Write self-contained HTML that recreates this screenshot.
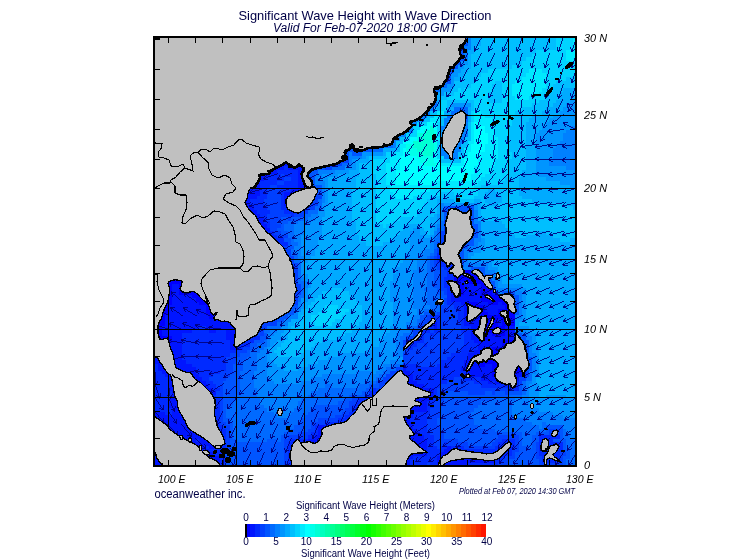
<!DOCTYPE html>
<html><head><meta charset="utf-8"><title>Significant Wave Height with Wave Direction</title>
<style>
html,body{margin:0;padding:0;background:#fff;}
body{width:755px;height:560px;overflow:hidden;font-family:"Liberation Sans",sans-serif;}
svg{display:block}
svg text{font-family:"Liberation Sans",sans-serif;}
</style></head><body>
<svg width="755" height="560" viewBox="0 0 755 560">
<rect width="755" height="560" fill="#fff"/>
<defs><clipPath id="mapclip"><rect x="155" y="38" width="420" height="427"/></clipPath></defs>
<g clip-path="url(#mapclip)" shape-rendering="crispEdges">
<rect x="155" y="38" width="420" height="427" fill="#0080ff"/>
<rect x="152" y="466" width="61" height="3" fill="#0015ff"/>
<rect x="213" y="466" width="10" height="3" fill="#002aff"/>
<rect x="223" y="466" width="3" height="3" fill="#0040ff"/>
<rect x="226" y="466" width="58" height="3" fill="#0055ff"/>
<rect x="284" y="466" width="4" height="3" fill="#0040ff"/>
<rect x="288" y="466" width="30" height="3" fill="#002aff"/>
<rect x="318" y="466" width="38" height="3" fill="#0015ff"/>
<rect x="356" y="466" width="3" height="3" fill="#002aff"/>
<rect x="359" y="466" width="51" height="3" fill="#0015ff"/>
<rect x="410" y="466" width="14" height="3" fill="#002aff"/>
<rect x="424" y="466" width="6" height="3" fill="#0040ff"/>
<rect x="430" y="466" width="7" height="3" fill="#002aff"/>
<rect x="437" y="466" width="21" height="3" fill="#0015ff"/>
<rect x="458" y="466" width="23" height="3" fill="#002aff"/>
<rect x="481" y="466" width="27" height="3" fill="#0040ff"/>
<rect x="508" y="466" width="58" height="3" fill="#0055ff"/>
<rect x="566" y="466" width="14" height="3" fill="#006aff"/>
<rect x="152" y="463" width="68" height="3" fill="#0015ff"/>
<rect x="220" y="463" width="3" height="3" fill="#002aff"/>
<rect x="223" y="463" width="3" height="3" fill="#0040ff"/>
<rect x="226" y="463" width="58" height="3" fill="#0055ff"/>
<rect x="284" y="463" width="4" height="3" fill="#0040ff"/>
<rect x="288" y="463" width="27" height="3" fill="#002aff"/>
<rect x="315" y="463" width="37" height="3" fill="#0015ff"/>
<rect x="352" y="463" width="10" height="3" fill="#002aff"/>
<rect x="362" y="463" width="48" height="3" fill="#0015ff"/>
<rect x="410" y="463" width="17" height="3" fill="#002aff"/>
<rect x="427" y="463" width="3" height="3" fill="#0040ff"/>
<rect x="430" y="463" width="7" height="3" fill="#002aff"/>
<rect x="437" y="463" width="31" height="3" fill="#0015ff"/>
<rect x="468" y="463" width="30" height="3" fill="#002aff"/>
<rect x="498" y="463" width="10" height="3" fill="#0040ff"/>
<rect x="508" y="463" width="31" height="3" fill="#0055ff"/>
<rect x="539" y="463" width="24" height="3" fill="#0040ff"/>
<rect x="563" y="463" width="3" height="3" fill="#0055ff"/>
<rect x="566" y="463" width="14" height="3" fill="#006aff"/>
<rect x="152" y="459" width="68" height="4" fill="#0015ff"/>
<rect x="220" y="459" width="6" height="4" fill="#002aff"/>
<rect x="226" y="459" width="58" height="4" fill="#0055ff"/>
<rect x="284" y="459" width="4" height="4" fill="#0040ff"/>
<rect x="288" y="459" width="23" height="4" fill="#002aff"/>
<rect x="311" y="459" width="41" height="4" fill="#0015ff"/>
<rect x="352" y="459" width="14" height="4" fill="#002aff"/>
<rect x="366" y="459" width="44" height="4" fill="#0015ff"/>
<rect x="410" y="459" width="27" height="4" fill="#002aff"/>
<rect x="437" y="459" width="58" height="4" fill="#0015ff"/>
<rect x="495" y="459" width="7" height="4" fill="#002aff"/>
<rect x="502" y="459" width="6" height="4" fill="#0040ff"/>
<rect x="508" y="459" width="31" height="4" fill="#0055ff"/>
<rect x="539" y="459" width="3" height="4" fill="#0040ff"/>
<rect x="542" y="459" width="18" height="4" fill="#002aff"/>
<rect x="560" y="459" width="3" height="4" fill="#0040ff"/>
<rect x="563" y="459" width="3" height="4" fill="#0055ff"/>
<rect x="566" y="459" width="14" height="4" fill="#006aff"/>
<rect x="152" y="456" width="68" height="3" fill="#0015ff"/>
<rect x="220" y="456" width="6" height="3" fill="#002aff"/>
<rect x="226" y="456" width="58" height="3" fill="#0055ff"/>
<rect x="284" y="456" width="4" height="3" fill="#0040ff"/>
<rect x="288" y="456" width="20" height="3" fill="#002aff"/>
<rect x="308" y="456" width="41" height="3" fill="#0015ff"/>
<rect x="349" y="456" width="17" height="3" fill="#002aff"/>
<rect x="366" y="456" width="47" height="3" fill="#0015ff"/>
<rect x="413" y="456" width="24" height="3" fill="#002aff"/>
<rect x="437" y="456" width="58" height="3" fill="#0015ff"/>
<rect x="495" y="456" width="10" height="3" fill="#002aff"/>
<rect x="505" y="456" width="10" height="3" fill="#0040ff"/>
<rect x="515" y="456" width="21" height="3" fill="#0055ff"/>
<rect x="536" y="456" width="6" height="3" fill="#0040ff"/>
<rect x="542" y="456" width="18" height="3" fill="#002aff"/>
<rect x="560" y="456" width="3" height="3" fill="#0040ff"/>
<rect x="563" y="456" width="7" height="3" fill="#0055ff"/>
<rect x="570" y="456" width="10" height="3" fill="#006aff"/>
<rect x="152" y="452" width="61" height="4" fill="#0015ff"/>
<rect x="213" y="452" width="10" height="4" fill="#002aff"/>
<rect x="223" y="452" width="61" height="4" fill="#0055ff"/>
<rect x="284" y="452" width="4" height="4" fill="#0040ff"/>
<rect x="288" y="452" width="20" height="4" fill="#002aff"/>
<rect x="308" y="452" width="37" height="4" fill="#0015ff"/>
<rect x="345" y="452" width="24" height="4" fill="#002aff"/>
<rect x="369" y="452" width="58" height="4" fill="#0015ff"/>
<rect x="427" y="452" width="13" height="4" fill="#002aff"/>
<rect x="440" y="452" width="18" height="4" fill="#0015ff"/>
<rect x="458" y="452" width="54" height="4" fill="#002aff"/>
<rect x="512" y="452" width="3" height="4" fill="#0040ff"/>
<rect x="515" y="452" width="21" height="4" fill="#0055ff"/>
<rect x="536" y="452" width="3" height="4" fill="#0040ff"/>
<rect x="539" y="452" width="21" height="4" fill="#002aff"/>
<rect x="560" y="452" width="6" height="4" fill="#0040ff"/>
<rect x="566" y="452" width="4" height="4" fill="#0055ff"/>
<rect x="570" y="452" width="10" height="4" fill="#006aff"/>
<rect x="152" y="449" width="57" height="3" fill="#0015ff"/>
<rect x="209" y="449" width="14" height="3" fill="#002aff"/>
<rect x="223" y="449" width="7" height="3" fill="#0040ff"/>
<rect x="230" y="449" width="54" height="3" fill="#0055ff"/>
<rect x="284" y="449" width="4" height="3" fill="#0040ff"/>
<rect x="288" y="449" width="20" height="3" fill="#002aff"/>
<rect x="308" y="449" width="37" height="3" fill="#0015ff"/>
<rect x="345" y="449" width="24" height="3" fill="#002aff"/>
<rect x="369" y="449" width="58" height="3" fill="#0015ff"/>
<rect x="427" y="449" width="17" height="3" fill="#002aff"/>
<rect x="444" y="449" width="10" height="3" fill="#0015ff"/>
<rect x="454" y="449" width="58" height="3" fill="#002aff"/>
<rect x="512" y="449" width="7" height="3" fill="#0040ff"/>
<rect x="519" y="449" width="17" height="3" fill="#0055ff"/>
<rect x="536" y="449" width="3" height="3" fill="#0040ff"/>
<rect x="539" y="449" width="24" height="3" fill="#002aff"/>
<rect x="563" y="449" width="7" height="3" fill="#0055ff"/>
<rect x="570" y="449" width="10" height="3" fill="#006aff"/>
<rect x="152" y="446" width="54" height="3" fill="#0015ff"/>
<rect x="206" y="446" width="3" height="3" fill="#002aff"/>
<rect x="209" y="446" width="11" height="3" fill="#0015ff"/>
<rect x="220" y="446" width="6" height="3" fill="#002aff"/>
<rect x="226" y="446" width="4" height="3" fill="#0040ff"/>
<rect x="230" y="446" width="54" height="3" fill="#0055ff"/>
<rect x="284" y="446" width="4" height="3" fill="#0040ff"/>
<rect x="288" y="446" width="20" height="3" fill="#002aff"/>
<rect x="308" y="446" width="34" height="3" fill="#0015ff"/>
<rect x="342" y="446" width="30" height="3" fill="#002aff"/>
<rect x="372" y="446" width="55" height="3" fill="#0015ff"/>
<rect x="427" y="446" width="10" height="3" fill="#002aff"/>
<rect x="437" y="446" width="3" height="3" fill="#0040ff"/>
<rect x="440" y="446" width="7" height="3" fill="#002aff"/>
<rect x="447" y="446" width="4" height="3" fill="#0015ff"/>
<rect x="451" y="446" width="13" height="3" fill="#002aff"/>
<rect x="464" y="446" width="31" height="3" fill="#0040ff"/>
<rect x="495" y="446" width="20" height="3" fill="#002aff"/>
<rect x="515" y="446" width="4" height="3" fill="#0040ff"/>
<rect x="519" y="446" width="10" height="3" fill="#0055ff"/>
<rect x="529" y="446" width="3" height="3" fill="#006aff"/>
<rect x="532" y="446" width="4" height="3" fill="#0055ff"/>
<rect x="536" y="446" width="3" height="3" fill="#0040ff"/>
<rect x="539" y="446" width="24" height="3" fill="#002aff"/>
<rect x="563" y="446" width="3" height="3" fill="#0055ff"/>
<rect x="566" y="446" width="14" height="3" fill="#006aff"/>
<rect x="152" y="442" width="68" height="4" fill="#0015ff"/>
<rect x="220" y="442" width="6" height="4" fill="#002aff"/>
<rect x="226" y="442" width="4" height="4" fill="#0040ff"/>
<rect x="230" y="442" width="54" height="4" fill="#0055ff"/>
<rect x="284" y="442" width="4" height="4" fill="#0040ff"/>
<rect x="288" y="442" width="20" height="4" fill="#002aff"/>
<rect x="308" y="442" width="30" height="4" fill="#0015ff"/>
<rect x="338" y="442" width="38" height="4" fill="#002aff"/>
<rect x="376" y="442" width="51" height="4" fill="#0015ff"/>
<rect x="427" y="442" width="7" height="4" fill="#002aff"/>
<rect x="434" y="442" width="10" height="4" fill="#0040ff"/>
<rect x="444" y="442" width="3" height="4" fill="#002aff"/>
<rect x="447" y="442" width="21" height="4" fill="#0040ff"/>
<rect x="468" y="442" width="24" height="4" fill="#0055ff"/>
<rect x="492" y="442" width="6" height="4" fill="#0040ff"/>
<rect x="498" y="442" width="17" height="4" fill="#002aff"/>
<rect x="515" y="442" width="4" height="4" fill="#0040ff"/>
<rect x="519" y="442" width="3" height="4" fill="#0055ff"/>
<rect x="522" y="442" width="10" height="4" fill="#006aff"/>
<rect x="532" y="442" width="4" height="4" fill="#0055ff"/>
<rect x="536" y="442" width="3" height="4" fill="#0040ff"/>
<rect x="539" y="442" width="24" height="4" fill="#002aff"/>
<rect x="563" y="442" width="3" height="4" fill="#0055ff"/>
<rect x="566" y="442" width="14" height="4" fill="#006aff"/>
<rect x="152" y="439" width="44" height="3" fill="#0015ff"/>
<rect x="196" y="439" width="3" height="3" fill="#002aff"/>
<rect x="199" y="439" width="17" height="3" fill="#0015ff"/>
<rect x="216" y="439" width="10" height="3" fill="#002aff"/>
<rect x="226" y="439" width="4" height="3" fill="#0040ff"/>
<rect x="230" y="439" width="6" height="3" fill="#0055ff"/>
<rect x="236" y="439" width="31" height="3" fill="#006aff"/>
<rect x="267" y="439" width="10" height="3" fill="#0055ff"/>
<rect x="277" y="439" width="4" height="3" fill="#006aff"/>
<rect x="281" y="439" width="3" height="3" fill="#0055ff"/>
<rect x="284" y="439" width="7" height="3" fill="#0040ff"/>
<rect x="291" y="439" width="17" height="3" fill="#002aff"/>
<rect x="308" y="439" width="27" height="3" fill="#0015ff"/>
<rect x="335" y="439" width="41" height="3" fill="#002aff"/>
<rect x="376" y="439" width="51" height="3" fill="#0015ff"/>
<rect x="427" y="439" width="7" height="3" fill="#002aff"/>
<rect x="434" y="439" width="24" height="3" fill="#0040ff"/>
<rect x="458" y="439" width="37" height="3" fill="#0055ff"/>
<rect x="495" y="439" width="7" height="3" fill="#0040ff"/>
<rect x="502" y="439" width="13" height="3" fill="#002aff"/>
<rect x="515" y="439" width="4" height="3" fill="#0040ff"/>
<rect x="519" y="439" width="3" height="3" fill="#0055ff"/>
<rect x="522" y="439" width="10" height="3" fill="#006aff"/>
<rect x="532" y="439" width="7" height="3" fill="#0055ff"/>
<rect x="539" y="439" width="14" height="3" fill="#002aff"/>
<rect x="553" y="439" width="13" height="3" fill="#0055ff"/>
<rect x="566" y="439" width="14" height="3" fill="#006aff"/>
<rect x="152" y="435" width="64" height="4" fill="#0015ff"/>
<rect x="216" y="435" width="10" height="4" fill="#002aff"/>
<rect x="226" y="435" width="4" height="4" fill="#0040ff"/>
<rect x="230" y="435" width="3" height="4" fill="#0055ff"/>
<rect x="233" y="435" width="48" height="4" fill="#006aff"/>
<rect x="281" y="435" width="7" height="4" fill="#0055ff"/>
<rect x="288" y="435" width="20" height="4" fill="#0040ff"/>
<rect x="308" y="435" width="7" height="4" fill="#002aff"/>
<rect x="315" y="435" width="17" height="4" fill="#0015ff"/>
<rect x="332" y="435" width="44" height="4" fill="#002aff"/>
<rect x="376" y="435" width="48" height="4" fill="#0015ff"/>
<rect x="424" y="435" width="10" height="4" fill="#002aff"/>
<rect x="434" y="435" width="10" height="4" fill="#0040ff"/>
<rect x="444" y="435" width="54" height="4" fill="#0055ff"/>
<rect x="498" y="435" width="21" height="4" fill="#0040ff"/>
<rect x="519" y="435" width="3" height="4" fill="#0055ff"/>
<rect x="522" y="435" width="10" height="4" fill="#006aff"/>
<rect x="532" y="435" width="7" height="4" fill="#0055ff"/>
<rect x="539" y="435" width="21" height="4" fill="#002aff"/>
<rect x="560" y="435" width="3" height="4" fill="#0055ff"/>
<rect x="563" y="435" width="7" height="4" fill="#006aff"/>
<rect x="570" y="435" width="10" height="4" fill="#0080ff"/>
<rect x="152" y="432" width="61" height="3" fill="#0015ff"/>
<rect x="213" y="432" width="13" height="3" fill="#002aff"/>
<rect x="226" y="432" width="4" height="3" fill="#0040ff"/>
<rect x="230" y="432" width="3" height="3" fill="#0055ff"/>
<rect x="233" y="432" width="51" height="3" fill="#006aff"/>
<rect x="284" y="432" width="14" height="3" fill="#0055ff"/>
<rect x="298" y="432" width="13" height="3" fill="#0040ff"/>
<rect x="311" y="432" width="7" height="3" fill="#002aff"/>
<rect x="318" y="432" width="10" height="3" fill="#0015ff"/>
<rect x="328" y="432" width="48" height="3" fill="#002aff"/>
<rect x="376" y="432" width="44" height="3" fill="#0015ff"/>
<rect x="420" y="432" width="10" height="3" fill="#002aff"/>
<rect x="430" y="432" width="14" height="3" fill="#0040ff"/>
<rect x="444" y="432" width="78" height="3" fill="#0055ff"/>
<rect x="522" y="432" width="14" height="3" fill="#006aff"/>
<rect x="536" y="432" width="13" height="3" fill="#0055ff"/>
<rect x="549" y="432" width="11" height="3" fill="#0040ff"/>
<rect x="560" y="432" width="3" height="3" fill="#0055ff"/>
<rect x="563" y="432" width="3" height="3" fill="#006aff"/>
<rect x="566" y="432" width="14" height="3" fill="#0080ff"/>
<rect x="152" y="429" width="57" height="3" fill="#0015ff"/>
<rect x="209" y="429" width="17" height="3" fill="#002aff"/>
<rect x="226" y="429" width="4" height="3" fill="#0040ff"/>
<rect x="230" y="429" width="3" height="3" fill="#0055ff"/>
<rect x="233" y="429" width="58" height="3" fill="#006aff"/>
<rect x="291" y="429" width="17" height="3" fill="#0055ff"/>
<rect x="308" y="429" width="7" height="3" fill="#0040ff"/>
<rect x="315" y="429" width="3" height="3" fill="#002aff"/>
<rect x="318" y="429" width="7" height="3" fill="#0015ff"/>
<rect x="325" y="429" width="51" height="3" fill="#002aff"/>
<rect x="376" y="429" width="41" height="3" fill="#0015ff"/>
<rect x="417" y="429" width="10" height="3" fill="#002aff"/>
<rect x="427" y="429" width="13" height="3" fill="#0040ff"/>
<rect x="440" y="429" width="55" height="3" fill="#0055ff"/>
<rect x="495" y="429" width="51" height="3" fill="#006aff"/>
<rect x="546" y="429" width="3" height="3" fill="#0055ff"/>
<rect x="549" y="429" width="11" height="3" fill="#0040ff"/>
<rect x="560" y="429" width="3" height="3" fill="#0055ff"/>
<rect x="563" y="429" width="3" height="3" fill="#006aff"/>
<rect x="566" y="429" width="14" height="3" fill="#0080ff"/>
<rect x="152" y="425" width="54" height="4" fill="#0015ff"/>
<rect x="206" y="425" width="17" height="4" fill="#002aff"/>
<rect x="223" y="425" width="7" height="4" fill="#0040ff"/>
<rect x="230" y="425" width="3" height="4" fill="#0055ff"/>
<rect x="233" y="425" width="61" height="4" fill="#006aff"/>
<rect x="294" y="425" width="17" height="4" fill="#0055ff"/>
<rect x="311" y="425" width="4" height="4" fill="#0040ff"/>
<rect x="315" y="425" width="3" height="4" fill="#002aff"/>
<rect x="318" y="425" width="7" height="4" fill="#0015ff"/>
<rect x="325" y="425" width="54" height="4" fill="#002aff"/>
<rect x="379" y="425" width="34" height="4" fill="#0015ff"/>
<rect x="413" y="425" width="14" height="4" fill="#002aff"/>
<rect x="427" y="425" width="13" height="4" fill="#0040ff"/>
<rect x="440" y="425" width="38" height="4" fill="#0055ff"/>
<rect x="478" y="425" width="61" height="4" fill="#006aff"/>
<rect x="539" y="425" width="3" height="4" fill="#0080ff"/>
<rect x="542" y="425" width="4" height="4" fill="#006aff"/>
<rect x="546" y="425" width="17" height="4" fill="#0055ff"/>
<rect x="563" y="425" width="17" height="4" fill="#0080ff"/>
<rect x="152" y="422" width="50" height="3" fill="#0015ff"/>
<rect x="202" y="422" width="18" height="3" fill="#002aff"/>
<rect x="220" y="422" width="6" height="3" fill="#0040ff"/>
<rect x="226" y="422" width="7" height="3" fill="#0055ff"/>
<rect x="233" y="422" width="65" height="3" fill="#006aff"/>
<rect x="298" y="422" width="13" height="3" fill="#0055ff"/>
<rect x="311" y="422" width="14" height="3" fill="#0040ff"/>
<rect x="325" y="422" width="54" height="3" fill="#002aff"/>
<rect x="379" y="422" width="34" height="3" fill="#0015ff"/>
<rect x="413" y="422" width="14" height="3" fill="#002aff"/>
<rect x="427" y="422" width="10" height="3" fill="#0040ff"/>
<rect x="437" y="422" width="37" height="3" fill="#0055ff"/>
<rect x="474" y="422" width="58" height="3" fill="#006aff"/>
<rect x="532" y="422" width="10" height="3" fill="#0080ff"/>
<rect x="542" y="422" width="4" height="3" fill="#006aff"/>
<rect x="546" y="422" width="34" height="3" fill="#0080ff"/>
<rect x="152" y="418" width="50" height="4" fill="#0015ff"/>
<rect x="202" y="418" width="18" height="4" fill="#002aff"/>
<rect x="220" y="418" width="3" height="4" fill="#0040ff"/>
<rect x="223" y="418" width="7" height="4" fill="#0055ff"/>
<rect x="230" y="418" width="71" height="4" fill="#006aff"/>
<rect x="301" y="418" width="17" height="4" fill="#0055ff"/>
<rect x="318" y="418" width="20" height="4" fill="#0040ff"/>
<rect x="338" y="418" width="41" height="4" fill="#002aff"/>
<rect x="379" y="418" width="31" height="4" fill="#0015ff"/>
<rect x="410" y="418" width="17" height="4" fill="#002aff"/>
<rect x="427" y="418" width="10" height="4" fill="#0040ff"/>
<rect x="437" y="418" width="37" height="4" fill="#0055ff"/>
<rect x="474" y="418" width="52" height="4" fill="#006aff"/>
<rect x="526" y="418" width="54" height="4" fill="#0080ff"/>
<rect x="152" y="415" width="47" height="3" fill="#0015ff"/>
<rect x="199" y="415" width="21" height="3" fill="#002aff"/>
<rect x="220" y="415" width="3" height="3" fill="#0040ff"/>
<rect x="223" y="415" width="3" height="3" fill="#0055ff"/>
<rect x="226" y="415" width="51" height="3" fill="#006aff"/>
<rect x="277" y="415" width="11" height="3" fill="#0080ff"/>
<rect x="288" y="415" width="16" height="3" fill="#006aff"/>
<rect x="304" y="415" width="31" height="3" fill="#0055ff"/>
<rect x="335" y="415" width="10" height="3" fill="#0040ff"/>
<rect x="345" y="415" width="38" height="3" fill="#002aff"/>
<rect x="383" y="415" width="30" height="3" fill="#0015ff"/>
<rect x="413" y="415" width="14" height="3" fill="#002aff"/>
<rect x="427" y="415" width="13" height="3" fill="#0040ff"/>
<rect x="440" y="415" width="31" height="3" fill="#0055ff"/>
<rect x="471" y="415" width="44" height="3" fill="#006aff"/>
<rect x="515" y="415" width="48" height="3" fill="#0080ff"/>
<rect x="563" y="415" width="17" height="3" fill="#0095ff"/>
<rect x="152" y="412" width="13" height="3" fill="#0015ff"/>
<rect x="165" y="412" width="7" height="3" fill="#002aff"/>
<rect x="172" y="412" width="27" height="3" fill="#0015ff"/>
<rect x="199" y="412" width="21" height="3" fill="#002aff"/>
<rect x="220" y="412" width="3" height="3" fill="#0040ff"/>
<rect x="223" y="412" width="3" height="3" fill="#0055ff"/>
<rect x="226" y="412" width="48" height="3" fill="#006aff"/>
<rect x="274" y="412" width="17" height="3" fill="#0080ff"/>
<rect x="291" y="412" width="17" height="3" fill="#006aff"/>
<rect x="308" y="412" width="34" height="3" fill="#0055ff"/>
<rect x="342" y="412" width="7" height="3" fill="#0040ff"/>
<rect x="349" y="412" width="34" height="3" fill="#002aff"/>
<rect x="383" y="412" width="30" height="3" fill="#0015ff"/>
<rect x="413" y="412" width="17" height="3" fill="#002aff"/>
<rect x="430" y="412" width="10" height="3" fill="#0040ff"/>
<rect x="440" y="412" width="31" height="3" fill="#0055ff"/>
<rect x="471" y="412" width="41" height="3" fill="#006aff"/>
<rect x="512" y="412" width="41" height="3" fill="#0080ff"/>
<rect x="553" y="412" width="27" height="3" fill="#0095ff"/>
<rect x="152" y="408" width="20" height="4" fill="#002aff"/>
<rect x="172" y="408" width="27" height="4" fill="#0015ff"/>
<rect x="199" y="408" width="21" height="4" fill="#002aff"/>
<rect x="220" y="408" width="3" height="4" fill="#0040ff"/>
<rect x="223" y="408" width="3" height="4" fill="#0055ff"/>
<rect x="226" y="408" width="41" height="4" fill="#006aff"/>
<rect x="267" y="408" width="27" height="4" fill="#0080ff"/>
<rect x="294" y="408" width="17" height="4" fill="#006aff"/>
<rect x="311" y="408" width="34" height="4" fill="#0055ff"/>
<rect x="345" y="408" width="7" height="4" fill="#0040ff"/>
<rect x="352" y="408" width="34" height="4" fill="#002aff"/>
<rect x="386" y="408" width="41" height="4" fill="#0015ff"/>
<rect x="427" y="408" width="3" height="4" fill="#002aff"/>
<rect x="430" y="408" width="10" height="4" fill="#0040ff"/>
<rect x="440" y="408" width="34" height="4" fill="#0055ff"/>
<rect x="474" y="408" width="38" height="4" fill="#006aff"/>
<rect x="512" y="408" width="27" height="4" fill="#0080ff"/>
<rect x="539" y="408" width="41" height="4" fill="#0095ff"/>
<rect x="152" y="405" width="16" height="3" fill="#002aff"/>
<rect x="168" y="405" width="31" height="3" fill="#0015ff"/>
<rect x="199" y="405" width="21" height="3" fill="#002aff"/>
<rect x="220" y="405" width="3" height="3" fill="#0040ff"/>
<rect x="223" y="405" width="7" height="3" fill="#0055ff"/>
<rect x="230" y="405" width="34" height="3" fill="#006aff"/>
<rect x="264" y="405" width="34" height="3" fill="#0080ff"/>
<rect x="298" y="405" width="17" height="3" fill="#006aff"/>
<rect x="315" y="405" width="34" height="3" fill="#0055ff"/>
<rect x="349" y="405" width="3" height="3" fill="#0040ff"/>
<rect x="352" y="405" width="34" height="3" fill="#002aff"/>
<rect x="386" y="405" width="4" height="3" fill="#0040ff"/>
<rect x="390" y="405" width="37" height="3" fill="#0015ff"/>
<rect x="427" y="405" width="7" height="3" fill="#002aff"/>
<rect x="434" y="405" width="6" height="3" fill="#0040ff"/>
<rect x="440" y="405" width="38" height="3" fill="#0055ff"/>
<rect x="478" y="405" width="34" height="3" fill="#006aff"/>
<rect x="512" y="405" width="20" height="3" fill="#0080ff"/>
<rect x="532" y="405" width="48" height="3" fill="#0095ff"/>
<rect x="152" y="401" width="16" height="4" fill="#002aff"/>
<rect x="168" y="401" width="31" height="4" fill="#0015ff"/>
<rect x="199" y="401" width="21" height="4" fill="#002aff"/>
<rect x="220" y="401" width="3" height="4" fill="#0040ff"/>
<rect x="223" y="401" width="10" height="4" fill="#0055ff"/>
<rect x="233" y="401" width="27" height="4" fill="#006aff"/>
<rect x="260" y="401" width="38" height="4" fill="#0080ff"/>
<rect x="298" y="401" width="40" height="4" fill="#006aff"/>
<rect x="338" y="401" width="11" height="4" fill="#0055ff"/>
<rect x="349" y="401" width="7" height="4" fill="#0040ff"/>
<rect x="356" y="401" width="27" height="4" fill="#002aff"/>
<rect x="383" y="401" width="10" height="4" fill="#0040ff"/>
<rect x="393" y="401" width="34" height="4" fill="#0015ff"/>
<rect x="427" y="401" width="7" height="4" fill="#002aff"/>
<rect x="434" y="401" width="6" height="4" fill="#0040ff"/>
<rect x="440" y="401" width="41" height="4" fill="#0055ff"/>
<rect x="481" y="401" width="31" height="4" fill="#006aff"/>
<rect x="512" y="401" width="17" height="4" fill="#0080ff"/>
<rect x="529" y="401" width="51" height="4" fill="#0095ff"/>
<rect x="152" y="398" width="16" height="3" fill="#002aff"/>
<rect x="168" y="398" width="38" height="3" fill="#0015ff"/>
<rect x="206" y="398" width="14" height="3" fill="#002aff"/>
<rect x="220" y="398" width="3" height="3" fill="#0040ff"/>
<rect x="223" y="398" width="13" height="3" fill="#0055ff"/>
<rect x="236" y="398" width="24" height="3" fill="#006aff"/>
<rect x="260" y="398" width="41" height="3" fill="#0080ff"/>
<rect x="301" y="398" width="44" height="3" fill="#006aff"/>
<rect x="345" y="398" width="7" height="3" fill="#0055ff"/>
<rect x="352" y="398" width="7" height="3" fill="#0040ff"/>
<rect x="359" y="398" width="24" height="3" fill="#002aff"/>
<rect x="383" y="398" width="13" height="3" fill="#0040ff"/>
<rect x="396" y="398" width="34" height="3" fill="#0015ff"/>
<rect x="430" y="398" width="7" height="3" fill="#002aff"/>
<rect x="437" y="398" width="7" height="3" fill="#0040ff"/>
<rect x="444" y="398" width="48" height="3" fill="#0055ff"/>
<rect x="492" y="398" width="23" height="3" fill="#006aff"/>
<rect x="515" y="398" width="14" height="3" fill="#0080ff"/>
<rect x="529" y="398" width="51" height="3" fill="#0095ff"/>
<rect x="152" y="395" width="20" height="3" fill="#002aff"/>
<rect x="172" y="395" width="41" height="3" fill="#0015ff"/>
<rect x="213" y="395" width="3" height="3" fill="#002aff"/>
<rect x="216" y="395" width="7" height="3" fill="#0040ff"/>
<rect x="223" y="395" width="13" height="3" fill="#0055ff"/>
<rect x="236" y="395" width="21" height="3" fill="#006aff"/>
<rect x="257" y="395" width="51" height="3" fill="#0080ff"/>
<rect x="308" y="395" width="41" height="3" fill="#006aff"/>
<rect x="349" y="395" width="17" height="3" fill="#0055ff"/>
<rect x="366" y="395" width="13" height="3" fill="#002aff"/>
<rect x="379" y="395" width="17" height="3" fill="#0040ff"/>
<rect x="396" y="395" width="38" height="3" fill="#0015ff"/>
<rect x="434" y="395" width="3" height="3" fill="#002aff"/>
<rect x="437" y="395" width="7" height="3" fill="#0040ff"/>
<rect x="444" y="395" width="64" height="3" fill="#0055ff"/>
<rect x="508" y="395" width="14" height="3" fill="#006aff"/>
<rect x="522" y="395" width="7" height="3" fill="#0080ff"/>
<rect x="529" y="395" width="10" height="3" fill="#0095ff"/>
<rect x="539" y="395" width="7" height="3" fill="#00aaff"/>
<rect x="546" y="395" width="20" height="3" fill="#0095ff"/>
<rect x="566" y="395" width="14" height="3" fill="#00aaff"/>
<rect x="152" y="391" width="20" height="4" fill="#002aff"/>
<rect x="172" y="391" width="44" height="4" fill="#0015ff"/>
<rect x="216" y="391" width="7" height="4" fill="#0040ff"/>
<rect x="223" y="391" width="17" height="4" fill="#0055ff"/>
<rect x="240" y="391" width="17" height="4" fill="#006aff"/>
<rect x="257" y="391" width="54" height="4" fill="#0080ff"/>
<rect x="311" y="391" width="51" height="4" fill="#006aff"/>
<rect x="362" y="391" width="7" height="4" fill="#0055ff"/>
<rect x="369" y="391" width="10" height="4" fill="#002aff"/>
<rect x="379" y="391" width="17" height="4" fill="#0040ff"/>
<rect x="396" y="391" width="38" height="4" fill="#0015ff"/>
<rect x="434" y="391" width="3" height="4" fill="#002aff"/>
<rect x="437" y="391" width="10" height="4" fill="#0040ff"/>
<rect x="447" y="391" width="21" height="4" fill="#0055ff"/>
<rect x="468" y="391" width="17" height="4" fill="#0040ff"/>
<rect x="485" y="391" width="7" height="4" fill="#0055ff"/>
<rect x="492" y="391" width="3" height="4" fill="#0040ff"/>
<rect x="495" y="391" width="10" height="4" fill="#0055ff"/>
<rect x="505" y="391" width="3" height="4" fill="#0040ff"/>
<rect x="508" y="391" width="14" height="4" fill="#0055ff"/>
<rect x="522" y="391" width="4" height="4" fill="#006aff"/>
<rect x="526" y="391" width="3" height="4" fill="#0080ff"/>
<rect x="529" y="391" width="10" height="4" fill="#0095ff"/>
<rect x="539" y="391" width="41" height="4" fill="#00aaff"/>
<rect x="152" y="388" width="16" height="3" fill="#002aff"/>
<rect x="168" y="388" width="45" height="3" fill="#0015ff"/>
<rect x="213" y="388" width="7" height="3" fill="#002aff"/>
<rect x="220" y="388" width="3" height="3" fill="#0040ff"/>
<rect x="223" y="388" width="17" height="3" fill="#0055ff"/>
<rect x="240" y="388" width="17" height="3" fill="#006aff"/>
<rect x="257" y="388" width="61" height="3" fill="#0080ff"/>
<rect x="318" y="388" width="48" height="3" fill="#006aff"/>
<rect x="366" y="388" width="6" height="3" fill="#0055ff"/>
<rect x="372" y="388" width="4" height="3" fill="#002aff"/>
<rect x="376" y="388" width="20" height="3" fill="#0040ff"/>
<rect x="396" y="388" width="38" height="3" fill="#0015ff"/>
<rect x="434" y="388" width="3" height="3" fill="#002aff"/>
<rect x="437" y="388" width="71" height="3" fill="#0040ff"/>
<rect x="508" y="388" width="11" height="3" fill="#002aff"/>
<rect x="519" y="388" width="3" height="3" fill="#0055ff"/>
<rect x="522" y="388" width="4" height="3" fill="#006aff"/>
<rect x="526" y="388" width="3" height="3" fill="#0080ff"/>
<rect x="529" y="388" width="10" height="3" fill="#0095ff"/>
<rect x="539" y="388" width="41" height="3" fill="#00aaff"/>
<rect x="152" y="384" width="16" height="4" fill="#002aff"/>
<rect x="168" y="384" width="41" height="4" fill="#0015ff"/>
<rect x="209" y="384" width="7" height="4" fill="#002aff"/>
<rect x="216" y="384" width="7" height="4" fill="#0040ff"/>
<rect x="223" y="384" width="17" height="4" fill="#0055ff"/>
<rect x="240" y="384" width="14" height="4" fill="#006aff"/>
<rect x="254" y="384" width="71" height="4" fill="#0080ff"/>
<rect x="325" y="384" width="7" height="4" fill="#006aff"/>
<rect x="332" y="384" width="27" height="4" fill="#0080ff"/>
<rect x="359" y="384" width="10" height="4" fill="#006aff"/>
<rect x="369" y="384" width="10" height="4" fill="#0055ff"/>
<rect x="379" y="384" width="17" height="4" fill="#0040ff"/>
<rect x="396" y="384" width="28" height="4" fill="#0015ff"/>
<rect x="424" y="384" width="16" height="4" fill="#002aff"/>
<rect x="440" y="384" width="41" height="4" fill="#0040ff"/>
<rect x="481" y="384" width="38" height="4" fill="#002aff"/>
<rect x="519" y="384" width="3" height="4" fill="#0055ff"/>
<rect x="522" y="384" width="4" height="4" fill="#006aff"/>
<rect x="526" y="384" width="3" height="4" fill="#0080ff"/>
<rect x="529" y="384" width="10" height="4" fill="#0095ff"/>
<rect x="539" y="384" width="41" height="4" fill="#00aaff"/>
<rect x="152" y="381" width="16" height="3" fill="#002aff"/>
<rect x="168" y="381" width="38" height="3" fill="#0015ff"/>
<rect x="206" y="381" width="7" height="3" fill="#002aff"/>
<rect x="213" y="381" width="10" height="3" fill="#0040ff"/>
<rect x="223" y="381" width="17" height="3" fill="#0055ff"/>
<rect x="240" y="381" width="14" height="3" fill="#006aff"/>
<rect x="254" y="381" width="20" height="3" fill="#0080ff"/>
<rect x="274" y="381" width="27" height="3" fill="#0095ff"/>
<rect x="301" y="381" width="65" height="3" fill="#0080ff"/>
<rect x="366" y="381" width="10" height="3" fill="#006aff"/>
<rect x="376" y="381" width="3" height="3" fill="#0055ff"/>
<rect x="379" y="381" width="21" height="3" fill="#0040ff"/>
<rect x="400" y="381" width="17" height="3" fill="#0015ff"/>
<rect x="417" y="381" width="30" height="3" fill="#002aff"/>
<rect x="447" y="381" width="27" height="3" fill="#0040ff"/>
<rect x="474" y="381" width="14" height="3" fill="#002aff"/>
<rect x="488" y="381" width="4" height="3" fill="#0015ff"/>
<rect x="492" y="381" width="3" height="3" fill="#002aff"/>
<rect x="495" y="381" width="10" height="3" fill="#0015ff"/>
<rect x="505" y="381" width="14" height="3" fill="#002aff"/>
<rect x="519" y="381" width="3" height="3" fill="#0040ff"/>
<rect x="522" y="381" width="4" height="3" fill="#006aff"/>
<rect x="526" y="381" width="6" height="3" fill="#0080ff"/>
<rect x="532" y="381" width="4" height="3" fill="#0095ff"/>
<rect x="536" y="381" width="44" height="3" fill="#00aaff"/>
<rect x="152" y="377" width="16" height="4" fill="#002aff"/>
<rect x="168" y="377" width="34" height="4" fill="#0015ff"/>
<rect x="202" y="377" width="7" height="4" fill="#002aff"/>
<rect x="209" y="377" width="17" height="4" fill="#0040ff"/>
<rect x="226" y="377" width="14" height="4" fill="#0055ff"/>
<rect x="240" y="377" width="14" height="4" fill="#006aff"/>
<rect x="254" y="377" width="16" height="4" fill="#0080ff"/>
<rect x="270" y="377" width="41" height="4" fill="#0095ff"/>
<rect x="311" y="377" width="65" height="4" fill="#0080ff"/>
<rect x="376" y="377" width="7" height="4" fill="#006aff"/>
<rect x="383" y="377" width="20" height="4" fill="#0040ff"/>
<rect x="403" y="377" width="10" height="4" fill="#0015ff"/>
<rect x="413" y="377" width="41" height="4" fill="#002aff"/>
<rect x="454" y="377" width="10" height="4" fill="#0040ff"/>
<rect x="464" y="377" width="17" height="4" fill="#002aff"/>
<rect x="481" y="377" width="24" height="4" fill="#0015ff"/>
<rect x="505" y="377" width="7" height="4" fill="#002aff"/>
<rect x="512" y="377" width="7" height="4" fill="#0015ff"/>
<rect x="519" y="377" width="7" height="4" fill="#0040ff"/>
<rect x="526" y="377" width="6" height="4" fill="#006aff"/>
<rect x="532" y="377" width="4" height="4" fill="#0095ff"/>
<rect x="536" y="377" width="44" height="4" fill="#00aaff"/>
<rect x="152" y="374" width="13" height="3" fill="#002aff"/>
<rect x="165" y="374" width="34" height="3" fill="#0015ff"/>
<rect x="199" y="374" width="14" height="3" fill="#002aff"/>
<rect x="213" y="374" width="17" height="3" fill="#0040ff"/>
<rect x="230" y="374" width="10" height="3" fill="#0055ff"/>
<rect x="240" y="374" width="14" height="3" fill="#006aff"/>
<rect x="254" y="374" width="13" height="3" fill="#0080ff"/>
<rect x="267" y="374" width="55" height="3" fill="#0095ff"/>
<rect x="322" y="374" width="57" height="3" fill="#0080ff"/>
<rect x="379" y="374" width="7" height="3" fill="#006aff"/>
<rect x="386" y="374" width="17" height="3" fill="#0040ff"/>
<rect x="403" y="374" width="10" height="3" fill="#0015ff"/>
<rect x="413" y="374" width="48" height="3" fill="#002aff"/>
<rect x="461" y="374" width="3" height="3" fill="#0040ff"/>
<rect x="464" y="374" width="7" height="3" fill="#002aff"/>
<rect x="471" y="374" width="21" height="3" fill="#0015ff"/>
<rect x="492" y="374" width="6" height="3" fill="#0000ff"/>
<rect x="498" y="374" width="24" height="3" fill="#0015ff"/>
<rect x="522" y="374" width="4" height="3" fill="#002aff"/>
<rect x="526" y="374" width="3" height="3" fill="#0040ff"/>
<rect x="529" y="374" width="3" height="3" fill="#006aff"/>
<rect x="532" y="374" width="7" height="3" fill="#0095ff"/>
<rect x="539" y="374" width="41" height="3" fill="#00aaff"/>
<rect x="152" y="371" width="10" height="3" fill="#002aff"/>
<rect x="162" y="371" width="34" height="3" fill="#0015ff"/>
<rect x="196" y="371" width="24" height="3" fill="#002aff"/>
<rect x="220" y="371" width="13" height="3" fill="#0040ff"/>
<rect x="233" y="371" width="7" height="3" fill="#0055ff"/>
<rect x="240" y="371" width="14" height="3" fill="#006aff"/>
<rect x="254" y="371" width="13" height="3" fill="#0080ff"/>
<rect x="267" y="371" width="89" height="3" fill="#0095ff"/>
<rect x="356" y="371" width="16" height="3" fill="#0080ff"/>
<rect x="372" y="371" width="4" height="3" fill="#0095ff"/>
<rect x="376" y="371" width="7" height="3" fill="#0080ff"/>
<rect x="383" y="371" width="7" height="3" fill="#006aff"/>
<rect x="390" y="371" width="13" height="3" fill="#0040ff"/>
<rect x="403" y="371" width="7" height="3" fill="#0015ff"/>
<rect x="410" y="371" width="58" height="3" fill="#002aff"/>
<rect x="468" y="371" width="24" height="3" fill="#0015ff"/>
<rect x="492" y="371" width="10" height="3" fill="#0000ff"/>
<rect x="502" y="371" width="3" height="3" fill="#0015ff"/>
<rect x="505" y="371" width="14" height="3" fill="#0000ff"/>
<rect x="519" y="371" width="7" height="3" fill="#0015ff"/>
<rect x="526" y="371" width="3" height="3" fill="#0040ff"/>
<rect x="529" y="371" width="7" height="3" fill="#0080ff"/>
<rect x="536" y="371" width="3" height="3" fill="#0095ff"/>
<rect x="539" y="371" width="41" height="3" fill="#00aaff"/>
<rect x="152" y="367" width="6" height="4" fill="#002aff"/>
<rect x="158" y="367" width="38" height="4" fill="#0015ff"/>
<rect x="196" y="367" width="30" height="4" fill="#002aff"/>
<rect x="226" y="367" width="7" height="4" fill="#0040ff"/>
<rect x="233" y="367" width="10" height="4" fill="#0055ff"/>
<rect x="243" y="367" width="14" height="4" fill="#006aff"/>
<rect x="257" y="367" width="10" height="4" fill="#0080ff"/>
<rect x="267" y="367" width="17" height="4" fill="#0095ff"/>
<rect x="284" y="367" width="14" height="4" fill="#00aaff"/>
<rect x="298" y="367" width="81" height="4" fill="#0095ff"/>
<rect x="379" y="367" width="7" height="4" fill="#0080ff"/>
<rect x="386" y="367" width="10" height="4" fill="#006aff"/>
<rect x="396" y="367" width="7" height="4" fill="#0040ff"/>
<rect x="403" y="367" width="3" height="4" fill="#0015ff"/>
<rect x="406" y="367" width="55" height="4" fill="#002aff"/>
<rect x="461" y="367" width="31" height="4" fill="#0015ff"/>
<rect x="492" y="367" width="34" height="4" fill="#0000ff"/>
<rect x="526" y="367" width="6" height="4" fill="#0055ff"/>
<rect x="532" y="367" width="4" height="4" fill="#0080ff"/>
<rect x="536" y="367" width="3" height="4" fill="#0095ff"/>
<rect x="539" y="367" width="41" height="4" fill="#00aaff"/>
<rect x="152" y="364" width="6" height="3" fill="#002aff"/>
<rect x="158" y="364" width="34" height="3" fill="#0015ff"/>
<rect x="192" y="364" width="34" height="3" fill="#002aff"/>
<rect x="226" y="364" width="7" height="3" fill="#0040ff"/>
<rect x="233" y="364" width="10" height="3" fill="#0055ff"/>
<rect x="243" y="364" width="14" height="3" fill="#006aff"/>
<rect x="257" y="364" width="10" height="3" fill="#0080ff"/>
<rect x="267" y="364" width="10" height="3" fill="#0095ff"/>
<rect x="277" y="364" width="31" height="3" fill="#00aaff"/>
<rect x="308" y="364" width="75" height="3" fill="#0095ff"/>
<rect x="383" y="364" width="10" height="3" fill="#0080ff"/>
<rect x="393" y="364" width="10" height="3" fill="#006aff"/>
<rect x="403" y="364" width="14" height="3" fill="#002aff"/>
<rect x="417" y="364" width="20" height="3" fill="#0040ff"/>
<rect x="437" y="364" width="27" height="3" fill="#002aff"/>
<rect x="464" y="364" width="14" height="3" fill="#0015ff"/>
<rect x="478" y="364" width="7" height="3" fill="#0000ff"/>
<rect x="485" y="364" width="7" height="3" fill="#0015ff"/>
<rect x="492" y="364" width="34" height="3" fill="#0000ff"/>
<rect x="526" y="364" width="6" height="3" fill="#0055ff"/>
<rect x="532" y="364" width="4" height="3" fill="#0080ff"/>
<rect x="536" y="364" width="3" height="3" fill="#0095ff"/>
<rect x="539" y="364" width="41" height="3" fill="#00aaff"/>
<rect x="152" y="360" width="3" height="4" fill="#002aff"/>
<rect x="155" y="360" width="31" height="4" fill="#0015ff"/>
<rect x="186" y="360" width="40" height="4" fill="#002aff"/>
<rect x="226" y="360" width="10" height="4" fill="#0040ff"/>
<rect x="236" y="360" width="7" height="4" fill="#0055ff"/>
<rect x="243" y="360" width="14" height="4" fill="#006aff"/>
<rect x="257" y="360" width="10" height="4" fill="#0080ff"/>
<rect x="267" y="360" width="7" height="4" fill="#0095ff"/>
<rect x="274" y="360" width="44" height="4" fill="#00aaff"/>
<rect x="318" y="360" width="72" height="4" fill="#0095ff"/>
<rect x="390" y="360" width="13" height="4" fill="#0080ff"/>
<rect x="403" y="360" width="37" height="4" fill="#0040ff"/>
<rect x="440" y="360" width="24" height="4" fill="#002aff"/>
<rect x="464" y="360" width="17" height="4" fill="#0015ff"/>
<rect x="481" y="360" width="41" height="4" fill="#0000ff"/>
<rect x="522" y="360" width="10" height="4" fill="#0055ff"/>
<rect x="532" y="360" width="4" height="4" fill="#0080ff"/>
<rect x="536" y="360" width="3" height="4" fill="#0095ff"/>
<rect x="539" y="360" width="41" height="4" fill="#00aaff"/>
<rect x="152" y="357" width="30" height="3" fill="#0015ff"/>
<rect x="182" y="357" width="44" height="3" fill="#002aff"/>
<rect x="226" y="357" width="10" height="3" fill="#0040ff"/>
<rect x="236" y="357" width="11" height="3" fill="#0055ff"/>
<rect x="247" y="357" width="10" height="3" fill="#006aff"/>
<rect x="257" y="357" width="10" height="3" fill="#0080ff"/>
<rect x="267" y="357" width="3" height="3" fill="#0095ff"/>
<rect x="270" y="357" width="58" height="3" fill="#00aaff"/>
<rect x="328" y="357" width="75" height="3" fill="#0095ff"/>
<rect x="403" y="357" width="44" height="3" fill="#0040ff"/>
<rect x="447" y="357" width="21" height="3" fill="#002aff"/>
<rect x="468" y="357" width="13" height="3" fill="#0015ff"/>
<rect x="481" y="357" width="38" height="3" fill="#0000ff"/>
<rect x="519" y="357" width="13" height="3" fill="#0055ff"/>
<rect x="532" y="357" width="4" height="3" fill="#0080ff"/>
<rect x="536" y="357" width="3" height="3" fill="#0095ff"/>
<rect x="539" y="357" width="41" height="3" fill="#00aaff"/>
<rect x="152" y="353" width="30" height="4" fill="#0015ff"/>
<rect x="182" y="353" width="48" height="4" fill="#002aff"/>
<rect x="230" y="353" width="10" height="4" fill="#0040ff"/>
<rect x="240" y="353" width="10" height="4" fill="#0055ff"/>
<rect x="250" y="353" width="7" height="4" fill="#006aff"/>
<rect x="257" y="353" width="10" height="4" fill="#0080ff"/>
<rect x="267" y="353" width="3" height="4" fill="#0095ff"/>
<rect x="270" y="353" width="7" height="4" fill="#00aaff"/>
<rect x="277" y="353" width="24" height="4" fill="#00bfff"/>
<rect x="301" y="353" width="37" height="4" fill="#00aaff"/>
<rect x="338" y="353" width="58" height="4" fill="#0095ff"/>
<rect x="396" y="353" width="7" height="4" fill="#0080ff"/>
<rect x="403" y="353" width="48" height="4" fill="#0040ff"/>
<rect x="451" y="353" width="17" height="4" fill="#002aff"/>
<rect x="468" y="353" width="17" height="4" fill="#0015ff"/>
<rect x="485" y="353" width="30" height="4" fill="#0000ff"/>
<rect x="515" y="353" width="14" height="4" fill="#0055ff"/>
<rect x="529" y="353" width="7" height="4" fill="#0080ff"/>
<rect x="536" y="353" width="3" height="4" fill="#0095ff"/>
<rect x="539" y="353" width="41" height="4" fill="#00aaff"/>
<rect x="152" y="350" width="30" height="3" fill="#0015ff"/>
<rect x="182" y="350" width="54" height="3" fill="#002aff"/>
<rect x="236" y="350" width="11" height="3" fill="#0040ff"/>
<rect x="247" y="350" width="3" height="3" fill="#0055ff"/>
<rect x="250" y="350" width="10" height="3" fill="#006aff"/>
<rect x="260" y="350" width="7" height="3" fill="#0080ff"/>
<rect x="267" y="350" width="3" height="3" fill="#0095ff"/>
<rect x="270" y="350" width="4" height="3" fill="#00aaff"/>
<rect x="274" y="350" width="30" height="3" fill="#00bfff"/>
<rect x="304" y="350" width="62" height="3" fill="#00aaff"/>
<rect x="366" y="350" width="30" height="3" fill="#0095ff"/>
<rect x="396" y="350" width="7" height="3" fill="#0080ff"/>
<rect x="403" y="350" width="3" height="3" fill="#0055ff"/>
<rect x="406" y="350" width="55" height="3" fill="#0040ff"/>
<rect x="461" y="350" width="13" height="3" fill="#002aff"/>
<rect x="474" y="350" width="18" height="3" fill="#0015ff"/>
<rect x="492" y="350" width="23" height="3" fill="#0000ff"/>
<rect x="515" y="350" width="14" height="3" fill="#0055ff"/>
<rect x="529" y="350" width="3" height="3" fill="#0080ff"/>
<rect x="532" y="350" width="7" height="3" fill="#0095ff"/>
<rect x="539" y="350" width="41" height="3" fill="#00aaff"/>
<rect x="152" y="347" width="6" height="3" fill="#0015ff"/>
<rect x="158" y="347" width="4" height="3" fill="#0000ff"/>
<rect x="162" y="347" width="20" height="3" fill="#0015ff"/>
<rect x="182" y="347" width="48" height="3" fill="#002aff"/>
<rect x="230" y="347" width="6" height="3" fill="#0015ff"/>
<rect x="236" y="347" width="7" height="3" fill="#002aff"/>
<rect x="243" y="347" width="7" height="3" fill="#0040ff"/>
<rect x="250" y="347" width="4" height="3" fill="#0055ff"/>
<rect x="254" y="347" width="10" height="3" fill="#006aff"/>
<rect x="264" y="347" width="3" height="3" fill="#0080ff"/>
<rect x="267" y="347" width="3" height="3" fill="#0095ff"/>
<rect x="270" y="347" width="7" height="3" fill="#00aaff"/>
<rect x="277" y="347" width="34" height="3" fill="#00bfff"/>
<rect x="311" y="347" width="61" height="3" fill="#00aaff"/>
<rect x="372" y="347" width="24" height="3" fill="#0095ff"/>
<rect x="396" y="347" width="4" height="3" fill="#0080ff"/>
<rect x="400" y="347" width="3" height="3" fill="#006aff"/>
<rect x="403" y="347" width="3" height="3" fill="#0040ff"/>
<rect x="406" y="347" width="7" height="3" fill="#002aff"/>
<rect x="413" y="347" width="48" height="3" fill="#0040ff"/>
<rect x="461" y="347" width="17" height="3" fill="#002aff"/>
<rect x="478" y="347" width="14" height="3" fill="#0015ff"/>
<rect x="492" y="347" width="27" height="3" fill="#0000ff"/>
<rect x="519" y="347" width="10" height="3" fill="#0055ff"/>
<rect x="529" y="347" width="3" height="3" fill="#0080ff"/>
<rect x="532" y="347" width="4" height="3" fill="#0095ff"/>
<rect x="536" y="347" width="44" height="3" fill="#00aaff"/>
<rect x="152" y="343" width="13" height="4" fill="#0000ff"/>
<rect x="165" y="343" width="17" height="4" fill="#0015ff"/>
<rect x="182" y="343" width="48" height="4" fill="#002aff"/>
<rect x="230" y="343" width="6" height="4" fill="#0015ff"/>
<rect x="236" y="343" width="14" height="4" fill="#002aff"/>
<rect x="250" y="343" width="7" height="4" fill="#0055ff"/>
<rect x="257" y="343" width="10" height="4" fill="#006aff"/>
<rect x="267" y="343" width="3" height="4" fill="#0080ff"/>
<rect x="270" y="343" width="4" height="4" fill="#0095ff"/>
<rect x="274" y="343" width="7" height="4" fill="#00aaff"/>
<rect x="281" y="343" width="34" height="4" fill="#00bfff"/>
<rect x="315" y="343" width="64" height="4" fill="#00aaff"/>
<rect x="379" y="343" width="17" height="4" fill="#0095ff"/>
<rect x="396" y="343" width="4" height="4" fill="#0080ff"/>
<rect x="400" y="343" width="3" height="4" fill="#006aff"/>
<rect x="403" y="343" width="7" height="4" fill="#0040ff"/>
<rect x="410" y="343" width="7" height="4" fill="#002aff"/>
<rect x="417" y="343" width="7" height="4" fill="#0040ff"/>
<rect x="424" y="343" width="3" height="4" fill="#002aff"/>
<rect x="427" y="343" width="37" height="4" fill="#0040ff"/>
<rect x="464" y="343" width="14" height="4" fill="#002aff"/>
<rect x="478" y="343" width="24" height="4" fill="#0015ff"/>
<rect x="502" y="343" width="17" height="4" fill="#0000ff"/>
<rect x="519" y="343" width="10" height="4" fill="#0055ff"/>
<rect x="529" y="343" width="3" height="4" fill="#0080ff"/>
<rect x="532" y="343" width="4" height="4" fill="#0095ff"/>
<rect x="536" y="343" width="44" height="4" fill="#00aaff"/>
<rect x="152" y="340" width="20" height="3" fill="#0000ff"/>
<rect x="172" y="340" width="10" height="3" fill="#0015ff"/>
<rect x="182" y="340" width="48" height="3" fill="#002aff"/>
<rect x="230" y="340" width="10" height="3" fill="#0015ff"/>
<rect x="240" y="340" width="14" height="3" fill="#002aff"/>
<rect x="254" y="340" width="10" height="3" fill="#0055ff"/>
<rect x="264" y="340" width="3" height="3" fill="#006aff"/>
<rect x="267" y="340" width="3" height="3" fill="#0080ff"/>
<rect x="270" y="340" width="7" height="3" fill="#0095ff"/>
<rect x="277" y="340" width="7" height="3" fill="#00aaff"/>
<rect x="284" y="340" width="38" height="3" fill="#00bfff"/>
<rect x="322" y="340" width="61" height="3" fill="#00aaff"/>
<rect x="383" y="340" width="13" height="3" fill="#0095ff"/>
<rect x="396" y="340" width="4" height="3" fill="#0080ff"/>
<rect x="400" y="340" width="3" height="3" fill="#006aff"/>
<rect x="403" y="340" width="10" height="3" fill="#0040ff"/>
<rect x="413" y="340" width="11" height="3" fill="#002aff"/>
<rect x="424" y="340" width="40" height="3" fill="#0040ff"/>
<rect x="464" y="340" width="10" height="3" fill="#002aff"/>
<rect x="474" y="340" width="28" height="3" fill="#0015ff"/>
<rect x="502" y="340" width="13" height="3" fill="#0000ff"/>
<rect x="515" y="340" width="14" height="3" fill="#0055ff"/>
<rect x="529" y="340" width="3" height="3" fill="#0080ff"/>
<rect x="532" y="340" width="4" height="3" fill="#0095ff"/>
<rect x="536" y="340" width="44" height="3" fill="#00aaff"/>
<rect x="152" y="336" width="20" height="4" fill="#0000ff"/>
<rect x="172" y="336" width="10" height="4" fill="#0015ff"/>
<rect x="182" y="336" width="44" height="4" fill="#002aff"/>
<rect x="226" y="336" width="17" height="4" fill="#0015ff"/>
<rect x="243" y="336" width="17" height="4" fill="#002aff"/>
<rect x="260" y="336" width="7" height="4" fill="#0055ff"/>
<rect x="267" y="336" width="3" height="4" fill="#0080ff"/>
<rect x="270" y="336" width="11" height="4" fill="#0095ff"/>
<rect x="281" y="336" width="7" height="4" fill="#00aaff"/>
<rect x="288" y="336" width="50" height="4" fill="#00bfff"/>
<rect x="338" y="336" width="45" height="4" fill="#00aaff"/>
<rect x="383" y="336" width="13" height="4" fill="#0095ff"/>
<rect x="396" y="336" width="4" height="4" fill="#0080ff"/>
<rect x="400" y="336" width="6" height="4" fill="#006aff"/>
<rect x="406" y="336" width="14" height="4" fill="#0040ff"/>
<rect x="420" y="336" width="4" height="4" fill="#002aff"/>
<rect x="424" y="336" width="40" height="4" fill="#0040ff"/>
<rect x="464" y="336" width="7" height="4" fill="#002aff"/>
<rect x="471" y="336" width="14" height="4" fill="#0015ff"/>
<rect x="485" y="336" width="3" height="4" fill="#0000ff"/>
<rect x="488" y="336" width="27" height="4" fill="#0015ff"/>
<rect x="515" y="336" width="11" height="4" fill="#0055ff"/>
<rect x="526" y="336" width="6" height="4" fill="#0080ff"/>
<rect x="532" y="336" width="4" height="4" fill="#0095ff"/>
<rect x="536" y="336" width="44" height="4" fill="#00aaff"/>
<rect x="152" y="333" width="10" height="3" fill="#0000ff"/>
<rect x="162" y="333" width="20" height="3" fill="#0015ff"/>
<rect x="182" y="333" width="44" height="3" fill="#002aff"/>
<rect x="226" y="333" width="17" height="3" fill="#0015ff"/>
<rect x="243" y="333" width="14" height="3" fill="#002aff"/>
<rect x="257" y="333" width="7" height="3" fill="#0040ff"/>
<rect x="264" y="333" width="3" height="3" fill="#0055ff"/>
<rect x="267" y="333" width="7" height="3" fill="#0080ff"/>
<rect x="274" y="333" width="7" height="3" fill="#0095ff"/>
<rect x="281" y="333" width="7" height="3" fill="#00aaff"/>
<rect x="288" y="333" width="57" height="3" fill="#00bfff"/>
<rect x="345" y="333" width="41" height="3" fill="#00aaff"/>
<rect x="386" y="333" width="10" height="3" fill="#0095ff"/>
<rect x="396" y="333" width="7" height="3" fill="#0080ff"/>
<rect x="403" y="333" width="10" height="3" fill="#006aff"/>
<rect x="413" y="333" width="7" height="3" fill="#0040ff"/>
<rect x="420" y="333" width="4" height="3" fill="#002aff"/>
<rect x="424" y="333" width="6" height="3" fill="#0040ff"/>
<rect x="430" y="333" width="4" height="3" fill="#002aff"/>
<rect x="434" y="333" width="30" height="3" fill="#0040ff"/>
<rect x="464" y="333" width="7" height="3" fill="#002aff"/>
<rect x="471" y="333" width="10" height="3" fill="#0015ff"/>
<rect x="481" y="333" width="7" height="3" fill="#0000ff"/>
<rect x="488" y="333" width="4" height="3" fill="#0015ff"/>
<rect x="492" y="333" width="13" height="3" fill="#0000ff"/>
<rect x="505" y="333" width="10" height="3" fill="#0015ff"/>
<rect x="515" y="333" width="7" height="3" fill="#0055ff"/>
<rect x="522" y="333" width="7" height="3" fill="#0080ff"/>
<rect x="529" y="333" width="7" height="3" fill="#0095ff"/>
<rect x="536" y="333" width="44" height="3" fill="#00aaff"/>
<rect x="152" y="329" width="10" height="4" fill="#0000ff"/>
<rect x="162" y="329" width="30" height="4" fill="#0015ff"/>
<rect x="192" y="329" width="17" height="4" fill="#002aff"/>
<rect x="209" y="329" width="7" height="4" fill="#0015ff"/>
<rect x="216" y="329" width="10" height="4" fill="#002aff"/>
<rect x="226" y="329" width="17" height="4" fill="#0015ff"/>
<rect x="243" y="329" width="11" height="4" fill="#002aff"/>
<rect x="254" y="329" width="10" height="4" fill="#0040ff"/>
<rect x="264" y="329" width="6" height="4" fill="#006aff"/>
<rect x="270" y="329" width="7" height="4" fill="#0080ff"/>
<rect x="277" y="329" width="7" height="4" fill="#0095ff"/>
<rect x="284" y="329" width="7" height="4" fill="#00aaff"/>
<rect x="291" y="329" width="61" height="4" fill="#00bfff"/>
<rect x="352" y="329" width="38" height="4" fill="#00aaff"/>
<rect x="390" y="329" width="10" height="4" fill="#0095ff"/>
<rect x="400" y="329" width="10" height="4" fill="#0080ff"/>
<rect x="410" y="329" width="3" height="4" fill="#006aff"/>
<rect x="413" y="329" width="7" height="4" fill="#0040ff"/>
<rect x="420" y="329" width="10" height="4" fill="#002aff"/>
<rect x="430" y="329" width="4" height="4" fill="#0040ff"/>
<rect x="434" y="329" width="6" height="4" fill="#002aff"/>
<rect x="440" y="329" width="21" height="4" fill="#0040ff"/>
<rect x="461" y="329" width="10" height="4" fill="#002aff"/>
<rect x="471" y="329" width="10" height="4" fill="#0015ff"/>
<rect x="481" y="329" width="24" height="4" fill="#0000ff"/>
<rect x="505" y="329" width="10" height="4" fill="#0015ff"/>
<rect x="515" y="329" width="11" height="4" fill="#0080ff"/>
<rect x="526" y="329" width="6" height="4" fill="#0095ff"/>
<rect x="532" y="329" width="48" height="4" fill="#00aaff"/>
<rect x="152" y="326" width="10" height="3" fill="#0000ff"/>
<rect x="162" y="326" width="37" height="3" fill="#0015ff"/>
<rect x="199" y="326" width="7" height="3" fill="#002aff"/>
<rect x="206" y="326" width="41" height="3" fill="#0015ff"/>
<rect x="247" y="326" width="3" height="3" fill="#002aff"/>
<rect x="250" y="326" width="17" height="3" fill="#0040ff"/>
<rect x="267" y="326" width="14" height="3" fill="#006aff"/>
<rect x="281" y="326" width="7" height="3" fill="#0095ff"/>
<rect x="288" y="326" width="3" height="3" fill="#00aaff"/>
<rect x="291" y="326" width="65" height="3" fill="#00bfff"/>
<rect x="356" y="326" width="34" height="3" fill="#00aaff"/>
<rect x="390" y="326" width="16" height="3" fill="#0095ff"/>
<rect x="406" y="326" width="4" height="3" fill="#0080ff"/>
<rect x="410" y="326" width="7" height="3" fill="#006aff"/>
<rect x="417" y="326" width="3" height="3" fill="#0055ff"/>
<rect x="420" y="326" width="7" height="3" fill="#0040ff"/>
<rect x="427" y="326" width="7" height="3" fill="#002aff"/>
<rect x="434" y="326" width="3" height="3" fill="#0015ff"/>
<rect x="437" y="326" width="3" height="3" fill="#002aff"/>
<rect x="440" y="326" width="21" height="3" fill="#0040ff"/>
<rect x="461" y="326" width="10" height="3" fill="#002aff"/>
<rect x="471" y="326" width="10" height="3" fill="#0015ff"/>
<rect x="481" y="326" width="24" height="3" fill="#0000ff"/>
<rect x="505" y="326" width="10" height="3" fill="#0015ff"/>
<rect x="515" y="326" width="14" height="3" fill="#0095ff"/>
<rect x="529" y="326" width="51" height="3" fill="#00aaff"/>
<rect x="152" y="322" width="13" height="4" fill="#0000ff"/>
<rect x="165" y="322" width="82" height="4" fill="#0015ff"/>
<rect x="247" y="322" width="3" height="4" fill="#002aff"/>
<rect x="250" y="322" width="27" height="4" fill="#0040ff"/>
<rect x="277" y="322" width="4" height="4" fill="#006aff"/>
<rect x="281" y="322" width="7" height="4" fill="#0080ff"/>
<rect x="288" y="322" width="6" height="4" fill="#00aaff"/>
<rect x="294" y="322" width="21" height="4" fill="#00bfff"/>
<rect x="315" y="322" width="17" height="4" fill="#00d4ff"/>
<rect x="332" y="322" width="27" height="4" fill="#00bfff"/>
<rect x="359" y="322" width="34" height="4" fill="#00aaff"/>
<rect x="393" y="322" width="13" height="4" fill="#0095ff"/>
<rect x="406" y="322" width="11" height="4" fill="#0080ff"/>
<rect x="417" y="322" width="3" height="4" fill="#006aff"/>
<rect x="420" y="322" width="10" height="4" fill="#0040ff"/>
<rect x="430" y="322" width="4" height="4" fill="#002aff"/>
<rect x="434" y="322" width="3" height="4" fill="#0015ff"/>
<rect x="437" y="322" width="3" height="4" fill="#002aff"/>
<rect x="440" y="322" width="21" height="4" fill="#0040ff"/>
<rect x="461" y="322" width="3" height="4" fill="#002aff"/>
<rect x="464" y="322" width="21" height="4" fill="#0015ff"/>
<rect x="485" y="322" width="13" height="4" fill="#0000ff"/>
<rect x="498" y="322" width="4" height="4" fill="#0015ff"/>
<rect x="502" y="322" width="13" height="4" fill="#0000ff"/>
<rect x="515" y="322" width="4" height="4" fill="#0095ff"/>
<rect x="519" y="322" width="61" height="4" fill="#00aaff"/>
<rect x="152" y="319" width="13" height="3" fill="#0000ff"/>
<rect x="165" y="319" width="82" height="3" fill="#0015ff"/>
<rect x="247" y="319" width="30" height="3" fill="#0040ff"/>
<rect x="277" y="319" width="7" height="3" fill="#0055ff"/>
<rect x="284" y="319" width="7" height="3" fill="#0080ff"/>
<rect x="291" y="319" width="10" height="3" fill="#00aaff"/>
<rect x="301" y="319" width="10" height="3" fill="#00bfff"/>
<rect x="311" y="319" width="24" height="3" fill="#00d4ff"/>
<rect x="335" y="319" width="27" height="3" fill="#00bfff"/>
<rect x="362" y="319" width="31" height="3" fill="#00aaff"/>
<rect x="393" y="319" width="20" height="3" fill="#0095ff"/>
<rect x="413" y="319" width="4" height="3" fill="#0080ff"/>
<rect x="417" y="319" width="3" height="3" fill="#006aff"/>
<rect x="420" y="319" width="4" height="3" fill="#0055ff"/>
<rect x="424" y="319" width="10" height="3" fill="#0040ff"/>
<rect x="434" y="319" width="6" height="3" fill="#002aff"/>
<rect x="440" y="319" width="18" height="3" fill="#0040ff"/>
<rect x="458" y="319" width="6" height="3" fill="#002aff"/>
<rect x="464" y="319" width="21" height="3" fill="#0015ff"/>
<rect x="485" y="319" width="13" height="3" fill="#0000ff"/>
<rect x="498" y="319" width="4" height="3" fill="#0015ff"/>
<rect x="502" y="319" width="13" height="3" fill="#0000ff"/>
<rect x="515" y="319" width="11" height="3" fill="#0095ff"/>
<rect x="526" y="319" width="54" height="3" fill="#00aaff"/>
<rect x="152" y="315" width="13" height="4" fill="#0000ff"/>
<rect x="165" y="315" width="44" height="4" fill="#0015ff"/>
<rect x="209" y="315" width="4" height="4" fill="#0000ff"/>
<rect x="213" y="315" width="34" height="4" fill="#0015ff"/>
<rect x="247" y="315" width="30" height="4" fill="#0040ff"/>
<rect x="277" y="315" width="11" height="4" fill="#0055ff"/>
<rect x="288" y="315" width="10" height="4" fill="#0080ff"/>
<rect x="298" y="315" width="3" height="4" fill="#00aaff"/>
<rect x="301" y="315" width="10" height="4" fill="#00bfff"/>
<rect x="311" y="315" width="31" height="4" fill="#00d4ff"/>
<rect x="342" y="315" width="20" height="4" fill="#00bfff"/>
<rect x="362" y="315" width="31" height="4" fill="#00aaff"/>
<rect x="393" y="315" width="20" height="4" fill="#0095ff"/>
<rect x="413" y="315" width="7" height="4" fill="#0080ff"/>
<rect x="420" y="315" width="7" height="4" fill="#0055ff"/>
<rect x="427" y="315" width="3" height="4" fill="#0040ff"/>
<rect x="430" y="315" width="10" height="4" fill="#002aff"/>
<rect x="440" y="315" width="18" height="4" fill="#0040ff"/>
<rect x="458" y="315" width="6" height="4" fill="#002aff"/>
<rect x="464" y="315" width="21" height="4" fill="#0015ff"/>
<rect x="485" y="315" width="30" height="4" fill="#0000ff"/>
<rect x="515" y="315" width="7" height="4" fill="#0080ff"/>
<rect x="522" y="315" width="4" height="4" fill="#0095ff"/>
<rect x="526" y="315" width="54" height="4" fill="#00aaff"/>
<rect x="152" y="312" width="16" height="3" fill="#0000ff"/>
<rect x="168" y="312" width="38" height="3" fill="#0015ff"/>
<rect x="206" y="312" width="10" height="3" fill="#0000ff"/>
<rect x="216" y="312" width="31" height="3" fill="#0015ff"/>
<rect x="247" y="312" width="30" height="3" fill="#0040ff"/>
<rect x="277" y="312" width="17" height="3" fill="#0055ff"/>
<rect x="294" y="312" width="4" height="3" fill="#0080ff"/>
<rect x="298" y="312" width="6" height="3" fill="#00aaff"/>
<rect x="304" y="312" width="14" height="3" fill="#00bfff"/>
<rect x="318" y="312" width="27" height="3" fill="#00d4ff"/>
<rect x="345" y="312" width="17" height="3" fill="#00bfff"/>
<rect x="362" y="312" width="31" height="3" fill="#00aaff"/>
<rect x="393" y="312" width="24" height="3" fill="#0095ff"/>
<rect x="417" y="312" width="7" height="3" fill="#0080ff"/>
<rect x="424" y="312" width="13" height="3" fill="#0055ff"/>
<rect x="437" y="312" width="21" height="3" fill="#0040ff"/>
<rect x="458" y="312" width="6" height="3" fill="#002aff"/>
<rect x="464" y="312" width="17" height="3" fill="#0015ff"/>
<rect x="481" y="312" width="7" height="3" fill="#0000ff"/>
<rect x="488" y="312" width="10" height="3" fill="#0015ff"/>
<rect x="498" y="312" width="17" height="3" fill="#0000ff"/>
<rect x="515" y="312" width="4" height="3" fill="#0055ff"/>
<rect x="519" y="312" width="3" height="3" fill="#0080ff"/>
<rect x="522" y="312" width="4" height="3" fill="#0095ff"/>
<rect x="526" y="312" width="54" height="3" fill="#00aaff"/>
<rect x="152" y="309" width="16" height="3" fill="#0000ff"/>
<rect x="168" y="309" width="38" height="3" fill="#0015ff"/>
<rect x="206" y="309" width="14" height="3" fill="#0000ff"/>
<rect x="220" y="309" width="30" height="3" fill="#0015ff"/>
<rect x="250" y="309" width="24" height="3" fill="#0040ff"/>
<rect x="274" y="309" width="20" height="3" fill="#0055ff"/>
<rect x="294" y="309" width="7" height="3" fill="#0080ff"/>
<rect x="301" y="309" width="3" height="3" fill="#00aaff"/>
<rect x="304" y="309" width="18" height="3" fill="#00bfff"/>
<rect x="322" y="309" width="27" height="3" fill="#00d4ff"/>
<rect x="349" y="309" width="13" height="3" fill="#00bfff"/>
<rect x="362" y="309" width="31" height="3" fill="#00aaff"/>
<rect x="393" y="309" width="24" height="3" fill="#0095ff"/>
<rect x="417" y="309" width="7" height="3" fill="#0080ff"/>
<rect x="424" y="309" width="16" height="3" fill="#006aff"/>
<rect x="440" y="309" width="18" height="3" fill="#0040ff"/>
<rect x="458" y="309" width="6" height="3" fill="#002aff"/>
<rect x="464" y="309" width="7" height="3" fill="#0015ff"/>
<rect x="471" y="309" width="14" height="3" fill="#0000ff"/>
<rect x="485" y="309" width="13" height="3" fill="#0015ff"/>
<rect x="498" y="309" width="14" height="3" fill="#0000ff"/>
<rect x="512" y="309" width="7" height="3" fill="#0055ff"/>
<rect x="519" y="309" width="3" height="3" fill="#0080ff"/>
<rect x="522" y="309" width="4" height="3" fill="#0095ff"/>
<rect x="526" y="309" width="54" height="3" fill="#00aaff"/>
<rect x="152" y="305" width="16" height="4" fill="#0000ff"/>
<rect x="168" y="305" width="38" height="4" fill="#0015ff"/>
<rect x="206" y="305" width="17" height="4" fill="#0000ff"/>
<rect x="223" y="305" width="27" height="4" fill="#0015ff"/>
<rect x="250" y="305" width="24" height="4" fill="#0040ff"/>
<rect x="274" y="305" width="24" height="4" fill="#0055ff"/>
<rect x="298" y="305" width="3" height="4" fill="#0080ff"/>
<rect x="301" y="305" width="3" height="4" fill="#0095ff"/>
<rect x="304" y="305" width="4" height="4" fill="#00aaff"/>
<rect x="308" y="305" width="17" height="4" fill="#00bfff"/>
<rect x="325" y="305" width="13" height="4" fill="#00d4ff"/>
<rect x="338" y="305" width="24" height="4" fill="#00bfff"/>
<rect x="362" y="305" width="31" height="4" fill="#00aaff"/>
<rect x="393" y="305" width="20" height="4" fill="#0095ff"/>
<rect x="413" y="305" width="17" height="4" fill="#0080ff"/>
<rect x="430" y="305" width="10" height="4" fill="#006aff"/>
<rect x="440" y="305" width="14" height="4" fill="#0040ff"/>
<rect x="454" y="305" width="10" height="4" fill="#002aff"/>
<rect x="464" y="305" width="7" height="4" fill="#0015ff"/>
<rect x="471" y="305" width="14" height="4" fill="#0000ff"/>
<rect x="485" y="305" width="20" height="4" fill="#0015ff"/>
<rect x="505" y="305" width="7" height="4" fill="#0000ff"/>
<rect x="512" y="305" width="7" height="4" fill="#0055ff"/>
<rect x="519" y="305" width="3" height="4" fill="#0080ff"/>
<rect x="522" y="305" width="4" height="4" fill="#0095ff"/>
<rect x="526" y="305" width="54" height="4" fill="#00aaff"/>
<rect x="152" y="302" width="20" height="3" fill="#0000ff"/>
<rect x="172" y="302" width="27" height="3" fill="#0015ff"/>
<rect x="199" y="302" width="27" height="3" fill="#0000ff"/>
<rect x="226" y="302" width="24" height="3" fill="#0015ff"/>
<rect x="250" y="302" width="20" height="3" fill="#0040ff"/>
<rect x="270" y="302" width="24" height="3" fill="#0055ff"/>
<rect x="294" y="302" width="4" height="3" fill="#0040ff"/>
<rect x="298" y="302" width="3" height="3" fill="#0080ff"/>
<rect x="301" y="302" width="3" height="3" fill="#0095ff"/>
<rect x="304" y="302" width="7" height="3" fill="#00aaff"/>
<rect x="311" y="302" width="48" height="3" fill="#00bfff"/>
<rect x="359" y="302" width="34" height="3" fill="#00aaff"/>
<rect x="393" y="302" width="20" height="3" fill="#0095ff"/>
<rect x="413" y="302" width="14" height="3" fill="#0080ff"/>
<rect x="427" y="302" width="17" height="3" fill="#006aff"/>
<rect x="444" y="302" width="3" height="3" fill="#0040ff"/>
<rect x="447" y="302" width="14" height="3" fill="#002aff"/>
<rect x="461" y="302" width="7" height="3" fill="#0015ff"/>
<rect x="468" y="302" width="10" height="3" fill="#0000ff"/>
<rect x="478" y="302" width="10" height="3" fill="#0015ff"/>
<rect x="488" y="302" width="10" height="3" fill="#0000ff"/>
<rect x="498" y="302" width="4" height="3" fill="#0015ff"/>
<rect x="502" y="302" width="10" height="3" fill="#0000ff"/>
<rect x="512" y="302" width="7" height="3" fill="#0055ff"/>
<rect x="519" y="302" width="3" height="3" fill="#0080ff"/>
<rect x="522" y="302" width="4" height="3" fill="#0095ff"/>
<rect x="526" y="302" width="54" height="3" fill="#00aaff"/>
<rect x="152" y="298" width="20" height="4" fill="#0000ff"/>
<rect x="172" y="298" width="24" height="4" fill="#0015ff"/>
<rect x="196" y="298" width="34" height="4" fill="#0000ff"/>
<rect x="230" y="298" width="20" height="4" fill="#0015ff"/>
<rect x="250" y="298" width="20" height="4" fill="#0040ff"/>
<rect x="270" y="298" width="18" height="4" fill="#0055ff"/>
<rect x="288" y="298" width="10" height="4" fill="#0040ff"/>
<rect x="298" y="298" width="3" height="4" fill="#006aff"/>
<rect x="301" y="298" width="7" height="4" fill="#0095ff"/>
<rect x="308" y="298" width="7" height="4" fill="#00aaff"/>
<rect x="315" y="298" width="41" height="4" fill="#00bfff"/>
<rect x="356" y="298" width="34" height="4" fill="#00aaff"/>
<rect x="390" y="298" width="23" height="4" fill="#0095ff"/>
<rect x="413" y="298" width="14" height="4" fill="#0080ff"/>
<rect x="427" y="298" width="17" height="4" fill="#006aff"/>
<rect x="444" y="298" width="3" height="4" fill="#0040ff"/>
<rect x="447" y="298" width="4" height="4" fill="#002aff"/>
<rect x="451" y="298" width="30" height="4" fill="#0015ff"/>
<rect x="481" y="298" width="31" height="4" fill="#0000ff"/>
<rect x="512" y="298" width="7" height="4" fill="#0055ff"/>
<rect x="519" y="298" width="3" height="4" fill="#0080ff"/>
<rect x="522" y="298" width="4" height="4" fill="#0095ff"/>
<rect x="526" y="298" width="54" height="4" fill="#00aaff"/>
<rect x="152" y="295" width="20" height="3" fill="#0000ff"/>
<rect x="172" y="295" width="20" height="3" fill="#0015ff"/>
<rect x="192" y="295" width="41" height="3" fill="#0000ff"/>
<rect x="233" y="295" width="17" height="3" fill="#0015ff"/>
<rect x="250" y="295" width="17" height="3" fill="#0040ff"/>
<rect x="267" y="295" width="14" height="3" fill="#0055ff"/>
<rect x="281" y="295" width="17" height="3" fill="#0040ff"/>
<rect x="298" y="295" width="6" height="3" fill="#006aff"/>
<rect x="304" y="295" width="4" height="3" fill="#0095ff"/>
<rect x="308" y="295" width="10" height="3" fill="#00aaff"/>
<rect x="318" y="295" width="34" height="3" fill="#00bfff"/>
<rect x="352" y="295" width="38" height="3" fill="#00aaff"/>
<rect x="390" y="295" width="23" height="3" fill="#0095ff"/>
<rect x="413" y="295" width="14" height="3" fill="#0080ff"/>
<rect x="427" y="295" width="13" height="3" fill="#006aff"/>
<rect x="440" y="295" width="7" height="3" fill="#0055ff"/>
<rect x="447" y="295" width="4" height="3" fill="#002aff"/>
<rect x="451" y="295" width="30" height="3" fill="#0015ff"/>
<rect x="481" y="295" width="24" height="3" fill="#0000ff"/>
<rect x="505" y="295" width="14" height="3" fill="#0055ff"/>
<rect x="519" y="295" width="3" height="3" fill="#0080ff"/>
<rect x="522" y="295" width="4" height="3" fill="#0095ff"/>
<rect x="526" y="295" width="54" height="3" fill="#00aaff"/>
<rect x="152" y="291" width="20" height="4" fill="#0000ff"/>
<rect x="172" y="291" width="7" height="4" fill="#0015ff"/>
<rect x="179" y="291" width="57" height="4" fill="#0000ff"/>
<rect x="236" y="291" width="14" height="4" fill="#0015ff"/>
<rect x="250" y="291" width="14" height="4" fill="#0040ff"/>
<rect x="264" y="291" width="6" height="4" fill="#0055ff"/>
<rect x="270" y="291" width="31" height="4" fill="#0040ff"/>
<rect x="301" y="291" width="3" height="4" fill="#006aff"/>
<rect x="304" y="291" width="4" height="4" fill="#0095ff"/>
<rect x="308" y="291" width="14" height="4" fill="#00aaff"/>
<rect x="322" y="291" width="27" height="4" fill="#00bfff"/>
<rect x="349" y="291" width="41" height="4" fill="#00aaff"/>
<rect x="390" y="291" width="23" height="4" fill="#0095ff"/>
<rect x="413" y="291" width="14" height="4" fill="#0080ff"/>
<rect x="427" y="291" width="10" height="4" fill="#006aff"/>
<rect x="437" y="291" width="7" height="4" fill="#0055ff"/>
<rect x="444" y="291" width="3" height="4" fill="#0040ff"/>
<rect x="447" y="291" width="4" height="4" fill="#002aff"/>
<rect x="451" y="291" width="10" height="4" fill="#0015ff"/>
<rect x="461" y="291" width="3" height="4" fill="#0000ff"/>
<rect x="464" y="291" width="17" height="4" fill="#0015ff"/>
<rect x="481" y="291" width="11" height="4" fill="#0000ff"/>
<rect x="492" y="291" width="6" height="4" fill="#0015ff"/>
<rect x="498" y="291" width="4" height="4" fill="#0080ff"/>
<rect x="502" y="291" width="13" height="4" fill="#0055ff"/>
<rect x="515" y="291" width="7" height="4" fill="#0080ff"/>
<rect x="522" y="291" width="4" height="4" fill="#0095ff"/>
<rect x="526" y="291" width="54" height="4" fill="#00aaff"/>
<rect x="152" y="288" width="20" height="3" fill="#0000ff"/>
<rect x="172" y="288" width="7" height="3" fill="#0015ff"/>
<rect x="179" y="288" width="61" height="3" fill="#0000ff"/>
<rect x="240" y="288" width="10" height="3" fill="#0015ff"/>
<rect x="250" y="288" width="51" height="3" fill="#0040ff"/>
<rect x="301" y="288" width="3" height="3" fill="#006aff"/>
<rect x="304" y="288" width="4" height="3" fill="#0095ff"/>
<rect x="308" y="288" width="24" height="3" fill="#00aaff"/>
<rect x="332" y="288" width="10" height="3" fill="#00bfff"/>
<rect x="342" y="288" width="48" height="3" fill="#00aaff"/>
<rect x="390" y="288" width="23" height="3" fill="#0095ff"/>
<rect x="413" y="288" width="11" height="3" fill="#0080ff"/>
<rect x="424" y="288" width="13" height="3" fill="#006aff"/>
<rect x="437" y="288" width="3" height="3" fill="#0055ff"/>
<rect x="440" y="288" width="7" height="3" fill="#0040ff"/>
<rect x="447" y="288" width="7" height="3" fill="#002aff"/>
<rect x="454" y="288" width="4" height="3" fill="#0015ff"/>
<rect x="458" y="288" width="6" height="3" fill="#0000ff"/>
<rect x="464" y="288" width="17" height="3" fill="#0015ff"/>
<rect x="481" y="288" width="11" height="3" fill="#0000ff"/>
<rect x="492" y="288" width="3" height="3" fill="#0015ff"/>
<rect x="495" y="288" width="24" height="3" fill="#0080ff"/>
<rect x="519" y="288" width="7" height="3" fill="#0095ff"/>
<rect x="526" y="288" width="54" height="3" fill="#00aaff"/>
<rect x="152" y="284" width="20" height="4" fill="#0000ff"/>
<rect x="172" y="284" width="7" height="4" fill="#0015ff"/>
<rect x="179" y="284" width="64" height="4" fill="#0000ff"/>
<rect x="243" y="284" width="7" height="4" fill="#0015ff"/>
<rect x="250" y="284" width="51" height="4" fill="#0040ff"/>
<rect x="301" y="284" width="3" height="4" fill="#006aff"/>
<rect x="304" y="284" width="4" height="4" fill="#0080ff"/>
<rect x="308" y="284" width="3" height="4" fill="#0095ff"/>
<rect x="311" y="284" width="79" height="4" fill="#00aaff"/>
<rect x="390" y="284" width="23" height="4" fill="#0095ff"/>
<rect x="413" y="284" width="14" height="4" fill="#0080ff"/>
<rect x="427" y="284" width="7" height="4" fill="#006aff"/>
<rect x="434" y="284" width="6" height="4" fill="#0055ff"/>
<rect x="440" y="284" width="4" height="4" fill="#0040ff"/>
<rect x="444" y="284" width="10" height="4" fill="#002aff"/>
<rect x="454" y="284" width="10" height="4" fill="#0000ff"/>
<rect x="464" y="284" width="17" height="4" fill="#0015ff"/>
<rect x="481" y="284" width="7" height="4" fill="#0000ff"/>
<rect x="488" y="284" width="7" height="4" fill="#0055ff"/>
<rect x="495" y="284" width="3" height="4" fill="#0080ff"/>
<rect x="498" y="284" width="24" height="4" fill="#0095ff"/>
<rect x="522" y="284" width="58" height="4" fill="#00aaff"/>
<rect x="152" y="281" width="95" height="3" fill="#0000ff"/>
<rect x="247" y="281" width="3" height="3" fill="#0015ff"/>
<rect x="250" y="281" width="48" height="3" fill="#0040ff"/>
<rect x="298" y="281" width="6" height="3" fill="#006aff"/>
<rect x="304" y="281" width="4" height="3" fill="#0080ff"/>
<rect x="308" y="281" width="3" height="3" fill="#0095ff"/>
<rect x="311" y="281" width="79" height="3" fill="#00aaff"/>
<rect x="390" y="281" width="23" height="3" fill="#0095ff"/>
<rect x="413" y="281" width="14" height="3" fill="#0080ff"/>
<rect x="427" y="281" width="7" height="3" fill="#006aff"/>
<rect x="434" y="281" width="6" height="3" fill="#0055ff"/>
<rect x="440" y="281" width="4" height="3" fill="#0040ff"/>
<rect x="444" y="281" width="10" height="3" fill="#002aff"/>
<rect x="454" y="281" width="7" height="3" fill="#0000ff"/>
<rect x="461" y="281" width="7" height="3" fill="#0015ff"/>
<rect x="468" y="281" width="17" height="3" fill="#0000ff"/>
<rect x="485" y="281" width="10" height="3" fill="#0055ff"/>
<rect x="495" y="281" width="3" height="3" fill="#0080ff"/>
<rect x="498" y="281" width="4" height="3" fill="#0095ff"/>
<rect x="502" y="281" width="78" height="3" fill="#00aaff"/>
<rect x="152" y="277" width="95" height="4" fill="#0000ff"/>
<rect x="247" y="277" width="51" height="4" fill="#0040ff"/>
<rect x="298" y="277" width="3" height="4" fill="#006aff"/>
<rect x="301" y="277" width="3" height="4" fill="#0080ff"/>
<rect x="304" y="277" width="4" height="4" fill="#0095ff"/>
<rect x="308" y="277" width="85" height="4" fill="#00aaff"/>
<rect x="393" y="277" width="20" height="4" fill="#0095ff"/>
<rect x="413" y="277" width="14" height="4" fill="#0080ff"/>
<rect x="427" y="277" width="7" height="4" fill="#006aff"/>
<rect x="434" y="277" width="6" height="4" fill="#0055ff"/>
<rect x="440" y="277" width="4" height="4" fill="#0040ff"/>
<rect x="444" y="277" width="10" height="4" fill="#002aff"/>
<rect x="454" y="277" width="27" height="4" fill="#0000ff"/>
<rect x="481" y="277" width="11" height="4" fill="#0055ff"/>
<rect x="492" y="277" width="6" height="4" fill="#0080ff"/>
<rect x="498" y="277" width="4" height="4" fill="#0095ff"/>
<rect x="502" y="277" width="78" height="4" fill="#00aaff"/>
<rect x="152" y="274" width="91" height="3" fill="#0000ff"/>
<rect x="243" y="274" width="7" height="3" fill="#002aff"/>
<rect x="250" y="274" width="48" height="3" fill="#0040ff"/>
<rect x="298" y="274" width="3" height="3" fill="#006aff"/>
<rect x="301" y="274" width="7" height="3" fill="#0095ff"/>
<rect x="308" y="274" width="85" height="3" fill="#00aaff"/>
<rect x="393" y="274" width="20" height="3" fill="#0095ff"/>
<rect x="413" y="274" width="14" height="3" fill="#0080ff"/>
<rect x="427" y="274" width="7" height="3" fill="#006aff"/>
<rect x="434" y="274" width="6" height="3" fill="#0055ff"/>
<rect x="440" y="274" width="7" height="3" fill="#0040ff"/>
<rect x="447" y="274" width="7" height="3" fill="#002aff"/>
<rect x="454" y="274" width="24" height="3" fill="#0000ff"/>
<rect x="478" y="274" width="14" height="3" fill="#0055ff"/>
<rect x="492" y="274" width="3" height="3" fill="#0080ff"/>
<rect x="495" y="274" width="7" height="3" fill="#0095ff"/>
<rect x="502" y="274" width="78" height="3" fill="#00aaff"/>
<rect x="152" y="270" width="91" height="4" fill="#0000ff"/>
<rect x="243" y="270" width="11" height="4" fill="#002aff"/>
<rect x="254" y="270" width="44" height="4" fill="#0040ff"/>
<rect x="298" y="270" width="3" height="4" fill="#006aff"/>
<rect x="301" y="270" width="3" height="4" fill="#0095ff"/>
<rect x="304" y="270" width="92" height="4" fill="#00aaff"/>
<rect x="396" y="270" width="17" height="4" fill="#0095ff"/>
<rect x="413" y="270" width="14" height="4" fill="#0080ff"/>
<rect x="427" y="270" width="7" height="4" fill="#006aff"/>
<rect x="434" y="270" width="6" height="4" fill="#0055ff"/>
<rect x="440" y="270" width="7" height="4" fill="#0040ff"/>
<rect x="447" y="270" width="11" height="4" fill="#002aff"/>
<rect x="458" y="270" width="13" height="4" fill="#0000ff"/>
<rect x="471" y="270" width="14" height="4" fill="#0055ff"/>
<rect x="485" y="270" width="10" height="4" fill="#0080ff"/>
<rect x="495" y="270" width="3" height="4" fill="#0095ff"/>
<rect x="498" y="270" width="82" height="4" fill="#00aaff"/>
<rect x="152" y="267" width="88" height="3" fill="#0000ff"/>
<rect x="240" y="267" width="20" height="3" fill="#002aff"/>
<rect x="260" y="267" width="38" height="3" fill="#0040ff"/>
<rect x="298" y="267" width="3" height="3" fill="#006aff"/>
<rect x="301" y="267" width="3" height="3" fill="#0095ff"/>
<rect x="304" y="267" width="92" height="3" fill="#00aaff"/>
<rect x="396" y="267" width="21" height="3" fill="#0095ff"/>
<rect x="417" y="267" width="10" height="3" fill="#0080ff"/>
<rect x="427" y="267" width="3" height="3" fill="#006aff"/>
<rect x="430" y="267" width="7" height="3" fill="#0055ff"/>
<rect x="437" y="267" width="7" height="3" fill="#0040ff"/>
<rect x="444" y="267" width="17" height="3" fill="#002aff"/>
<rect x="461" y="267" width="10" height="3" fill="#0080ff"/>
<rect x="471" y="267" width="14" height="3" fill="#0055ff"/>
<rect x="485" y="267" width="3" height="3" fill="#0080ff"/>
<rect x="488" y="267" width="10" height="3" fill="#0095ff"/>
<rect x="498" y="267" width="82" height="3" fill="#00aaff"/>
<rect x="152" y="263" width="81" height="4" fill="#0000ff"/>
<rect x="233" y="263" width="3" height="4" fill="#0015ff"/>
<rect x="236" y="263" width="28" height="4" fill="#002aff"/>
<rect x="264" y="263" width="34" height="4" fill="#0040ff"/>
<rect x="298" y="263" width="3" height="4" fill="#006aff"/>
<rect x="301" y="263" width="3" height="4" fill="#0095ff"/>
<rect x="304" y="263" width="96" height="4" fill="#00aaff"/>
<rect x="400" y="263" width="17" height="4" fill="#0095ff"/>
<rect x="417" y="263" width="10" height="4" fill="#0080ff"/>
<rect x="427" y="263" width="3" height="4" fill="#006aff"/>
<rect x="430" y="263" width="4" height="4" fill="#0055ff"/>
<rect x="434" y="263" width="6" height="4" fill="#0040ff"/>
<rect x="440" y="263" width="18" height="4" fill="#002aff"/>
<rect x="458" y="263" width="6" height="4" fill="#0055ff"/>
<rect x="464" y="263" width="24" height="4" fill="#0080ff"/>
<rect x="488" y="263" width="4" height="4" fill="#0095ff"/>
<rect x="492" y="263" width="88" height="4" fill="#00aaff"/>
<rect x="152" y="260" width="78" height="3" fill="#0000ff"/>
<rect x="230" y="260" width="10" height="3" fill="#0015ff"/>
<rect x="240" y="260" width="27" height="3" fill="#002aff"/>
<rect x="267" y="260" width="27" height="3" fill="#0040ff"/>
<rect x="294" y="260" width="7" height="3" fill="#006aff"/>
<rect x="301" y="260" width="7" height="3" fill="#0095ff"/>
<rect x="308" y="260" width="95" height="3" fill="#00aaff"/>
<rect x="403" y="260" width="14" height="3" fill="#0095ff"/>
<rect x="417" y="260" width="10" height="3" fill="#0080ff"/>
<rect x="427" y="260" width="3" height="3" fill="#006aff"/>
<rect x="430" y="260" width="4" height="3" fill="#0055ff"/>
<rect x="434" y="260" width="3" height="3" fill="#0040ff"/>
<rect x="437" y="260" width="21" height="3" fill="#002aff"/>
<rect x="458" y="260" width="6" height="3" fill="#0055ff"/>
<rect x="464" y="260" width="4" height="3" fill="#0080ff"/>
<rect x="468" y="260" width="24" height="3" fill="#0095ff"/>
<rect x="492" y="260" width="88" height="3" fill="#00aaff"/>
<rect x="152" y="256" width="74" height="4" fill="#0000ff"/>
<rect x="226" y="256" width="17" height="4" fill="#0015ff"/>
<rect x="243" y="256" width="27" height="4" fill="#002aff"/>
<rect x="270" y="256" width="24" height="4" fill="#0040ff"/>
<rect x="294" y="256" width="4" height="4" fill="#006aff"/>
<rect x="298" y="256" width="6" height="4" fill="#0080ff"/>
<rect x="304" y="256" width="7" height="4" fill="#0095ff"/>
<rect x="311" y="256" width="95" height="4" fill="#00aaff"/>
<rect x="406" y="256" width="14" height="4" fill="#0095ff"/>
<rect x="420" y="256" width="7" height="4" fill="#0080ff"/>
<rect x="427" y="256" width="3" height="4" fill="#006aff"/>
<rect x="430" y="256" width="4" height="4" fill="#0055ff"/>
<rect x="434" y="256" width="3" height="4" fill="#0040ff"/>
<rect x="437" y="256" width="17" height="4" fill="#002aff"/>
<rect x="454" y="256" width="10" height="4" fill="#0055ff"/>
<rect x="464" y="256" width="4" height="4" fill="#0080ff"/>
<rect x="468" y="256" width="3" height="4" fill="#0095ff"/>
<rect x="471" y="256" width="109" height="4" fill="#00aaff"/>
<rect x="152" y="253" width="71" height="3" fill="#0000ff"/>
<rect x="223" y="253" width="24" height="3" fill="#0015ff"/>
<rect x="247" y="253" width="27" height="3" fill="#002aff"/>
<rect x="274" y="253" width="17" height="3" fill="#0040ff"/>
<rect x="291" y="253" width="7" height="3" fill="#006aff"/>
<rect x="298" y="253" width="3" height="3" fill="#0080ff"/>
<rect x="301" y="253" width="14" height="3" fill="#0095ff"/>
<rect x="315" y="253" width="91" height="3" fill="#00aaff"/>
<rect x="406" y="253" width="14" height="3" fill="#0095ff"/>
<rect x="420" y="253" width="10" height="3" fill="#0080ff"/>
<rect x="430" y="253" width="4" height="3" fill="#006aff"/>
<rect x="434" y="253" width="3" height="3" fill="#0055ff"/>
<rect x="437" y="253" width="14" height="3" fill="#002aff"/>
<rect x="451" y="253" width="13" height="3" fill="#0055ff"/>
<rect x="464" y="253" width="4" height="3" fill="#0080ff"/>
<rect x="468" y="253" width="6" height="3" fill="#0095ff"/>
<rect x="474" y="253" width="106" height="3" fill="#00aaff"/>
<rect x="152" y="249" width="68" height="4" fill="#0000ff"/>
<rect x="220" y="249" width="30" height="4" fill="#0015ff"/>
<rect x="250" y="249" width="27" height="4" fill="#002aff"/>
<rect x="277" y="249" width="14" height="4" fill="#0040ff"/>
<rect x="291" y="249" width="3" height="4" fill="#006aff"/>
<rect x="294" y="249" width="7" height="4" fill="#0080ff"/>
<rect x="301" y="249" width="14" height="4" fill="#0095ff"/>
<rect x="315" y="249" width="95" height="4" fill="#00aaff"/>
<rect x="410" y="249" width="14" height="4" fill="#0095ff"/>
<rect x="424" y="249" width="10" height="4" fill="#0080ff"/>
<rect x="434" y="249" width="3" height="4" fill="#0055ff"/>
<rect x="437" y="249" width="14" height="4" fill="#0040ff"/>
<rect x="451" y="249" width="13" height="4" fill="#0055ff"/>
<rect x="464" y="249" width="7" height="4" fill="#0080ff"/>
<rect x="471" y="249" width="10" height="4" fill="#0095ff"/>
<rect x="481" y="249" width="99" height="4" fill="#00aaff"/>
<rect x="152" y="246" width="64" height="3" fill="#0000ff"/>
<rect x="216" y="246" width="38" height="3" fill="#0015ff"/>
<rect x="254" y="246" width="30" height="3" fill="#002aff"/>
<rect x="284" y="246" width="4" height="3" fill="#0040ff"/>
<rect x="288" y="246" width="6" height="3" fill="#0055ff"/>
<rect x="294" y="246" width="7" height="3" fill="#0080ff"/>
<rect x="301" y="246" width="17" height="3" fill="#0095ff"/>
<rect x="318" y="246" width="92" height="3" fill="#00aaff"/>
<rect x="410" y="246" width="20" height="3" fill="#0095ff"/>
<rect x="430" y="246" width="4" height="3" fill="#0080ff"/>
<rect x="434" y="246" width="3" height="3" fill="#006aff"/>
<rect x="437" y="246" width="14" height="3" fill="#0040ff"/>
<rect x="451" y="246" width="17" height="3" fill="#0055ff"/>
<rect x="468" y="246" width="10" height="3" fill="#0080ff"/>
<rect x="478" y="246" width="3" height="3" fill="#0095ff"/>
<rect x="481" y="246" width="99" height="3" fill="#00aaff"/>
<rect x="152" y="242" width="61" height="4" fill="#0000ff"/>
<rect x="213" y="242" width="44" height="4" fill="#0015ff"/>
<rect x="257" y="242" width="31" height="4" fill="#002aff"/>
<rect x="288" y="242" width="3" height="4" fill="#0055ff"/>
<rect x="291" y="242" width="7" height="4" fill="#006aff"/>
<rect x="298" y="242" width="3" height="4" fill="#0080ff"/>
<rect x="301" y="242" width="17" height="4" fill="#0095ff"/>
<rect x="318" y="242" width="48" height="4" fill="#00aaff"/>
<rect x="366" y="242" width="17" height="4" fill="#00bfff"/>
<rect x="383" y="242" width="27" height="4" fill="#00aaff"/>
<rect x="410" y="242" width="20" height="4" fill="#0095ff"/>
<rect x="430" y="242" width="4" height="4" fill="#0080ff"/>
<rect x="434" y="242" width="3" height="4" fill="#006aff"/>
<rect x="437" y="242" width="17" height="4" fill="#0040ff"/>
<rect x="454" y="242" width="20" height="4" fill="#0055ff"/>
<rect x="474" y="242" width="4" height="4" fill="#0080ff"/>
<rect x="478" y="242" width="7" height="4" fill="#0095ff"/>
<rect x="485" y="242" width="95" height="4" fill="#00aaff"/>
<rect x="152" y="238" width="57" height="4" fill="#0000ff"/>
<rect x="209" y="238" width="51" height="4" fill="#0015ff"/>
<rect x="260" y="238" width="24" height="4" fill="#002aff"/>
<rect x="284" y="238" width="7" height="4" fill="#0055ff"/>
<rect x="291" y="238" width="3" height="4" fill="#006aff"/>
<rect x="294" y="238" width="7" height="4" fill="#0080ff"/>
<rect x="301" y="238" width="17" height="4" fill="#0095ff"/>
<rect x="318" y="238" width="41" height="4" fill="#00aaff"/>
<rect x="359" y="238" width="34" height="4" fill="#00bfff"/>
<rect x="393" y="238" width="17" height="4" fill="#00aaff"/>
<rect x="410" y="238" width="24" height="4" fill="#0095ff"/>
<rect x="434" y="238" width="6" height="4" fill="#006aff"/>
<rect x="440" y="238" width="14" height="4" fill="#0040ff"/>
<rect x="454" y="238" width="20" height="4" fill="#0055ff"/>
<rect x="474" y="238" width="7" height="4" fill="#0080ff"/>
<rect x="481" y="238" width="4" height="4" fill="#0095ff"/>
<rect x="485" y="238" width="75" height="4" fill="#00aaff"/>
<rect x="560" y="238" width="10" height="4" fill="#00bfff"/>
<rect x="570" y="238" width="10" height="4" fill="#00aaff"/>
<rect x="152" y="235" width="54" height="3" fill="#0000ff"/>
<rect x="206" y="235" width="58" height="3" fill="#0015ff"/>
<rect x="264" y="235" width="13" height="3" fill="#002aff"/>
<rect x="277" y="235" width="11" height="3" fill="#0040ff"/>
<rect x="288" y="235" width="6" height="3" fill="#006aff"/>
<rect x="294" y="235" width="7" height="3" fill="#0080ff"/>
<rect x="301" y="235" width="21" height="3" fill="#0095ff"/>
<rect x="322" y="235" width="37" height="3" fill="#00aaff"/>
<rect x="359" y="235" width="37" height="3" fill="#00bfff"/>
<rect x="396" y="235" width="14" height="3" fill="#00aaff"/>
<rect x="410" y="235" width="14" height="3" fill="#0095ff"/>
<rect x="424" y="235" width="6" height="3" fill="#00aaff"/>
<rect x="430" y="235" width="4" height="3" fill="#0095ff"/>
<rect x="434" y="235" width="3" height="3" fill="#0080ff"/>
<rect x="437" y="235" width="3" height="3" fill="#006aff"/>
<rect x="440" y="235" width="18" height="3" fill="#0040ff"/>
<rect x="458" y="235" width="20" height="3" fill="#0055ff"/>
<rect x="478" y="235" width="3" height="3" fill="#0080ff"/>
<rect x="481" y="235" width="34" height="3" fill="#00aaff"/>
<rect x="515" y="235" width="11" height="3" fill="#00bfff"/>
<rect x="526" y="235" width="27" height="3" fill="#00aaff"/>
<rect x="553" y="235" width="27" height="3" fill="#00bfff"/>
<rect x="152" y="231" width="50" height="4" fill="#0000ff"/>
<rect x="202" y="231" width="65" height="4" fill="#0015ff"/>
<rect x="267" y="231" width="7" height="4" fill="#002aff"/>
<rect x="274" y="231" width="7" height="4" fill="#0040ff"/>
<rect x="281" y="231" width="7" height="4" fill="#0055ff"/>
<rect x="288" y="231" width="6" height="4" fill="#006aff"/>
<rect x="294" y="231" width="10" height="4" fill="#0080ff"/>
<rect x="304" y="231" width="18" height="4" fill="#0095ff"/>
<rect x="322" y="231" width="34" height="4" fill="#00aaff"/>
<rect x="356" y="231" width="44" height="4" fill="#00bfff"/>
<rect x="400" y="231" width="10" height="4" fill="#00aaff"/>
<rect x="410" y="231" width="10" height="4" fill="#0095ff"/>
<rect x="420" y="231" width="7" height="4" fill="#00aaff"/>
<rect x="427" y="231" width="3" height="4" fill="#00bfff"/>
<rect x="430" y="231" width="4" height="4" fill="#00aaff"/>
<rect x="434" y="231" width="3" height="4" fill="#0080ff"/>
<rect x="437" y="231" width="3" height="4" fill="#006aff"/>
<rect x="440" y="231" width="18" height="4" fill="#0040ff"/>
<rect x="458" y="231" width="20" height="4" fill="#0055ff"/>
<rect x="478" y="231" width="3" height="4" fill="#0080ff"/>
<rect x="481" y="231" width="31" height="4" fill="#00aaff"/>
<rect x="512" y="231" width="24" height="4" fill="#00bfff"/>
<rect x="536" y="231" width="10" height="4" fill="#00aaff"/>
<rect x="546" y="231" width="34" height="4" fill="#00bfff"/>
<rect x="152" y="228" width="47" height="3" fill="#0000ff"/>
<rect x="199" y="228" width="71" height="3" fill="#0015ff"/>
<rect x="270" y="228" width="7" height="3" fill="#0040ff"/>
<rect x="277" y="228" width="7" height="3" fill="#0055ff"/>
<rect x="284" y="228" width="10" height="3" fill="#006aff"/>
<rect x="294" y="228" width="10" height="3" fill="#0080ff"/>
<rect x="304" y="228" width="18" height="3" fill="#0095ff"/>
<rect x="322" y="228" width="34" height="3" fill="#00aaff"/>
<rect x="356" y="228" width="47" height="3" fill="#00bfff"/>
<rect x="403" y="228" width="10" height="3" fill="#00aaff"/>
<rect x="413" y="228" width="7" height="3" fill="#0095ff"/>
<rect x="420" y="228" width="4" height="3" fill="#00aaff"/>
<rect x="424" y="228" width="6" height="3" fill="#00bfff"/>
<rect x="430" y="228" width="4" height="3" fill="#00aaff"/>
<rect x="434" y="228" width="3" height="3" fill="#0095ff"/>
<rect x="437" y="228" width="7" height="3" fill="#006aff"/>
<rect x="444" y="228" width="17" height="3" fill="#0040ff"/>
<rect x="461" y="228" width="17" height="3" fill="#0055ff"/>
<rect x="478" y="228" width="3" height="3" fill="#0080ff"/>
<rect x="481" y="228" width="27" height="3" fill="#00aaff"/>
<rect x="508" y="228" width="72" height="3" fill="#00bfff"/>
<rect x="152" y="224" width="44" height="4" fill="#0000ff"/>
<rect x="196" y="224" width="71" height="4" fill="#0015ff"/>
<rect x="267" y="224" width="3" height="4" fill="#002aff"/>
<rect x="270" y="224" width="11" height="4" fill="#0040ff"/>
<rect x="281" y="224" width="3" height="4" fill="#0055ff"/>
<rect x="284" y="224" width="10" height="4" fill="#006aff"/>
<rect x="294" y="224" width="10" height="4" fill="#0080ff"/>
<rect x="304" y="224" width="18" height="4" fill="#0095ff"/>
<rect x="322" y="224" width="34" height="4" fill="#00aaff"/>
<rect x="356" y="224" width="27" height="4" fill="#00bfff"/>
<rect x="383" y="224" width="3" height="4" fill="#00d4ff"/>
<rect x="386" y="224" width="20" height="4" fill="#00bfff"/>
<rect x="406" y="224" width="14" height="4" fill="#00aaff"/>
<rect x="420" y="224" width="10" height="4" fill="#00bfff"/>
<rect x="430" y="224" width="4" height="4" fill="#00aaff"/>
<rect x="434" y="224" width="3" height="4" fill="#0095ff"/>
<rect x="437" y="224" width="3" height="4" fill="#0080ff"/>
<rect x="440" y="224" width="4" height="4" fill="#006aff"/>
<rect x="444" y="224" width="17" height="4" fill="#0040ff"/>
<rect x="461" y="224" width="17" height="4" fill="#0055ff"/>
<rect x="478" y="224" width="3" height="4" fill="#0080ff"/>
<rect x="481" y="224" width="24" height="4" fill="#00aaff"/>
<rect x="505" y="224" width="75" height="4" fill="#00bfff"/>
<rect x="152" y="221" width="40" height="3" fill="#0000ff"/>
<rect x="192" y="221" width="72" height="3" fill="#0015ff"/>
<rect x="264" y="221" width="6" height="3" fill="#002aff"/>
<rect x="270" y="221" width="7" height="3" fill="#0040ff"/>
<rect x="277" y="221" width="11" height="3" fill="#0055ff"/>
<rect x="288" y="221" width="10" height="3" fill="#006aff"/>
<rect x="298" y="221" width="13" height="3" fill="#0080ff"/>
<rect x="311" y="221" width="11" height="3" fill="#0095ff"/>
<rect x="322" y="221" width="34" height="3" fill="#00aaff"/>
<rect x="356" y="221" width="20" height="3" fill="#00bfff"/>
<rect x="376" y="221" width="17" height="3" fill="#00d4ff"/>
<rect x="393" y="221" width="37" height="3" fill="#00bfff"/>
<rect x="430" y="221" width="7" height="3" fill="#00aaff"/>
<rect x="437" y="221" width="3" height="3" fill="#0095ff"/>
<rect x="440" y="221" width="4" height="3" fill="#006aff"/>
<rect x="444" y="221" width="14" height="3" fill="#0040ff"/>
<rect x="458" y="221" width="16" height="3" fill="#0055ff"/>
<rect x="474" y="221" width="7" height="3" fill="#0080ff"/>
<rect x="481" y="221" width="21" height="3" fill="#00aaff"/>
<rect x="502" y="221" width="78" height="3" fill="#00bfff"/>
<rect x="152" y="217" width="37" height="4" fill="#0000ff"/>
<rect x="189" y="217" width="75" height="4" fill="#0015ff"/>
<rect x="264" y="217" width="3" height="4" fill="#002aff"/>
<rect x="267" y="217" width="14" height="4" fill="#0040ff"/>
<rect x="281" y="217" width="7" height="4" fill="#0055ff"/>
<rect x="288" y="217" width="3" height="4" fill="#0040ff"/>
<rect x="291" y="217" width="10" height="4" fill="#0055ff"/>
<rect x="301" y="217" width="7" height="4" fill="#006aff"/>
<rect x="308" y="217" width="7" height="4" fill="#0080ff"/>
<rect x="315" y="217" width="7" height="4" fill="#0095ff"/>
<rect x="322" y="217" width="30" height="4" fill="#00aaff"/>
<rect x="352" y="217" width="24" height="4" fill="#00bfff"/>
<rect x="376" y="217" width="24" height="4" fill="#00d4ff"/>
<rect x="400" y="217" width="30" height="4" fill="#00bfff"/>
<rect x="430" y="217" width="7" height="4" fill="#00aaff"/>
<rect x="437" y="217" width="3" height="4" fill="#0095ff"/>
<rect x="440" y="217" width="4" height="4" fill="#0080ff"/>
<rect x="444" y="217" width="30" height="4" fill="#0055ff"/>
<rect x="474" y="217" width="4" height="4" fill="#0080ff"/>
<rect x="478" y="217" width="7" height="4" fill="#00aaff"/>
<rect x="485" y="217" width="95" height="4" fill="#00bfff"/>
<rect x="152" y="214" width="34" height="3" fill="#0000ff"/>
<rect x="186" y="214" width="74" height="3" fill="#0015ff"/>
<rect x="260" y="214" width="7" height="3" fill="#002aff"/>
<rect x="267" y="214" width="24" height="3" fill="#0040ff"/>
<rect x="291" y="214" width="3" height="3" fill="#002aff"/>
<rect x="294" y="214" width="10" height="3" fill="#0040ff"/>
<rect x="304" y="214" width="7" height="3" fill="#006aff"/>
<rect x="311" y="214" width="7" height="3" fill="#0080ff"/>
<rect x="318" y="214" width="7" height="3" fill="#0095ff"/>
<rect x="325" y="214" width="27" height="3" fill="#00aaff"/>
<rect x="352" y="214" width="24" height="3" fill="#00bfff"/>
<rect x="376" y="214" width="41" height="3" fill="#00d4ff"/>
<rect x="417" y="214" width="17" height="3" fill="#00bfff"/>
<rect x="434" y="214" width="3" height="3" fill="#00aaff"/>
<rect x="437" y="214" width="3" height="3" fill="#0095ff"/>
<rect x="440" y="214" width="4" height="3" fill="#0080ff"/>
<rect x="444" y="214" width="30" height="3" fill="#0055ff"/>
<rect x="474" y="214" width="4" height="3" fill="#0080ff"/>
<rect x="478" y="214" width="3" height="3" fill="#00aaff"/>
<rect x="481" y="214" width="99" height="3" fill="#00bfff"/>
<rect x="152" y="210" width="30" height="4" fill="#0000ff"/>
<rect x="182" y="210" width="75" height="4" fill="#0015ff"/>
<rect x="257" y="210" width="13" height="4" fill="#002aff"/>
<rect x="270" y="210" width="14" height="4" fill="#0040ff"/>
<rect x="284" y="210" width="14" height="4" fill="#002aff"/>
<rect x="298" y="210" width="10" height="4" fill="#0040ff"/>
<rect x="308" y="210" width="10" height="4" fill="#006aff"/>
<rect x="318" y="210" width="7" height="4" fill="#0095ff"/>
<rect x="325" y="210" width="27" height="4" fill="#00aaff"/>
<rect x="352" y="210" width="24" height="4" fill="#00bfff"/>
<rect x="376" y="210" width="44" height="4" fill="#00d4ff"/>
<rect x="420" y="210" width="17" height="4" fill="#00bfff"/>
<rect x="437" y="210" width="3" height="4" fill="#00aaff"/>
<rect x="440" y="210" width="4" height="4" fill="#0080ff"/>
<rect x="444" y="210" width="30" height="4" fill="#0055ff"/>
<rect x="474" y="210" width="4" height="4" fill="#0080ff"/>
<rect x="478" y="210" width="3" height="4" fill="#00aaff"/>
<rect x="481" y="210" width="99" height="4" fill="#00bfff"/>
<rect x="152" y="206" width="27" height="4" fill="#0000ff"/>
<rect x="179" y="206" width="75" height="4" fill="#0015ff"/>
<rect x="254" y="206" width="13" height="4" fill="#002aff"/>
<rect x="267" y="206" width="14" height="4" fill="#0040ff"/>
<rect x="281" y="206" width="17" height="4" fill="#002aff"/>
<rect x="298" y="206" width="17" height="4" fill="#0040ff"/>
<rect x="315" y="206" width="7" height="4" fill="#006aff"/>
<rect x="322" y="206" width="3" height="4" fill="#0095ff"/>
<rect x="325" y="206" width="27" height="4" fill="#00aaff"/>
<rect x="352" y="206" width="24" height="4" fill="#00bfff"/>
<rect x="376" y="206" width="48" height="4" fill="#00d4ff"/>
<rect x="424" y="206" width="13" height="4" fill="#00bfff"/>
<rect x="437" y="206" width="3" height="4" fill="#00aaff"/>
<rect x="440" y="206" width="4" height="4" fill="#0080ff"/>
<rect x="444" y="206" width="30" height="4" fill="#0055ff"/>
<rect x="474" y="206" width="4" height="4" fill="#0095ff"/>
<rect x="478" y="206" width="3" height="4" fill="#00aaff"/>
<rect x="481" y="206" width="92" height="4" fill="#00bfff"/>
<rect x="573" y="206" width="7" height="4" fill="#00aaff"/>
<rect x="152" y="203" width="23" height="3" fill="#0000ff"/>
<rect x="175" y="203" width="75" height="3" fill="#0015ff"/>
<rect x="250" y="203" width="14" height="3" fill="#002aff"/>
<rect x="264" y="203" width="17" height="3" fill="#0040ff"/>
<rect x="281" y="203" width="3" height="3" fill="#002aff"/>
<rect x="284" y="203" width="10" height="3" fill="#0015ff"/>
<rect x="294" y="203" width="4" height="3" fill="#002aff"/>
<rect x="298" y="203" width="20" height="3" fill="#0040ff"/>
<rect x="318" y="203" width="4" height="3" fill="#006aff"/>
<rect x="322" y="203" width="6" height="3" fill="#0095ff"/>
<rect x="328" y="203" width="24" height="3" fill="#00aaff"/>
<rect x="352" y="203" width="24" height="3" fill="#00bfff"/>
<rect x="376" y="203" width="48" height="3" fill="#00d4ff"/>
<rect x="424" y="203" width="13" height="3" fill="#00bfff"/>
<rect x="437" y="203" width="3" height="3" fill="#00aaff"/>
<rect x="440" y="203" width="4" height="3" fill="#0080ff"/>
<rect x="444" y="203" width="34" height="3" fill="#0095ff"/>
<rect x="478" y="203" width="3" height="3" fill="#00aaff"/>
<rect x="481" y="203" width="7" height="3" fill="#00bfff"/>
<rect x="488" y="203" width="10" height="3" fill="#00aaff"/>
<rect x="498" y="203" width="68" height="3" fill="#00bfff"/>
<rect x="566" y="203" width="14" height="3" fill="#00aaff"/>
<rect x="152" y="199" width="20" height="4" fill="#0000ff"/>
<rect x="172" y="199" width="78" height="4" fill="#0015ff"/>
<rect x="250" y="199" width="14" height="4" fill="#002aff"/>
<rect x="264" y="199" width="17" height="4" fill="#0040ff"/>
<rect x="281" y="199" width="3" height="4" fill="#002aff"/>
<rect x="284" y="199" width="17" height="4" fill="#0015ff"/>
<rect x="301" y="199" width="17" height="4" fill="#0040ff"/>
<rect x="318" y="199" width="4" height="4" fill="#006aff"/>
<rect x="322" y="199" width="3" height="4" fill="#0080ff"/>
<rect x="325" y="199" width="3" height="4" fill="#0095ff"/>
<rect x="328" y="199" width="24" height="4" fill="#00aaff"/>
<rect x="352" y="199" width="24" height="4" fill="#00bfff"/>
<rect x="376" y="199" width="51" height="4" fill="#00d4ff"/>
<rect x="427" y="199" width="10" height="4" fill="#00bfff"/>
<rect x="437" y="199" width="17" height="4" fill="#00aaff"/>
<rect x="454" y="199" width="20" height="4" fill="#00bfff"/>
<rect x="474" y="199" width="7" height="4" fill="#00aaff"/>
<rect x="481" y="199" width="4" height="4" fill="#00bfff"/>
<rect x="485" y="199" width="17" height="4" fill="#00aaff"/>
<rect x="502" y="199" width="30" height="4" fill="#00bfff"/>
<rect x="532" y="199" width="48" height="4" fill="#00aaff"/>
<rect x="152" y="196" width="13" height="3" fill="#0000ff"/>
<rect x="165" y="196" width="92" height="3" fill="#0015ff"/>
<rect x="257" y="196" width="10" height="3" fill="#002aff"/>
<rect x="267" y="196" width="14" height="3" fill="#0040ff"/>
<rect x="281" y="196" width="3" height="3" fill="#002aff"/>
<rect x="284" y="196" width="24" height="3" fill="#0015ff"/>
<rect x="308" y="196" width="14" height="3" fill="#0040ff"/>
<rect x="322" y="196" width="3" height="3" fill="#0080ff"/>
<rect x="325" y="196" width="3" height="3" fill="#0095ff"/>
<rect x="328" y="196" width="24" height="3" fill="#00aaff"/>
<rect x="352" y="196" width="24" height="3" fill="#00bfff"/>
<rect x="376" y="196" width="20" height="3" fill="#00d4ff"/>
<rect x="396" y="196" width="17" height="3" fill="#00eaff"/>
<rect x="413" y="196" width="17" height="3" fill="#00d4ff"/>
<rect x="430" y="196" width="28" height="3" fill="#00bfff"/>
<rect x="458" y="196" width="16" height="3" fill="#00d4ff"/>
<rect x="474" y="196" width="11" height="3" fill="#00bfff"/>
<rect x="485" y="196" width="17" height="3" fill="#00aaff"/>
<rect x="502" y="196" width="20" height="3" fill="#00bfff"/>
<rect x="522" y="196" width="58" height="3" fill="#00aaff"/>
<rect x="152" y="192" width="10" height="4" fill="#0000ff"/>
<rect x="162" y="192" width="98" height="4" fill="#0015ff"/>
<rect x="260" y="192" width="7" height="4" fill="#002aff"/>
<rect x="267" y="192" width="14" height="4" fill="#0040ff"/>
<rect x="281" y="192" width="3" height="4" fill="#002aff"/>
<rect x="284" y="192" width="27" height="4" fill="#0015ff"/>
<rect x="311" y="192" width="7" height="4" fill="#0040ff"/>
<rect x="318" y="192" width="4" height="4" fill="#0055ff"/>
<rect x="322" y="192" width="3" height="4" fill="#0080ff"/>
<rect x="325" y="192" width="3" height="4" fill="#0095ff"/>
<rect x="328" y="192" width="24" height="4" fill="#00aaff"/>
<rect x="352" y="192" width="24" height="4" fill="#00bfff"/>
<rect x="376" y="192" width="17" height="4" fill="#00d4ff"/>
<rect x="393" y="192" width="27" height="4" fill="#00eaff"/>
<rect x="420" y="192" width="20" height="4" fill="#00d4ff"/>
<rect x="440" y="192" width="14" height="4" fill="#00bfff"/>
<rect x="454" y="192" width="24" height="4" fill="#00d4ff"/>
<rect x="478" y="192" width="7" height="4" fill="#00bfff"/>
<rect x="485" y="192" width="13" height="4" fill="#00aaff"/>
<rect x="498" y="192" width="21" height="4" fill="#00bfff"/>
<rect x="519" y="192" width="61" height="4" fill="#00aaff"/>
<rect x="152" y="188" width="6" height="4" fill="#0000ff"/>
<rect x="158" y="188" width="102" height="4" fill="#0015ff"/>
<rect x="260" y="188" width="7" height="4" fill="#002aff"/>
<rect x="267" y="188" width="14" height="4" fill="#0040ff"/>
<rect x="281" y="188" width="10" height="4" fill="#002aff"/>
<rect x="291" y="188" width="20" height="4" fill="#0015ff"/>
<rect x="311" y="188" width="11" height="4" fill="#0055ff"/>
<rect x="322" y="188" width="3" height="4" fill="#0080ff"/>
<rect x="325" y="188" width="3" height="4" fill="#0095ff"/>
<rect x="328" y="188" width="24" height="4" fill="#00aaff"/>
<rect x="352" y="188" width="24" height="4" fill="#00bfff"/>
<rect x="376" y="188" width="14" height="4" fill="#00d4ff"/>
<rect x="390" y="188" width="40" height="4" fill="#00eaff"/>
<rect x="430" y="188" width="48" height="4" fill="#00d4ff"/>
<rect x="478" y="188" width="10" height="4" fill="#00bfff"/>
<rect x="488" y="188" width="7" height="4" fill="#00aaff"/>
<rect x="495" y="188" width="24" height="4" fill="#00bfff"/>
<rect x="519" y="188" width="61" height="4" fill="#00aaff"/>
<rect x="152" y="185" width="3" height="3" fill="#0000ff"/>
<rect x="155" y="185" width="105" height="3" fill="#0015ff"/>
<rect x="260" y="185" width="10" height="3" fill="#002aff"/>
<rect x="270" y="185" width="7" height="3" fill="#0040ff"/>
<rect x="277" y="185" width="21" height="3" fill="#002aff"/>
<rect x="298" y="185" width="13" height="3" fill="#0015ff"/>
<rect x="311" y="185" width="11" height="3" fill="#0055ff"/>
<rect x="322" y="185" width="3" height="3" fill="#0080ff"/>
<rect x="325" y="185" width="3" height="3" fill="#0095ff"/>
<rect x="328" y="185" width="28" height="3" fill="#00aaff"/>
<rect x="356" y="185" width="20" height="3" fill="#00bfff"/>
<rect x="376" y="185" width="14" height="3" fill="#00d4ff"/>
<rect x="390" y="185" width="84" height="3" fill="#00eaff"/>
<rect x="474" y="185" width="7" height="3" fill="#00d4ff"/>
<rect x="481" y="185" width="38" height="3" fill="#00bfff"/>
<rect x="519" y="185" width="51" height="3" fill="#00aaff"/>
<rect x="570" y="185" width="10" height="3" fill="#0095ff"/>
<rect x="152" y="181" width="108" height="4" fill="#0015ff"/>
<rect x="260" y="181" width="17" height="4" fill="#002aff"/>
<rect x="277" y="181" width="7" height="4" fill="#0040ff"/>
<rect x="284" y="181" width="14" height="4" fill="#002aff"/>
<rect x="298" y="181" width="10" height="4" fill="#0015ff"/>
<rect x="308" y="181" width="7" height="4" fill="#0055ff"/>
<rect x="315" y="181" width="10" height="4" fill="#0080ff"/>
<rect x="325" y="181" width="3" height="4" fill="#0095ff"/>
<rect x="328" y="181" width="28" height="4" fill="#00aaff"/>
<rect x="356" y="181" width="20" height="4" fill="#00bfff"/>
<rect x="376" y="181" width="10" height="4" fill="#00d4ff"/>
<rect x="386" y="181" width="10" height="4" fill="#00eaff"/>
<rect x="396" y="181" width="38" height="4" fill="#00ffff"/>
<rect x="434" y="181" width="44" height="4" fill="#00eaff"/>
<rect x="478" y="181" width="24" height="4" fill="#00d4ff"/>
<rect x="502" y="181" width="17" height="4" fill="#00bfff"/>
<rect x="519" y="181" width="41" height="4" fill="#00aaff"/>
<rect x="560" y="181" width="20" height="4" fill="#0095ff"/>
<rect x="152" y="177" width="112" height="4" fill="#0015ff"/>
<rect x="264" y="177" width="20" height="4" fill="#002aff"/>
<rect x="284" y="177" width="7" height="4" fill="#0040ff"/>
<rect x="291" y="177" width="7" height="4" fill="#002aff"/>
<rect x="298" y="177" width="10" height="4" fill="#0015ff"/>
<rect x="308" y="177" width="7" height="4" fill="#0055ff"/>
<rect x="315" y="177" width="3" height="4" fill="#0080ff"/>
<rect x="318" y="177" width="10" height="4" fill="#0095ff"/>
<rect x="328" y="177" width="28" height="4" fill="#00aaff"/>
<rect x="356" y="177" width="20" height="4" fill="#00bfff"/>
<rect x="376" y="177" width="10" height="4" fill="#00d4ff"/>
<rect x="386" y="177" width="10" height="4" fill="#00eaff"/>
<rect x="396" y="177" width="75" height="4" fill="#00ffff"/>
<rect x="471" y="177" width="10" height="4" fill="#00eaff"/>
<rect x="481" y="177" width="24" height="4" fill="#00d4ff"/>
<rect x="505" y="177" width="14" height="4" fill="#00bfff"/>
<rect x="519" y="177" width="27" height="4" fill="#00aaff"/>
<rect x="546" y="177" width="34" height="4" fill="#0095ff"/>
<rect x="152" y="174" width="118" height="3" fill="#0015ff"/>
<rect x="270" y="174" width="11" height="3" fill="#002aff"/>
<rect x="281" y="174" width="3" height="3" fill="#0040ff"/>
<rect x="284" y="174" width="14" height="3" fill="#002aff"/>
<rect x="298" y="174" width="6" height="3" fill="#0015ff"/>
<rect x="304" y="174" width="11" height="3" fill="#0055ff"/>
<rect x="315" y="174" width="7" height="3" fill="#0080ff"/>
<rect x="322" y="174" width="16" height="3" fill="#0095ff"/>
<rect x="338" y="174" width="21" height="3" fill="#00aaff"/>
<rect x="359" y="174" width="17" height="3" fill="#00bfff"/>
<rect x="376" y="174" width="10" height="3" fill="#00d4ff"/>
<rect x="386" y="174" width="10" height="3" fill="#00eaff"/>
<rect x="396" y="174" width="75" height="3" fill="#00ffff"/>
<rect x="471" y="174" width="14" height="3" fill="#00eaff"/>
<rect x="485" y="174" width="23" height="3" fill="#00d4ff"/>
<rect x="508" y="174" width="14" height="3" fill="#00bfff"/>
<rect x="522" y="174" width="17" height="3" fill="#00aaff"/>
<rect x="539" y="174" width="41" height="3" fill="#0095ff"/>
<rect x="152" y="170" width="125" height="4" fill="#0015ff"/>
<rect x="277" y="170" width="21" height="4" fill="#002aff"/>
<rect x="298" y="170" width="6" height="4" fill="#0015ff"/>
<rect x="304" y="170" width="14" height="4" fill="#0055ff"/>
<rect x="318" y="170" width="17" height="4" fill="#0080ff"/>
<rect x="335" y="170" width="14" height="4" fill="#0095ff"/>
<rect x="349" y="170" width="10" height="4" fill="#00aaff"/>
<rect x="359" y="170" width="13" height="4" fill="#00bfff"/>
<rect x="372" y="170" width="14" height="4" fill="#00d4ff"/>
<rect x="386" y="170" width="10" height="4" fill="#00eaff"/>
<rect x="396" y="170" width="78" height="4" fill="#00ffff"/>
<rect x="474" y="170" width="18" height="4" fill="#00eaff"/>
<rect x="492" y="170" width="16" height="4" fill="#00d4ff"/>
<rect x="508" y="170" width="14" height="4" fill="#00bfff"/>
<rect x="522" y="170" width="14" height="4" fill="#00aaff"/>
<rect x="536" y="170" width="44" height="4" fill="#0095ff"/>
<rect x="152" y="166" width="132" height="4" fill="#0015ff"/>
<rect x="284" y="166" width="4" height="4" fill="#002aff"/>
<rect x="288" y="166" width="20" height="4" fill="#0015ff"/>
<rect x="308" y="166" width="17" height="4" fill="#0055ff"/>
<rect x="325" y="166" width="7" height="4" fill="#0040ff"/>
<rect x="332" y="166" width="13" height="4" fill="#006aff"/>
<rect x="345" y="166" width="11" height="4" fill="#0095ff"/>
<rect x="356" y="166" width="3" height="4" fill="#00aaff"/>
<rect x="359" y="166" width="13" height="4" fill="#00bfff"/>
<rect x="372" y="166" width="14" height="4" fill="#00d4ff"/>
<rect x="386" y="166" width="14" height="4" fill="#00eaff"/>
<rect x="400" y="166" width="74" height="4" fill="#00ffff"/>
<rect x="474" y="166" width="18" height="4" fill="#00eaff"/>
<rect x="492" y="166" width="16" height="4" fill="#00d4ff"/>
<rect x="508" y="166" width="18" height="4" fill="#00bfff"/>
<rect x="526" y="166" width="10" height="4" fill="#00aaff"/>
<rect x="536" y="166" width="30" height="4" fill="#0095ff"/>
<rect x="566" y="166" width="14" height="4" fill="#0080ff"/>
<rect x="152" y="163" width="156" height="3" fill="#0015ff"/>
<rect x="308" y="163" width="17" height="3" fill="#0055ff"/>
<rect x="325" y="163" width="17" height="3" fill="#0040ff"/>
<rect x="342" y="163" width="7" height="3" fill="#006aff"/>
<rect x="349" y="163" width="3" height="3" fill="#0080ff"/>
<rect x="352" y="163" width="4" height="3" fill="#0095ff"/>
<rect x="356" y="163" width="3" height="3" fill="#00aaff"/>
<rect x="359" y="163" width="13" height="3" fill="#00bfff"/>
<rect x="372" y="163" width="14" height="3" fill="#00d4ff"/>
<rect x="386" y="163" width="14" height="3" fill="#00eaff"/>
<rect x="400" y="163" width="24" height="3" fill="#00ffff"/>
<rect x="424" y="163" width="13" height="3" fill="#00ffea"/>
<rect x="437" y="163" width="3" height="3" fill="#00ffff"/>
<rect x="440" y="163" width="24" height="3" fill="#00eaff"/>
<rect x="464" y="163" width="14" height="3" fill="#00ffff"/>
<rect x="478" y="163" width="17" height="3" fill="#00eaff"/>
<rect x="495" y="163" width="13" height="3" fill="#00d4ff"/>
<rect x="508" y="163" width="18" height="3" fill="#00bfff"/>
<rect x="526" y="163" width="10" height="3" fill="#00aaff"/>
<rect x="536" y="163" width="13" height="3" fill="#0095ff"/>
<rect x="549" y="163" width="31" height="3" fill="#0080ff"/>
<rect x="152" y="159" width="159" height="4" fill="#0015ff"/>
<rect x="311" y="159" width="14" height="4" fill="#0055ff"/>
<rect x="325" y="159" width="24" height="4" fill="#0040ff"/>
<rect x="349" y="159" width="3" height="4" fill="#0080ff"/>
<rect x="352" y="159" width="4" height="4" fill="#0095ff"/>
<rect x="356" y="159" width="13" height="4" fill="#00aaff"/>
<rect x="369" y="159" width="3" height="4" fill="#00bfff"/>
<rect x="372" y="159" width="18" height="4" fill="#00d4ff"/>
<rect x="390" y="159" width="10" height="4" fill="#00eaff"/>
<rect x="400" y="159" width="20" height="4" fill="#00ffff"/>
<rect x="420" y="159" width="14" height="4" fill="#00ffea"/>
<rect x="434" y="159" width="6" height="4" fill="#00ffff"/>
<rect x="440" y="159" width="21" height="4" fill="#00bfff"/>
<rect x="461" y="159" width="3" height="4" fill="#00eaff"/>
<rect x="464" y="159" width="14" height="4" fill="#00ffff"/>
<rect x="478" y="159" width="17" height="4" fill="#00eaff"/>
<rect x="495" y="159" width="13" height="4" fill="#00d4ff"/>
<rect x="508" y="159" width="18" height="4" fill="#00bfff"/>
<rect x="526" y="159" width="10" height="4" fill="#00aaff"/>
<rect x="536" y="159" width="13" height="4" fill="#0095ff"/>
<rect x="549" y="159" width="31" height="4" fill="#0080ff"/>
<rect x="152" y="156" width="159" height="3" fill="#0015ff"/>
<rect x="311" y="156" width="11" height="3" fill="#0055ff"/>
<rect x="322" y="156" width="23" height="3" fill="#0040ff"/>
<rect x="345" y="156" width="4" height="3" fill="#0055ff"/>
<rect x="349" y="156" width="13" height="3" fill="#0080ff"/>
<rect x="362" y="156" width="4" height="3" fill="#0095ff"/>
<rect x="366" y="156" width="3" height="3" fill="#00aaff"/>
<rect x="369" y="156" width="17" height="3" fill="#00bfff"/>
<rect x="386" y="156" width="4" height="3" fill="#00d4ff"/>
<rect x="390" y="156" width="10" height="3" fill="#00eaff"/>
<rect x="400" y="156" width="17" height="3" fill="#00ffff"/>
<rect x="417" y="156" width="17" height="3" fill="#00ffea"/>
<rect x="434" y="156" width="3" height="3" fill="#00ffff"/>
<rect x="437" y="156" width="7" height="3" fill="#00d4ff"/>
<rect x="444" y="156" width="14" height="3" fill="#0080ff"/>
<rect x="458" y="156" width="3" height="3" fill="#00bfff"/>
<rect x="461" y="156" width="7" height="3" fill="#00eaff"/>
<rect x="468" y="156" width="13" height="3" fill="#00ffff"/>
<rect x="481" y="156" width="17" height="3" fill="#00eaff"/>
<rect x="498" y="156" width="14" height="3" fill="#00d4ff"/>
<rect x="512" y="156" width="14" height="3" fill="#00bfff"/>
<rect x="526" y="156" width="10" height="3" fill="#00aaff"/>
<rect x="536" y="156" width="17" height="3" fill="#0095ff"/>
<rect x="553" y="156" width="27" height="3" fill="#0080ff"/>
<rect x="152" y="152" width="159" height="4" fill="#0015ff"/>
<rect x="311" y="152" width="11" height="4" fill="#0055ff"/>
<rect x="322" y="152" width="20" height="4" fill="#0040ff"/>
<rect x="342" y="152" width="7" height="4" fill="#0055ff"/>
<rect x="349" y="152" width="3" height="4" fill="#0080ff"/>
<rect x="352" y="152" width="10" height="4" fill="#0055ff"/>
<rect x="362" y="152" width="21" height="4" fill="#0095ff"/>
<rect x="383" y="152" width="3" height="4" fill="#00aaff"/>
<rect x="386" y="152" width="10" height="4" fill="#00d4ff"/>
<rect x="396" y="152" width="7" height="4" fill="#00eaff"/>
<rect x="403" y="152" width="7" height="4" fill="#00ffff"/>
<rect x="410" y="152" width="10" height="4" fill="#00ffea"/>
<rect x="420" y="152" width="14" height="4" fill="#00ffd4"/>
<rect x="434" y="152" width="3" height="4" fill="#00ffff"/>
<rect x="437" y="152" width="3" height="4" fill="#00d4ff"/>
<rect x="440" y="152" width="18" height="4" fill="#0080ff"/>
<rect x="458" y="152" width="6" height="4" fill="#00bfff"/>
<rect x="464" y="152" width="4" height="4" fill="#00eaff"/>
<rect x="468" y="152" width="13" height="4" fill="#00ffff"/>
<rect x="481" y="152" width="17" height="4" fill="#00eaff"/>
<rect x="498" y="152" width="14" height="4" fill="#00d4ff"/>
<rect x="512" y="152" width="14" height="4" fill="#00bfff"/>
<rect x="526" y="152" width="10" height="4" fill="#00aaff"/>
<rect x="536" y="152" width="17" height="4" fill="#0095ff"/>
<rect x="553" y="152" width="27" height="4" fill="#0080ff"/>
<rect x="152" y="148" width="159" height="4" fill="#0015ff"/>
<rect x="311" y="148" width="11" height="4" fill="#0055ff"/>
<rect x="322" y="148" width="13" height="4" fill="#0040ff"/>
<rect x="335" y="148" width="37" height="4" fill="#0055ff"/>
<rect x="372" y="148" width="11" height="4" fill="#006aff"/>
<rect x="383" y="148" width="13" height="4" fill="#00aaff"/>
<rect x="396" y="148" width="4" height="4" fill="#00bfff"/>
<rect x="400" y="148" width="3" height="4" fill="#00eaff"/>
<rect x="403" y="148" width="3" height="4" fill="#00ffff"/>
<rect x="406" y="148" width="11" height="4" fill="#00ffea"/>
<rect x="417" y="148" width="17" height="4" fill="#00ffd4"/>
<rect x="434" y="148" width="3" height="4" fill="#00ffea"/>
<rect x="437" y="148" width="3" height="4" fill="#00d4ff"/>
<rect x="440" y="148" width="21" height="4" fill="#0080ff"/>
<rect x="461" y="148" width="3" height="4" fill="#00bfff"/>
<rect x="464" y="148" width="7" height="4" fill="#00eaff"/>
<rect x="471" y="148" width="14" height="4" fill="#00ffff"/>
<rect x="485" y="148" width="13" height="4" fill="#00eaff"/>
<rect x="498" y="148" width="10" height="4" fill="#00d4ff"/>
<rect x="508" y="148" width="18" height="4" fill="#00bfff"/>
<rect x="526" y="148" width="10" height="4" fill="#00aaff"/>
<rect x="536" y="148" width="17" height="4" fill="#0095ff"/>
<rect x="553" y="148" width="27" height="4" fill="#0080ff"/>
<rect x="152" y="144" width="159" height="4" fill="#0015ff"/>
<rect x="311" y="144" width="7" height="4" fill="#0055ff"/>
<rect x="318" y="144" width="14" height="4" fill="#0040ff"/>
<rect x="332" y="144" width="40" height="4" fill="#0055ff"/>
<rect x="372" y="144" width="21" height="4" fill="#006aff"/>
<rect x="393" y="144" width="3" height="4" fill="#0080ff"/>
<rect x="396" y="144" width="4" height="4" fill="#00bfff"/>
<rect x="400" y="144" width="6" height="4" fill="#00eaff"/>
<rect x="406" y="144" width="7" height="4" fill="#00ffea"/>
<rect x="413" y="144" width="21" height="4" fill="#00ffd4"/>
<rect x="434" y="144" width="3" height="4" fill="#00ffea"/>
<rect x="437" y="144" width="3" height="4" fill="#00d4ff"/>
<rect x="440" y="144" width="11" height="4" fill="#0095ff"/>
<rect x="451" y="144" width="10" height="4" fill="#0080ff"/>
<rect x="461" y="144" width="7" height="4" fill="#00bfff"/>
<rect x="468" y="144" width="3" height="4" fill="#00eaff"/>
<rect x="471" y="144" width="14" height="4" fill="#00ffff"/>
<rect x="485" y="144" width="13" height="4" fill="#00eaff"/>
<rect x="498" y="144" width="10" height="4" fill="#00d4ff"/>
<rect x="508" y="144" width="18" height="4" fill="#00bfff"/>
<rect x="526" y="144" width="10" height="4" fill="#00aaff"/>
<rect x="536" y="144" width="20" height="4" fill="#0095ff"/>
<rect x="556" y="144" width="24" height="4" fill="#0080ff"/>
<rect x="152" y="141" width="159" height="3" fill="#0015ff"/>
<rect x="311" y="141" width="7" height="3" fill="#0055ff"/>
<rect x="318" y="141" width="10" height="3" fill="#0040ff"/>
<rect x="328" y="141" width="44" height="3" fill="#0055ff"/>
<rect x="372" y="141" width="21" height="3" fill="#006aff"/>
<rect x="393" y="141" width="3" height="3" fill="#0080ff"/>
<rect x="396" y="141" width="7" height="3" fill="#00bfff"/>
<rect x="403" y="141" width="10" height="3" fill="#00ffff"/>
<rect x="413" y="141" width="21" height="3" fill="#00ffd4"/>
<rect x="434" y="141" width="3" height="3" fill="#00ffea"/>
<rect x="437" y="141" width="3" height="3" fill="#00d4ff"/>
<rect x="440" y="141" width="11" height="3" fill="#0095ff"/>
<rect x="451" y="141" width="13" height="3" fill="#0080ff"/>
<rect x="464" y="141" width="4" height="3" fill="#00bfff"/>
<rect x="468" y="141" width="6" height="3" fill="#00eaff"/>
<rect x="474" y="141" width="14" height="3" fill="#00ffff"/>
<rect x="488" y="141" width="10" height="3" fill="#00eaff"/>
<rect x="498" y="141" width="10" height="3" fill="#00d4ff"/>
<rect x="508" y="141" width="18" height="3" fill="#00bfff"/>
<rect x="526" y="141" width="10" height="3" fill="#00aaff"/>
<rect x="536" y="141" width="24" height="3" fill="#0095ff"/>
<rect x="560" y="141" width="20" height="3" fill="#0080ff"/>
<rect x="152" y="137" width="159" height="4" fill="#0015ff"/>
<rect x="311" y="137" width="7" height="4" fill="#0055ff"/>
<rect x="318" y="137" width="7" height="4" fill="#0040ff"/>
<rect x="325" y="137" width="47" height="4" fill="#0055ff"/>
<rect x="372" y="137" width="18" height="4" fill="#006aff"/>
<rect x="390" y="137" width="10" height="4" fill="#0080ff"/>
<rect x="400" y="137" width="6" height="4" fill="#00bfff"/>
<rect x="406" y="137" width="4" height="4" fill="#00d4ff"/>
<rect x="410" y="137" width="7" height="4" fill="#00ffff"/>
<rect x="417" y="137" width="3" height="4" fill="#00ffea"/>
<rect x="420" y="137" width="14" height="4" fill="#00ffd4"/>
<rect x="434" y="137" width="3" height="4" fill="#00ffea"/>
<rect x="437" y="137" width="3" height="4" fill="#00eaff"/>
<rect x="440" y="137" width="11" height="4" fill="#0095ff"/>
<rect x="451" y="137" width="13" height="4" fill="#0080ff"/>
<rect x="464" y="137" width="7" height="4" fill="#00bfff"/>
<rect x="471" y="137" width="3" height="4" fill="#00eaff"/>
<rect x="474" y="137" width="14" height="4" fill="#00ffff"/>
<rect x="488" y="137" width="10" height="4" fill="#00eaff"/>
<rect x="498" y="137" width="10" height="4" fill="#00d4ff"/>
<rect x="508" y="137" width="18" height="4" fill="#00bfff"/>
<rect x="526" y="137" width="10" height="4" fill="#00aaff"/>
<rect x="536" y="137" width="27" height="4" fill="#0095ff"/>
<rect x="563" y="137" width="17" height="4" fill="#0080ff"/>
<rect x="152" y="133" width="159" height="4" fill="#0015ff"/>
<rect x="311" y="133" width="4" height="4" fill="#0055ff"/>
<rect x="315" y="133" width="7" height="4" fill="#0040ff"/>
<rect x="322" y="133" width="50" height="4" fill="#0055ff"/>
<rect x="372" y="133" width="14" height="4" fill="#006aff"/>
<rect x="386" y="133" width="20" height="4" fill="#0080ff"/>
<rect x="406" y="133" width="11" height="4" fill="#00d4ff"/>
<rect x="417" y="133" width="3" height="4" fill="#00ffea"/>
<rect x="420" y="133" width="14" height="4" fill="#00ffd4"/>
<rect x="434" y="133" width="3" height="4" fill="#00ffea"/>
<rect x="437" y="133" width="3" height="4" fill="#00d4ff"/>
<rect x="440" y="133" width="11" height="4" fill="#0095ff"/>
<rect x="451" y="133" width="17" height="4" fill="#0080ff"/>
<rect x="468" y="133" width="3" height="4" fill="#00bfff"/>
<rect x="471" y="133" width="3" height="4" fill="#00eaff"/>
<rect x="474" y="133" width="14" height="4" fill="#00ffff"/>
<rect x="488" y="133" width="7" height="4" fill="#00eaff"/>
<rect x="495" y="133" width="13" height="4" fill="#00d4ff"/>
<rect x="508" y="133" width="18" height="4" fill="#00bfff"/>
<rect x="526" y="133" width="10" height="4" fill="#00aaff"/>
<rect x="536" y="133" width="27" height="4" fill="#0095ff"/>
<rect x="563" y="133" width="17" height="4" fill="#0080ff"/>
<rect x="152" y="130" width="159" height="3" fill="#0015ff"/>
<rect x="311" y="130" width="4" height="3" fill="#0055ff"/>
<rect x="315" y="130" width="3" height="3" fill="#0040ff"/>
<rect x="318" y="130" width="54" height="3" fill="#0055ff"/>
<rect x="372" y="130" width="11" height="3" fill="#006aff"/>
<rect x="383" y="130" width="30" height="3" fill="#0080ff"/>
<rect x="413" y="130" width="4" height="3" fill="#00d4ff"/>
<rect x="417" y="130" width="7" height="3" fill="#00ffff"/>
<rect x="424" y="130" width="10" height="3" fill="#00ffd4"/>
<rect x="434" y="130" width="3" height="3" fill="#00ffea"/>
<rect x="437" y="130" width="3" height="3" fill="#00d4ff"/>
<rect x="440" y="130" width="7" height="3" fill="#0095ff"/>
<rect x="447" y="130" width="21" height="3" fill="#0080ff"/>
<rect x="468" y="130" width="3" height="3" fill="#00bfff"/>
<rect x="471" y="130" width="3" height="3" fill="#00eaff"/>
<rect x="474" y="130" width="11" height="3" fill="#00ffff"/>
<rect x="485" y="130" width="10" height="3" fill="#00eaff"/>
<rect x="495" y="130" width="13" height="3" fill="#00d4ff"/>
<rect x="508" y="130" width="18" height="3" fill="#00bfff"/>
<rect x="526" y="130" width="13" height="3" fill="#00aaff"/>
<rect x="539" y="130" width="27" height="3" fill="#0095ff"/>
<rect x="566" y="130" width="14" height="3" fill="#0080ff"/>
<rect x="152" y="126" width="159" height="4" fill="#0015ff"/>
<rect x="311" y="126" width="4" height="4" fill="#0055ff"/>
<rect x="315" y="126" width="3" height="4" fill="#0040ff"/>
<rect x="318" y="126" width="51" height="4" fill="#0055ff"/>
<rect x="369" y="126" width="14" height="4" fill="#006aff"/>
<rect x="383" y="126" width="30" height="4" fill="#0080ff"/>
<rect x="413" y="126" width="7" height="4" fill="#00d4ff"/>
<rect x="420" y="126" width="10" height="4" fill="#00ffff"/>
<rect x="430" y="126" width="4" height="4" fill="#00ffd4"/>
<rect x="434" y="126" width="3" height="4" fill="#00ffff"/>
<rect x="437" y="126" width="3" height="4" fill="#00d4ff"/>
<rect x="440" y="126" width="28" height="4" fill="#0080ff"/>
<rect x="468" y="126" width="3" height="4" fill="#00bfff"/>
<rect x="471" y="126" width="3" height="4" fill="#00eaff"/>
<rect x="474" y="126" width="11" height="4" fill="#00ffff"/>
<rect x="485" y="126" width="10" height="4" fill="#00eaff"/>
<rect x="495" y="126" width="13" height="4" fill="#00d4ff"/>
<rect x="508" y="126" width="18" height="4" fill="#00bfff"/>
<rect x="526" y="126" width="16" height="4" fill="#00aaff"/>
<rect x="542" y="126" width="28" height="4" fill="#0095ff"/>
<rect x="570" y="126" width="10" height="4" fill="#0080ff"/>
<rect x="152" y="122" width="159" height="4" fill="#0015ff"/>
<rect x="311" y="122" width="58" height="4" fill="#0055ff"/>
<rect x="369" y="122" width="10" height="4" fill="#006aff"/>
<rect x="379" y="122" width="38" height="4" fill="#0080ff"/>
<rect x="417" y="122" width="10" height="4" fill="#00d4ff"/>
<rect x="427" y="122" width="10" height="4" fill="#00ffff"/>
<rect x="437" y="122" width="3" height="4" fill="#00d4ff"/>
<rect x="440" y="122" width="4" height="4" fill="#00bfff"/>
<rect x="444" y="122" width="24" height="4" fill="#0080ff"/>
<rect x="468" y="122" width="3" height="4" fill="#00bfff"/>
<rect x="471" y="122" width="3" height="4" fill="#00eaff"/>
<rect x="474" y="122" width="4" height="4" fill="#00ffff"/>
<rect x="478" y="122" width="14" height="4" fill="#00eaff"/>
<rect x="492" y="122" width="20" height="4" fill="#00d4ff"/>
<rect x="512" y="122" width="14" height="4" fill="#00bfff"/>
<rect x="526" y="122" width="20" height="4" fill="#00aaff"/>
<rect x="546" y="122" width="34" height="4" fill="#0095ff"/>
<rect x="152" y="118" width="159" height="4" fill="#0015ff"/>
<rect x="311" y="118" width="58" height="4" fill="#0055ff"/>
<rect x="369" y="118" width="10" height="4" fill="#006aff"/>
<rect x="379" y="118" width="45" height="4" fill="#0080ff"/>
<rect x="424" y="118" width="6" height="4" fill="#00bfff"/>
<rect x="430" y="118" width="10" height="4" fill="#00eaff"/>
<rect x="440" y="118" width="4" height="4" fill="#00bfff"/>
<rect x="444" y="118" width="10" height="4" fill="#0080ff"/>
<rect x="454" y="118" width="14" height="4" fill="#006aff"/>
<rect x="468" y="118" width="3" height="4" fill="#00aaff"/>
<rect x="471" y="118" width="3" height="4" fill="#00d4ff"/>
<rect x="474" y="118" width="18" height="4" fill="#00eaff"/>
<rect x="492" y="118" width="20" height="4" fill="#00d4ff"/>
<rect x="512" y="118" width="17" height="4" fill="#00bfff"/>
<rect x="529" y="118" width="20" height="4" fill="#00aaff"/>
<rect x="549" y="118" width="31" height="4" fill="#0095ff"/>
<rect x="152" y="115" width="159" height="3" fill="#0015ff"/>
<rect x="311" y="115" width="55" height="3" fill="#0055ff"/>
<rect x="366" y="115" width="10" height="3" fill="#006aff"/>
<rect x="376" y="115" width="51" height="3" fill="#0080ff"/>
<rect x="427" y="115" width="7" height="3" fill="#00bfff"/>
<rect x="434" y="115" width="6" height="3" fill="#00eaff"/>
<rect x="440" y="115" width="7" height="3" fill="#00bfff"/>
<rect x="447" y="115" width="21" height="3" fill="#006aff"/>
<rect x="468" y="115" width="3" height="3" fill="#00aaff"/>
<rect x="471" y="115" width="3" height="3" fill="#00d4ff"/>
<rect x="474" y="115" width="11" height="3" fill="#00eaff"/>
<rect x="485" y="115" width="27" height="3" fill="#00d4ff"/>
<rect x="512" y="115" width="20" height="3" fill="#00bfff"/>
<rect x="532" y="115" width="21" height="3" fill="#00aaff"/>
<rect x="553" y="115" width="27" height="3" fill="#0095ff"/>
<rect x="152" y="111" width="156" height="4" fill="#0015ff"/>
<rect x="308" y="111" width="58" height="4" fill="#0055ff"/>
<rect x="366" y="111" width="10" height="4" fill="#006aff"/>
<rect x="376" y="111" width="54" height="4" fill="#0080ff"/>
<rect x="430" y="111" width="7" height="4" fill="#00bfff"/>
<rect x="437" y="111" width="7" height="4" fill="#00eaff"/>
<rect x="444" y="111" width="7" height="4" fill="#00aaff"/>
<rect x="451" y="111" width="17" height="4" fill="#006aff"/>
<rect x="468" y="111" width="3" height="4" fill="#00aaff"/>
<rect x="471" y="111" width="3" height="4" fill="#00d4ff"/>
<rect x="474" y="111" width="7" height="4" fill="#00eaff"/>
<rect x="481" y="111" width="34" height="4" fill="#00d4ff"/>
<rect x="515" y="111" width="27" height="4" fill="#00bfff"/>
<rect x="542" y="111" width="18" height="4" fill="#00aaff"/>
<rect x="560" y="111" width="20" height="4" fill="#0095ff"/>
<rect x="152" y="107" width="156" height="4" fill="#0015ff"/>
<rect x="308" y="107" width="58" height="4" fill="#0055ff"/>
<rect x="366" y="107" width="6" height="4" fill="#006aff"/>
<rect x="372" y="107" width="62" height="4" fill="#0080ff"/>
<rect x="434" y="107" width="3" height="4" fill="#00bfff"/>
<rect x="437" y="107" width="3" height="4" fill="#00aaff"/>
<rect x="440" y="107" width="7" height="4" fill="#00d4ff"/>
<rect x="447" y="107" width="7" height="4" fill="#00aaff"/>
<rect x="454" y="107" width="14" height="4" fill="#006aff"/>
<rect x="468" y="107" width="3" height="4" fill="#00aaff"/>
<rect x="471" y="107" width="3" height="4" fill="#00bfff"/>
<rect x="474" y="107" width="48" height="4" fill="#00d4ff"/>
<rect x="522" y="107" width="24" height="4" fill="#00bfff"/>
<rect x="546" y="107" width="17" height="4" fill="#00aaff"/>
<rect x="563" y="107" width="17" height="4" fill="#0095ff"/>
<rect x="152" y="103" width="156" height="4" fill="#0015ff"/>
<rect x="308" y="103" width="58" height="4" fill="#0055ff"/>
<rect x="366" y="103" width="3" height="4" fill="#006aff"/>
<rect x="369" y="103" width="61" height="4" fill="#0080ff"/>
<rect x="430" y="103" width="7" height="4" fill="#006aff"/>
<rect x="437" y="103" width="3" height="4" fill="#00aaff"/>
<rect x="440" y="103" width="7" height="4" fill="#00d4ff"/>
<rect x="447" y="103" width="4" height="4" fill="#00bfff"/>
<rect x="451" y="103" width="20" height="4" fill="#0095ff"/>
<rect x="471" y="103" width="3" height="4" fill="#00bfff"/>
<rect x="474" y="103" width="58" height="4" fill="#00d4ff"/>
<rect x="532" y="103" width="21" height="4" fill="#00bfff"/>
<rect x="553" y="103" width="13" height="4" fill="#00aaff"/>
<rect x="566" y="103" width="14" height="4" fill="#0095ff"/>
<rect x="152" y="100" width="152" height="3" fill="#0015ff"/>
<rect x="304" y="100" width="62" height="3" fill="#0055ff"/>
<rect x="366" y="100" width="3" height="3" fill="#006aff"/>
<rect x="369" y="100" width="58" height="3" fill="#0080ff"/>
<rect x="427" y="100" width="10" height="3" fill="#006aff"/>
<rect x="437" y="100" width="3" height="3" fill="#00aaff"/>
<rect x="440" y="100" width="7" height="3" fill="#00d4ff"/>
<rect x="447" y="100" width="27" height="3" fill="#00bfff"/>
<rect x="474" y="100" width="14" height="3" fill="#00d4ff"/>
<rect x="488" y="100" width="14" height="3" fill="#00bfff"/>
<rect x="502" y="100" width="37" height="3" fill="#00d4ff"/>
<rect x="539" y="100" width="17" height="3" fill="#00bfff"/>
<rect x="556" y="100" width="14" height="3" fill="#00aaff"/>
<rect x="570" y="100" width="10" height="3" fill="#0095ff"/>
<rect x="152" y="96" width="152" height="4" fill="#0015ff"/>
<rect x="304" y="96" width="62" height="4" fill="#0055ff"/>
<rect x="366" y="96" width="58" height="4" fill="#0080ff"/>
<rect x="424" y="96" width="13" height="4" fill="#006aff"/>
<rect x="437" y="96" width="3" height="4" fill="#00aaff"/>
<rect x="440" y="96" width="7" height="4" fill="#00bfff"/>
<rect x="447" y="96" width="41" height="4" fill="#00d4ff"/>
<rect x="488" y="96" width="14" height="4" fill="#00bfff"/>
<rect x="502" y="96" width="13" height="4" fill="#00d4ff"/>
<rect x="515" y="96" width="14" height="4" fill="#00eaff"/>
<rect x="529" y="96" width="17" height="4" fill="#00d4ff"/>
<rect x="546" y="96" width="14" height="4" fill="#00bfff"/>
<rect x="560" y="96" width="20" height="4" fill="#00aaff"/>
<rect x="152" y="92" width="152" height="4" fill="#0015ff"/>
<rect x="304" y="92" width="62" height="4" fill="#0055ff"/>
<rect x="366" y="92" width="54" height="4" fill="#0080ff"/>
<rect x="420" y="92" width="17" height="4" fill="#006aff"/>
<rect x="437" y="92" width="3" height="4" fill="#00aaff"/>
<rect x="440" y="92" width="4" height="4" fill="#0095ff"/>
<rect x="444" y="92" width="10" height="4" fill="#00bfff"/>
<rect x="454" y="92" width="34" height="4" fill="#00d4ff"/>
<rect x="488" y="92" width="14" height="4" fill="#00bfff"/>
<rect x="502" y="92" width="10" height="4" fill="#00d4ff"/>
<rect x="512" y="92" width="27" height="4" fill="#00eaff"/>
<rect x="539" y="92" width="10" height="4" fill="#00d4ff"/>
<rect x="549" y="92" width="11" height="4" fill="#00bfff"/>
<rect x="560" y="92" width="20" height="4" fill="#00aaff"/>
<rect x="152" y="88" width="152" height="4" fill="#0015ff"/>
<rect x="304" y="88" width="62" height="4" fill="#0055ff"/>
<rect x="366" y="88" width="44" height="4" fill="#0080ff"/>
<rect x="410" y="88" width="30" height="4" fill="#006aff"/>
<rect x="440" y="88" width="11" height="4" fill="#0095ff"/>
<rect x="451" y="88" width="7" height="4" fill="#00bfff"/>
<rect x="458" y="88" width="3" height="4" fill="#00d4ff"/>
<rect x="461" y="88" width="3" height="4" fill="#00bfff"/>
<rect x="464" y="88" width="28" height="4" fill="#00d4ff"/>
<rect x="492" y="88" width="10" height="4" fill="#00bfff"/>
<rect x="502" y="88" width="10" height="4" fill="#00d4ff"/>
<rect x="512" y="88" width="30" height="4" fill="#00eaff"/>
<rect x="542" y="88" width="11" height="4" fill="#00d4ff"/>
<rect x="553" y="88" width="10" height="4" fill="#00bfff"/>
<rect x="563" y="88" width="17" height="4" fill="#00aaff"/>
<rect x="152" y="84" width="149" height="4" fill="#0015ff"/>
<rect x="301" y="84" width="61" height="4" fill="#0055ff"/>
<rect x="362" y="84" width="41" height="4" fill="#0080ff"/>
<rect x="403" y="84" width="44" height="4" fill="#006aff"/>
<rect x="447" y="84" width="7" height="4" fill="#0095ff"/>
<rect x="454" y="84" width="17" height="4" fill="#00bfff"/>
<rect x="471" y="84" width="21" height="4" fill="#00d4ff"/>
<rect x="492" y="84" width="10" height="4" fill="#00bfff"/>
<rect x="502" y="84" width="10" height="4" fill="#00d4ff"/>
<rect x="512" y="84" width="34" height="4" fill="#00eaff"/>
<rect x="546" y="84" width="7" height="4" fill="#00d4ff"/>
<rect x="553" y="84" width="27" height="4" fill="#00bfff"/>
<rect x="152" y="81" width="149" height="3" fill="#0015ff"/>
<rect x="301" y="81" width="61" height="3" fill="#0055ff"/>
<rect x="362" y="81" width="38" height="3" fill="#0080ff"/>
<rect x="400" y="81" width="47" height="3" fill="#006aff"/>
<rect x="447" y="81" width="4" height="3" fill="#0055ff"/>
<rect x="451" y="81" width="3" height="3" fill="#0095ff"/>
<rect x="454" y="81" width="20" height="3" fill="#00bfff"/>
<rect x="474" y="81" width="21" height="3" fill="#00d4ff"/>
<rect x="495" y="81" width="7" height="3" fill="#00bfff"/>
<rect x="502" y="81" width="13" height="3" fill="#00d4ff"/>
<rect x="515" y="81" width="31" height="3" fill="#00eaff"/>
<rect x="546" y="81" width="10" height="3" fill="#00d4ff"/>
<rect x="556" y="81" width="24" height="3" fill="#00bfff"/>
<rect x="152" y="77" width="149" height="4" fill="#0015ff"/>
<rect x="301" y="77" width="61" height="4" fill="#0055ff"/>
<rect x="362" y="77" width="31" height="4" fill="#0080ff"/>
<rect x="393" y="77" width="54" height="4" fill="#006aff"/>
<rect x="447" y="77" width="4" height="4" fill="#0055ff"/>
<rect x="451" y="77" width="3" height="4" fill="#0095ff"/>
<rect x="454" y="77" width="7" height="4" fill="#00aaff"/>
<rect x="461" y="77" width="17" height="4" fill="#00bfff"/>
<rect x="478" y="77" width="44" height="4" fill="#00d4ff"/>
<rect x="522" y="77" width="24" height="4" fill="#00eaff"/>
<rect x="546" y="77" width="20" height="4" fill="#00d4ff"/>
<rect x="566" y="77" width="14" height="4" fill="#00bfff"/>
<rect x="152" y="73" width="149" height="4" fill="#0015ff"/>
<rect x="301" y="73" width="61" height="4" fill="#0055ff"/>
<rect x="362" y="73" width="28" height="4" fill="#0080ff"/>
<rect x="390" y="73" width="50" height="4" fill="#006aff"/>
<rect x="440" y="73" width="11" height="4" fill="#0055ff"/>
<rect x="451" y="73" width="7" height="4" fill="#0095ff"/>
<rect x="458" y="73" width="6" height="4" fill="#00aaff"/>
<rect x="464" y="73" width="17" height="4" fill="#00bfff"/>
<rect x="481" y="73" width="45" height="4" fill="#00d4ff"/>
<rect x="526" y="73" width="20" height="4" fill="#00eaff"/>
<rect x="546" y="73" width="34" height="4" fill="#00d4ff"/>
<rect x="152" y="69" width="146" height="4" fill="#0015ff"/>
<rect x="298" y="69" width="64" height="4" fill="#0055ff"/>
<rect x="362" y="69" width="24" height="4" fill="#0080ff"/>
<rect x="386" y="69" width="48" height="4" fill="#006aff"/>
<rect x="434" y="69" width="20" height="4" fill="#0055ff"/>
<rect x="454" y="69" width="7" height="4" fill="#0095ff"/>
<rect x="461" y="69" width="7" height="4" fill="#00aaff"/>
<rect x="468" y="69" width="20" height="4" fill="#00bfff"/>
<rect x="488" y="69" width="41" height="4" fill="#00d4ff"/>
<rect x="529" y="69" width="13" height="4" fill="#00eaff"/>
<rect x="542" y="69" width="38" height="4" fill="#00d4ff"/>
<rect x="152" y="65" width="146" height="4" fill="#0015ff"/>
<rect x="298" y="65" width="61" height="4" fill="#0055ff"/>
<rect x="359" y="65" width="20" height="4" fill="#0080ff"/>
<rect x="379" y="65" width="51" height="4" fill="#006aff"/>
<rect x="430" y="65" width="28" height="4" fill="#0055ff"/>
<rect x="458" y="65" width="6" height="4" fill="#0095ff"/>
<rect x="464" y="65" width="7" height="4" fill="#00aaff"/>
<rect x="471" y="65" width="41" height="4" fill="#00bfff"/>
<rect x="512" y="65" width="68" height="4" fill="#00d4ff"/>
<rect x="152" y="61" width="146" height="4" fill="#0015ff"/>
<rect x="298" y="61" width="61" height="4" fill="#0055ff"/>
<rect x="359" y="61" width="17" height="4" fill="#0080ff"/>
<rect x="376" y="61" width="51" height="4" fill="#006aff"/>
<rect x="427" y="61" width="34" height="4" fill="#0055ff"/>
<rect x="461" y="61" width="7" height="4" fill="#0095ff"/>
<rect x="468" y="61" width="3" height="4" fill="#00aaff"/>
<rect x="471" y="61" width="51" height="4" fill="#00bfff"/>
<rect x="522" y="61" width="58" height="4" fill="#00d4ff"/>
<rect x="152" y="57" width="142" height="4" fill="#0015ff"/>
<rect x="294" y="57" width="65" height="4" fill="#0055ff"/>
<rect x="359" y="57" width="13" height="4" fill="#0080ff"/>
<rect x="372" y="57" width="48" height="4" fill="#006aff"/>
<rect x="420" y="57" width="44" height="4" fill="#0055ff"/>
<rect x="464" y="57" width="4" height="4" fill="#0080ff"/>
<rect x="468" y="57" width="3" height="4" fill="#00aaff"/>
<rect x="471" y="57" width="55" height="4" fill="#00bfff"/>
<rect x="526" y="57" width="40" height="4" fill="#00d4ff"/>
<rect x="566" y="57" width="14" height="4" fill="#00eaff"/>
<rect x="152" y="54" width="142" height="3" fill="#0015ff"/>
<rect x="294" y="54" width="62" height="3" fill="#0055ff"/>
<rect x="356" y="54" width="10" height="3" fill="#0080ff"/>
<rect x="366" y="54" width="51" height="3" fill="#006aff"/>
<rect x="417" y="54" width="47" height="3" fill="#0055ff"/>
<rect x="464" y="54" width="4" height="3" fill="#0080ff"/>
<rect x="468" y="54" width="3" height="3" fill="#00aaff"/>
<rect x="471" y="54" width="61" height="3" fill="#00bfff"/>
<rect x="532" y="54" width="34" height="3" fill="#00d4ff"/>
<rect x="566" y="54" width="14" height="3" fill="#00eaff"/>
<rect x="152" y="50" width="142" height="4" fill="#0015ff"/>
<rect x="294" y="50" width="62" height="4" fill="#0055ff"/>
<rect x="356" y="50" width="6" height="4" fill="#0080ff"/>
<rect x="362" y="50" width="51" height="4" fill="#006aff"/>
<rect x="413" y="50" width="51" height="4" fill="#0055ff"/>
<rect x="464" y="50" width="4" height="4" fill="#0080ff"/>
<rect x="468" y="50" width="6" height="4" fill="#00aaff"/>
<rect x="474" y="50" width="62" height="4" fill="#00bfff"/>
<rect x="536" y="50" width="30" height="4" fill="#00d4ff"/>
<rect x="566" y="50" width="14" height="4" fill="#00eaff"/>
<rect x="152" y="46" width="142" height="4" fill="#0015ff"/>
<rect x="294" y="46" width="62" height="4" fill="#0055ff"/>
<rect x="356" y="46" width="3" height="4" fill="#0080ff"/>
<rect x="359" y="46" width="47" height="4" fill="#006aff"/>
<rect x="406" y="46" width="58" height="4" fill="#0055ff"/>
<rect x="464" y="46" width="7" height="4" fill="#0080ff"/>
<rect x="471" y="46" width="3" height="4" fill="#00aaff"/>
<rect x="474" y="46" width="82" height="4" fill="#00bfff"/>
<rect x="556" y="46" width="17" height="4" fill="#00d4ff"/>
<rect x="573" y="46" width="7" height="4" fill="#00eaff"/>
<rect x="152" y="42" width="139" height="4" fill="#0015ff"/>
<rect x="291" y="42" width="61" height="4" fill="#0055ff"/>
<rect x="352" y="42" width="51" height="4" fill="#006aff"/>
<rect x="403" y="42" width="65" height="4" fill="#0055ff"/>
<rect x="468" y="42" width="3" height="4" fill="#0080ff"/>
<rect x="471" y="42" width="10" height="4" fill="#00aaff"/>
<rect x="481" y="42" width="75" height="4" fill="#00bfff"/>
<rect x="556" y="42" width="17" height="4" fill="#00d4ff"/>
<rect x="573" y="42" width="7" height="4" fill="#00eaff"/>
<rect x="152" y="38" width="139" height="4" fill="#0015ff"/>
<rect x="291" y="38" width="61" height="4" fill="#0055ff"/>
<rect x="352" y="38" width="48" height="4" fill="#006aff"/>
<rect x="400" y="38" width="68" height="4" fill="#0055ff"/>
<rect x="468" y="38" width="3" height="4" fill="#0080ff"/>
<rect x="471" y="38" width="10" height="4" fill="#00aaff"/>
<rect x="481" y="38" width="75" height="4" fill="#00bfff"/>
<rect x="556" y="38" width="17" height="4" fill="#00d4ff"/>
<rect x="573" y="38" width="7" height="4" fill="#00eaff"/>
<rect x="152" y="34" width="139" height="4" fill="#0015ff"/>
<rect x="291" y="34" width="58" height="4" fill="#0055ff"/>
<rect x="349" y="34" width="44" height="4" fill="#006aff"/>
<rect x="393" y="34" width="75" height="4" fill="#0055ff"/>
<rect x="468" y="34" width="3" height="4" fill="#0080ff"/>
<rect x="471" y="34" width="10" height="4" fill="#00aaff"/>
<rect x="481" y="34" width="75" height="4" fill="#00bfff"/>
<rect x="556" y="34" width="14" height="4" fill="#00d4ff"/>
<rect x="570" y="34" width="10" height="4" fill="#00eaff"/>
<path d="M154.2 465.3L165.1 476.7M163.9 471.9L165.1 476.7L160.3 475.3 M154.2 451.7L165.2 463.0M164.0 458.1L165.2 463.0L160.4 461.6 M154.3 410.8L164.2 423.1M163.4 418.2L164.2 423.1L159.5 421.3 M154.3 397.1L163.4 410.0M163.0 405.1L163.4 410.0L158.9 407.9 M154.6 383.3L159.7 398.3M160.6 393.4L159.7 398.3L155.9 395.0 M154.8 369.6L156.1 385.3M158.2 380.8L156.1 385.3L153.3 381.2 M155.1 355.9L152.4 371.4M155.6 367.6L152.4 371.4L150.7 366.7 M167.8 424.4L178.3 436.3M177.3 431.4L178.3 436.3L173.6 434.7 M167.9 410.7L177.0 423.7M176.6 418.7L177.0 423.7L172.5 421.6 M168.1 397.0L174.7 411.4M175.1 406.4L174.7 411.4L170.6 408.5 M168.4 383.3L170.4 398.9M172.3 394.3L170.4 398.9L167.4 395.0 M169.4 329.7L154.6 324.2M157.8 328.1L154.6 324.2L159.5 323.4 M169.4 316.0L155.6 308.2M158.1 312.5L155.6 308.2L160.6 308.2 M169.3 302.2L156.9 292.4M158.7 297.1L156.9 292.4L161.8 293.1 M181.5 424.4L191.6 436.5M190.7 431.6L191.6 436.5L186.9 434.8 M182.8 369.9L171.3 380.7M176.2 379.5L171.3 380.7L172.7 375.9 M183.1 356.6L167.8 360.7M172.6 362.0L167.8 360.7L171.3 357.1 M183.1 343.3L167.5 340.5M171.4 343.7L167.5 340.5L172.2 338.8 M183.0 329.7L168.6 323.2M171.5 327.3L168.6 323.2L173.6 322.7 M182.9 316.1L170.0 307.0M172.1 311.5L170.0 307.0L175.0 307.4 M182.8 302.3L171.0 291.8M172.6 296.5L171.0 291.8L175.9 292.8 M195.0 438.1L206.2 449.3M204.9 444.4L206.2 449.3L201.3 448.0 M196.7 370.3L181.4 374.4M186.2 375.7L181.4 374.4L184.9 370.8 M196.7 356.9L180.9 356.3M185.1 359.0L180.9 356.3L185.3 354.0 M196.7 343.3L181.2 340.0M184.9 343.3L181.2 340.0L186.0 338.4 M196.6 329.7L182.3 323.1M185.2 327.1L182.3 323.1L187.3 322.6 M196.6 316.0L183.1 307.7M185.5 312.1L183.1 307.7L188.1 307.9 M196.5 302.2L183.8 292.9M185.8 297.4L183.8 292.9L188.7 293.4 M208.9 451.5L215.6 465.8M216.0 460.8L215.6 465.8L211.5 462.9 M210.2 383.8L196.3 391.3M201.3 391.4L196.3 391.3L198.9 387.1 M210.3 370.5L194.5 371.6M199.0 373.8L194.5 371.6L198.7 368.8 M210.3 356.9L194.5 356.3M198.7 359.0L194.5 356.3L198.9 354.0 M210.3 343.2L194.6 341.6M198.6 344.5L194.6 341.6L199.1 339.5 M210.3 329.6L195.1 325.1M198.6 328.7L195.1 325.1L200.0 323.9 M210.2 315.9L195.7 309.6M198.7 313.6L195.7 309.6L200.7 309.0 M222.7 465.0L225.2 480.6M227.0 475.9L225.2 480.6L222.1 476.7 M222.8 451.4L224.2 467.1M226.3 462.6L224.2 467.1L221.3 463.0 M223.1 424.2L219.6 439.6M223.0 435.9L219.6 439.6L218.1 434.8 M223.3 410.7L216.3 424.8M220.5 422.1L216.3 424.8L216.0 419.8 M223.6 397.2L213.3 409.1M218.0 407.5L213.3 409.1L214.2 404.2 M223.7 383.7L210.4 392.1M215.4 391.9L210.4 392.1L212.7 387.7 M223.9 370.3L208.6 374.4M213.4 375.7L208.6 374.4L212.1 370.9 M223.9 356.8L208.1 357.9M212.6 360.1L208.1 357.9L212.3 355.1 M223.9 343.1L208.1 342.4M212.3 345.1L208.1 342.4L212.6 340.1 M223.9 329.4L208.2 327.4M212.2 330.5L208.2 327.4L212.8 325.5 M236.6 465.0L235.0 480.7M237.9 476.7L235.0 480.7L233.0 476.2 M236.7 451.4L233.3 466.8M236.7 463.2L233.3 466.8L231.8 462.1 M236.8 437.8L231.9 452.8M235.6 449.5L231.9 452.8L230.8 448.0 M236.9 424.3L229.9 438.4M234.0 435.7L229.9 438.4L229.6 433.4 M237.1 410.7L228.2 423.8M232.7 421.6L228.2 423.8L228.6 418.9 M237.1 397.2L226.9 409.2M231.6 407.5L226.9 409.2L227.8 404.3 M237.2 383.6L225.5 394.2M230.4 393.1L225.5 394.2L227.0 389.4 M237.4 370.1L223.4 377.5M228.4 377.7L223.4 377.5L226.1 373.3 M237.4 356.5L222.6 361.9M227.5 362.8L222.6 361.9L225.8 358.1 M250.4 465.0L246.2 480.3M249.7 476.8L246.2 480.3L244.9 475.4 M250.5 451.5L243.8 465.8M247.9 462.9L243.8 465.8L243.4 460.8 M250.5 437.9L243.9 452.2M248.0 449.3L243.9 452.2L243.4 447.3 M250.6 424.3L243.0 438.2M247.3 435.6L243.0 438.2L242.9 433.2 M250.6 410.7L242.0 423.9M246.4 421.7L242.0 423.9L242.3 418.9 M250.7 397.1L241.0 409.6M245.6 407.7L241.0 409.6L241.7 404.6 M250.8 383.6L239.3 394.4M244.2 393.3L239.3 394.4L240.8 389.6 M250.9 370.0L237.9 379.0M242.9 378.6L237.9 379.0L240.1 374.5 M250.9 356.3L237.5 364.7M242.5 364.5L237.5 364.7L239.9 360.3 M251.0 342.7L236.6 349.2M241.6 349.7L236.6 349.2L239.5 345.2 M251.1 202.6L235.5 205.4M240.2 207.1L235.5 205.4L239.4 202.1 M251.1 188.1L235.7 191.7M240.5 193.2L235.7 191.7L239.3 188.3 M264.0 465.0L259.1 480.1M262.8 476.7L259.1 480.1L258.1 475.2 M264.1 451.5L258.1 466.1M262.0 463.0L258.1 466.1L257.4 461.1 M264.1 437.9L257.9 452.4M261.9 449.4L257.9 452.4L257.3 447.5 M264.2 424.3L257.0 438.4M261.2 435.7L257.0 438.4L256.7 433.4 M264.2 410.7L256.2 424.3M260.5 421.8L256.2 424.3L256.2 419.3 M264.3 397.1L255.1 410.0M259.7 407.9L255.1 410.0L255.6 405.0 M264.4 383.5L253.4 394.9M258.2 393.5L253.4 394.9L254.6 390.0 M264.5 370.0L251.6 379.1M256.6 378.6L251.6 379.1L253.7 374.5 M264.5 356.3L251.8 365.7M256.8 365.1L251.8 365.7L253.8 361.1 M264.5 342.5L251.6 351.6M256.5 351.1L251.6 351.6L253.7 347.0 M264.6 328.8L251.0 336.9M256.0 336.8L251.0 336.9L253.4 332.5 M264.7 216.9L249.2 220.0M253.9 221.6L249.2 220.0L252.9 216.7 M264.7 202.5L249.3 206.2M254.1 207.6L249.3 206.2L252.9 202.8 M264.7 188.0L249.6 192.9M254.5 193.9L249.6 192.9L253.0 189.2 M264.6 173.5L249.6 178.4M254.5 179.4L249.6 178.4L253.0 174.7 M277.6 465.1L272.7 480.1M276.4 476.7L272.7 480.1L271.7 475.2 M277.7 451.5L272.0 466.2M275.9 463.1L272.0 466.2L271.2 461.3 M277.7 437.9L271.6 452.5M275.6 449.4L271.6 452.5L271.0 447.5 M277.7 424.3L271.1 438.6M275.2 435.7L271.1 438.6L270.6 433.6 M277.8 410.7L270.5 424.7M274.7 422.0L270.5 424.7L270.3 419.7 M277.8 397.0L269.9 410.7M274.2 408.2L269.9 410.7L269.9 405.7 M277.9 383.5L268.2 395.9M272.8 394.0L268.2 395.9L268.9 391.0 M278.0 369.8L267.0 381.2M271.8 379.8L267.0 381.2L268.2 376.4 M278.0 356.1L266.8 367.2M271.6 366.0L266.8 367.2L268.1 362.4 M278.0 342.4L266.8 353.6M271.7 352.3L266.8 353.6L268.1 348.7 M278.1 328.7L266.1 339.0M271.0 338.0L266.1 339.0L267.7 334.3 M278.2 231.0L263.3 236.0M268.1 237.0L263.3 236.0L266.6 232.3 M278.3 216.8L263.0 220.9M267.8 222.2L263.0 220.9L266.5 217.4 M278.3 202.5L263.1 207.0M268.0 208.1L263.1 207.0L266.6 203.3 M278.2 188.0L263.3 193.0M268.2 194.0L263.3 193.0L266.6 189.3 M278.2 173.4L263.4 178.9M268.3 179.7L263.4 178.9L266.6 175.0 M291.2 465.1L286.2 480.0M290.0 476.7L286.2 480.0L285.2 475.2 M291.2 451.5L285.8 466.3M289.7 463.1L285.8 466.3L285.0 461.4 M291.3 437.9L285.4 452.5M289.3 449.4L285.4 452.5L284.7 447.6 M291.3 424.3L285.1 438.8M289.1 435.8L285.1 438.8L284.5 433.8 M291.3 410.7L284.7 425.0M288.7 422.1L284.7 425.0L284.2 420.0 M291.4 397.0L284.0 411.0M288.2 408.3L284.0 411.0L283.8 406.0 M291.4 383.4L283.0 396.8M287.4 394.4L283.0 396.8L283.2 391.8 M291.5 369.8L282.2 382.5M286.8 380.5L282.2 382.5L282.7 377.6 M291.5 356.1L281.8 368.5M286.4 366.6L281.8 368.5L282.5 363.6 M291.5 342.3L281.5 354.5M286.2 352.8L281.5 354.5L282.3 349.6 M291.6 328.6L281.1 340.4M285.8 338.8L281.1 340.4L282.1 335.5 M291.6 314.8L280.5 326.0M285.3 324.7L280.5 326.0L281.8 321.2 M291.7 259.1L278.5 267.7M283.5 267.4L278.5 267.7L280.8 263.2 M291.8 245.0L278.1 252.9M283.1 252.9L278.1 252.9L280.6 248.6 M291.8 230.9L277.5 237.6M282.5 238.0L277.5 237.6L280.4 233.5 M291.8 216.7L277.1 222.4M282.0 223.1L277.1 222.4L280.2 218.5 M291.8 188.0L277.0 193.3M281.9 194.2L277.0 193.3L280.2 189.5 M291.8 173.4L277.0 179.0M282.0 179.8L277.0 179.0L280.2 175.1 M304.9 437.9L299.1 452.6M303.0 449.5L299.1 452.6L298.4 447.6 M304.9 424.3L298.9 438.9M302.9 435.8L298.9 438.9L298.2 433.9 M304.9 410.6L298.7 425.2M302.7 422.2L298.7 425.2L298.1 420.2 M304.9 397.0L298.1 411.3M302.3 408.4L298.1 411.3L297.7 406.3 M305.0 383.4L297.5 397.3M301.7 394.7L297.5 397.3L297.3 392.3 M305.0 369.7L296.9 383.3M301.3 380.8L296.9 383.3L297.0 378.3 M305.0 356.0L296.7 369.4M301.1 367.1L296.7 369.4L296.8 364.4 M305.1 342.3L296.1 355.3M300.6 353.1L296.1 355.3L296.5 350.3 M305.1 328.5L295.7 341.2M300.3 339.2L295.7 341.2L296.2 336.2 M305.1 314.7L295.4 327.1M300.0 325.3L295.4 327.1L296.1 322.2 M305.2 300.9L294.6 312.6M299.3 311.0L294.6 312.6L295.6 307.7 M305.2 287.0L294.0 298.1M298.9 296.8L294.0 298.1L295.3 293.3 M305.3 273.0L293.4 283.5M298.3 282.5L293.4 283.5L295.0 278.7 M305.3 259.0L293.0 268.9M297.9 268.2L293.0 268.9L294.8 264.3 M305.3 244.9L292.8 254.6M297.8 253.9L292.8 254.6L294.7 250.0 M305.4 230.8L291.7 238.8M296.7 238.8L291.7 238.8L294.2 234.5 M305.4 216.7L291.1 223.3M296.1 223.8L291.1 223.3L294.0 219.2 M305.4 187.9L290.7 193.8M295.7 194.5L290.7 193.8L293.8 189.9 M318.5 437.9L312.6 452.5M316.5 449.4L312.6 452.5L311.9 447.6 M318.5 424.3L312.6 438.9M316.5 435.8L312.6 438.9L311.9 434.0 M318.5 410.6L312.5 425.2M316.4 422.2L312.5 425.2L311.8 420.3 M318.5 397.0L312.1 411.5M316.2 408.5L312.1 411.5L311.6 406.5 M318.5 383.4L311.7 397.6M315.8 394.8L311.7 397.6L311.3 392.6 M318.6 369.7L311.2 383.7M315.5 381.0L311.2 383.7L311.0 378.7 M318.6 356.0L310.8 369.7M315.1 367.2L310.8 369.7L310.8 364.7 M318.6 342.2L310.3 355.7M314.7 353.3L310.3 355.7L310.5 350.7 M318.7 328.5L309.8 341.6M314.3 339.4L309.8 341.6L310.2 336.6 M318.7 314.7L309.3 327.4M313.9 325.4L309.3 327.4L309.9 322.4 M318.7 300.8L308.7 313.0M313.4 311.3L308.7 313.0L309.5 308.1 M318.8 286.9L308.1 298.6M312.9 297.1L308.1 298.6L309.2 293.7 M318.8 273.0L307.5 284.0M312.4 282.8L307.5 284.0L308.9 279.2 M318.9 259.0L307.0 269.4M311.9 268.4L307.0 269.4L308.6 264.6 M318.9 244.9L306.3 254.5M311.3 253.9L306.3 254.5L308.3 249.9 M318.9 230.8L305.6 239.2M310.6 239.0L305.6 239.2L307.9 234.8 M319.0 216.6L305.1 224.1M310.1 224.2L305.1 224.1L307.7 219.8 M319.0 202.3L304.8 209.2M309.8 209.6L304.8 209.2L307.6 205.1 M319.0 187.9L304.5 194.2M309.5 194.8L304.5 194.2L307.5 190.2 M319.0 173.4L304.5 179.6M309.4 180.2L304.5 179.6L307.5 175.6 M332.1 424.3L326.0 438.8M330.0 435.8L326.0 438.8L325.4 433.9 M332.1 410.6L326.2 425.3M330.1 422.2L326.2 425.3L325.5 420.3 M332.1 397.0L325.9 411.5M329.9 408.5L325.9 411.5L325.3 406.6 M332.1 383.3L325.6 397.7M329.7 394.8L325.6 397.7L325.1 392.8 M332.1 369.7L325.2 383.9M329.4 381.1L325.2 383.9L324.9 378.9 M332.2 356.0L324.8 369.9M329.0 367.3L324.8 369.9L324.6 364.9 M332.2 342.2L324.3 355.9M328.6 353.4L324.3 355.9L324.3 350.9 M332.2 328.5L323.7 341.8M328.1 339.5L323.7 341.8L323.9 336.8 M332.3 314.7L323.1 327.5M327.6 325.4L323.1 327.5L323.6 322.5 M332.3 300.8L322.6 313.3M327.2 311.4L322.6 313.3L323.3 308.3 M332.3 286.9L322.1 299.0M326.8 297.3L322.1 299.0L323.0 294.0 M332.4 273.0L321.5 284.4M326.3 283.0L321.5 284.4L322.7 279.5 M332.4 259.0L320.7 269.5M325.6 268.5L320.7 269.5L322.2 264.8 M332.5 244.9L319.9 254.4M324.8 253.8L319.9 254.4L321.8 249.8 M332.6 230.8L319.1 239.1M324.1 239.0L319.1 239.1L321.5 234.7 M332.6 216.6L318.9 224.4M323.9 224.4L318.9 224.4L321.4 220.1 M332.6 202.2L318.9 210.1M323.9 210.1L318.9 210.1L321.4 205.8 M332.6 187.9L318.4 194.8M323.4 195.1L318.4 194.8L321.2 190.7 M332.6 173.4L318.3 180.0M323.3 180.5L318.3 180.0L321.2 175.9 M345.7 410.6L339.2 425.1M343.3 422.1L339.2 425.1L338.7 420.1 M345.7 397.0L339.3 411.5M343.4 408.5L339.3 411.5L338.8 406.5 M345.7 383.3L339.3 397.8M343.4 394.8L339.3 397.8L338.8 392.8 M345.7 369.7L339.0 384.0M343.1 381.1L339.0 384.0L338.6 379.0 M345.7 356.0L338.7 370.1M342.8 367.3L338.7 370.1L338.4 365.1 M345.8 342.2L338.2 356.1M342.5 353.5L338.2 356.1L338.1 351.1 M345.8 328.5L337.6 342.0M342.0 339.6L337.6 342.0L337.7 337.0 M345.9 314.7L336.8 327.6M341.3 325.5L336.8 327.6L337.2 322.6 M345.9 300.8L336.7 313.6M341.2 311.6L336.7 313.6L337.2 308.7 M345.9 286.9L336.3 299.4M340.9 297.5L336.3 299.4L336.9 294.5 M346.0 272.9L335.6 284.9M340.3 283.2L335.6 284.9L336.6 280.0 M346.0 258.9L334.7 269.9M339.5 268.7L334.7 269.9L336.0 265.1 M346.1 244.9L333.6 254.6M338.5 253.9L333.6 254.6L335.5 249.9 M346.2 230.8L332.5 238.7M337.5 238.7L332.5 238.7L335.0 234.4 M346.2 216.6L332.6 224.6M337.6 224.5L332.6 224.6L335.0 220.2 M346.2 202.2L332.5 210.2M337.5 210.2L332.5 210.2L335.0 205.9 M346.2 187.8L332.3 195.4M337.3 195.5L332.3 195.4L334.9 191.1 M346.2 173.3L332.2 180.7M337.2 180.9L332.2 180.7L334.9 176.4 M346.2 158.7L332.5 166.6M337.5 166.6L332.5 166.6L335.0 162.3 M359.3 397.0L352.4 411.2M356.5 408.4L352.4 411.2L352.0 406.2 M359.3 383.3L352.9 397.8M356.9 394.8L352.9 397.8L352.4 392.8 M359.3 369.7L352.5 383.9M356.7 381.1L352.5 383.9L352.1 378.9 M359.3 356.0L352.3 370.1M356.5 367.3L352.3 370.1L352.0 365.1 M359.4 342.2L352.1 356.3M356.3 353.6L352.1 356.3L351.9 351.3 M359.4 328.4L351.8 342.3M356.1 339.7L351.8 342.3L351.7 337.3 M359.4 314.6L351.4 328.2M355.7 325.8L351.4 328.2L351.4 323.2 M359.4 300.7L351.1 314.2M355.5 311.8L351.1 314.2L351.3 309.2 M359.4 286.8L350.8 300.0M355.2 297.8L350.8 300.0L351.1 295.0 M359.5 272.9L350.1 285.6M354.7 283.6L350.1 285.6L350.7 280.6 M359.6 258.9L349.0 270.6M353.8 269.1L349.0 270.6L350.0 265.7 M359.6 244.9L347.8 255.4M352.7 254.3L347.8 255.4L349.4 250.6 M359.7 230.8L346.9 239.9M351.8 239.5L346.9 239.9L348.9 235.4 M359.7 216.5L346.5 225.2M351.5 224.9L346.5 225.2L348.8 220.7 M359.7 202.2L346.5 210.7M351.5 210.5L346.5 210.7L348.7 206.3 M359.7 187.8L346.3 196.1M351.3 196.0L346.3 196.1L348.7 191.7 M359.8 173.3L346.1 181.2M351.1 181.2L346.1 181.2L348.6 176.9 M359.7 158.6L346.8 167.7M351.8 167.2L346.8 167.7L348.9 163.2 M373.0 383.4L365.3 397.2M369.6 394.6L365.3 397.2L365.2 392.2 M373.0 369.7L365.5 383.6M369.8 381.0L365.5 383.6L365.4 378.6 M373.0 356.0L365.8 370.0M370.0 367.3L365.8 370.0L365.5 365.0 M372.9 342.2L366.0 356.4M370.2 353.6L366.0 356.4L365.7 351.4 M372.9 328.4L366.0 342.6M370.2 339.8L366.0 342.6L365.7 337.6 M372.9 314.6L365.9 328.7M370.1 326.0L365.9 328.7L365.6 323.7 M373.0 300.7L365.7 314.7M369.9 312.0L365.7 314.7L365.5 309.7 M373.0 286.8L365.5 300.7M369.7 298.1L365.5 300.7L365.3 295.7 M373.0 272.8L365.1 286.5M369.4 284.0L365.1 286.5L365.1 281.5 M373.1 258.8L364.2 271.9M368.7 269.7L364.2 271.9L364.5 266.9 M373.2 244.8L362.5 256.4M367.3 254.9L362.5 256.4L363.6 251.5 M373.3 230.7L361.2 240.8M366.1 240.0L361.2 240.8L362.9 236.1 M373.3 216.5L360.7 226.0M365.7 225.4L360.7 226.0L362.7 221.4 M373.3 202.1L360.7 211.7M365.6 211.0L360.7 211.7L362.6 207.0 M373.3 187.7L360.8 197.3M365.7 196.7L360.8 197.3L362.7 192.7 M373.3 173.2L361.1 183.2M366.0 182.4L361.1 183.2L362.8 178.6 M373.2 158.5L361.6 169.2M366.5 168.1L361.6 169.2L363.1 164.4 M386.7 383.4L377.5 396.3M382.0 394.2L377.5 396.3L378.0 391.3 M386.6 369.7L378.1 383.0M382.5 380.7L378.1 383.0L378.3 378.0 M386.6 356.0L378.9 369.8M383.2 367.2L378.9 369.8L378.8 364.8 M386.5 342.2L379.8 356.5M383.9 353.6L379.8 356.5L379.4 351.5 M386.5 328.4L380.2 342.9M384.2 339.9L380.2 342.9L379.6 337.9 M386.5 314.6L380.3 329.1M384.3 326.1L380.3 329.1L379.7 324.1 M386.5 300.7L380.1 315.1M384.1 312.2L380.1 315.1L379.6 310.1 M386.5 286.8L380.2 301.2M384.2 298.3L380.2 301.2L379.6 296.3 M386.5 272.8L380.1 287.2M384.1 284.3L380.1 287.2L379.6 282.2 M386.5 258.7L379.8 273.0M383.9 270.2L379.8 273.0L379.4 268.1 M386.7 244.7L377.2 257.3M381.8 255.4L377.2 257.3L377.8 252.4 M386.8 230.7L375.1 241.2M380.0 240.2L375.1 241.2L376.6 236.5 M386.8 216.4L375.0 226.9M379.9 225.9L375.0 226.9L376.6 222.1 M386.8 202.1L375.1 212.6M380.0 211.6L375.1 212.6L376.6 207.9 M386.8 187.6L375.4 198.5M380.2 197.3L375.4 198.5L376.8 193.7 M386.8 173.1L375.9 184.5M380.7 183.1L375.9 184.5L377.1 179.7 M386.8 158.4L376.5 170.4M381.2 168.8L376.5 170.4L377.4 165.5 M400.3 369.8L390.3 382.0M395.0 380.2L390.3 382.0L391.1 377.1 M400.2 356.0L391.6 369.2M396.1 367.0L391.6 369.2L391.9 364.3 M400.1 342.2L393.4 356.5M397.5 353.6L393.4 356.5L393.0 351.5 M400.1 328.4L393.9 342.9M397.9 339.9L393.9 342.9L393.3 337.9 M400.1 314.5L394.5 329.3M398.3 326.2L394.5 329.3L393.7 324.4 M400.0 300.7L394.6 315.5M398.5 312.3L394.6 315.5L393.8 310.6 M400.0 286.7L394.7 301.6M398.5 298.4L394.7 301.6L393.8 296.7 M400.1 272.7L394.4 287.5M398.3 284.4L394.4 287.5L393.6 282.6 M400.1 258.7L393.3 273.0M397.5 270.2L393.3 273.0L392.9 268.0 M400.2 244.7L391.6 257.9M396.0 255.6L391.6 257.9L391.9 252.9 M400.3 230.6L390.1 242.6M394.8 240.9L390.1 242.6L391.0 237.7 M400.4 216.3L389.6 227.9M394.4 226.4L389.6 227.9L390.7 223.0 M400.4 202.0L389.6 213.5M394.4 212.1L389.6 213.5L390.7 208.7 M400.4 187.6L389.9 199.4M394.6 197.8L389.9 199.4L390.9 194.5 M400.3 173.0L390.5 185.4M395.1 183.5L390.5 185.4L391.2 180.4 M400.3 158.3L391.4 171.4M395.9 169.3L391.4 171.4L391.8 166.5 M400.3 143.6L391.0 156.4M395.5 154.4L391.0 156.4L391.5 151.4 M414.0 465.3L403.3 476.9M408.0 475.4L403.3 476.9L404.4 472.0 M414.1 438.1L402.1 448.5M407.0 447.5L402.1 448.5L403.7 443.8 M414.1 424.5L402.0 434.7M406.9 433.8L402.0 434.7L403.7 430.0 M414.1 410.9L401.8 420.9M406.7 420.1L401.8 420.9L403.6 416.2 M414.1 383.6L401.9 393.7M406.9 392.9L401.9 393.7L403.7 389.0 M414.0 369.9L402.5 380.7M407.4 379.6L402.5 380.7L404.0 375.9 M413.9 356.1L403.7 368.1M408.4 366.5L403.7 368.1L404.6 363.2 M413.9 342.3L404.9 355.3M409.4 353.1L404.9 355.3L405.3 350.3 M413.8 328.4L406.3 342.3M410.5 339.7L406.3 342.3L406.1 337.3 M413.6 314.5L408.2 329.4M412.1 326.2L408.2 329.4L407.4 324.5 M413.7 300.7L408.1 315.5M412.0 312.3L408.1 315.5L407.3 310.5 M413.6 286.7L408.9 301.8M412.6 298.4L408.9 301.8L407.8 296.9 M413.6 272.7L408.2 287.6M412.1 284.4L408.2 287.6L407.4 282.7 M413.7 258.7L406.7 272.9M410.9 270.1L406.7 272.9L406.4 267.9 M413.8 244.7L405.4 258.1M409.9 255.7L405.4 258.1L405.6 253.1 M413.9 230.5L404.5 243.3M409.1 241.3L404.5 243.3L405.1 238.3 M413.9 216.3L403.9 228.5M408.6 226.8L403.9 228.5L404.7 223.6 M413.9 202.0L403.8 214.1M408.5 212.4L403.8 214.1L404.7 209.2 M413.9 187.5L404.0 199.8M408.6 198.0L404.0 199.8L404.8 194.9 M413.9 173.0L404.4 185.6M409.0 183.7L404.4 185.6L405.0 180.7 M413.9 158.4L404.9 171.4M409.4 169.2L404.9 171.4L405.3 166.4 M413.9 143.6L405.0 156.7M409.5 154.5L405.0 156.7L405.3 151.7 M413.9 128.8L404.8 141.7M409.3 139.6L404.8 141.7L405.2 136.8 M427.6 465.3L416.4 476.4M421.2 475.1L416.4 476.4L417.7 471.6 M427.7 451.8L415.5 461.9M420.5 461.0L415.5 461.9L417.3 457.2 M427.7 438.2L414.8 447.3M419.8 446.8L414.8 447.3L416.9 442.8 M427.7 424.6L414.6 433.4M419.6 433.1L414.6 433.4L416.8 428.9 M427.7 411.0L414.5 419.6M419.5 419.3L414.5 419.6L416.7 415.1 M427.7 397.4L414.6 406.2M419.6 405.9L414.6 406.2L416.8 401.7 M427.7 383.7L415.0 393.1M420.0 392.5L415.0 393.1L417.0 388.5 M427.7 369.9L415.6 380.1M420.5 379.2L415.6 380.1L417.3 375.4 M427.6 356.2L416.2 367.1M421.1 365.9L416.2 367.1L417.6 362.3 M427.6 342.4L416.4 353.6M421.3 352.3L416.4 353.6L417.7 348.7 M427.5 328.5L417.7 340.9M422.3 339.0L417.7 340.9L418.4 335.9 M427.4 314.6L418.9 327.9M423.3 325.6L418.9 327.9L419.1 322.9 M427.4 300.7L419.3 314.3M423.7 311.9L419.3 314.3L419.4 309.3 M427.1 286.7L423.6 302.1M427.0 298.4L423.6 302.1L422.1 297.3 M427.3 272.8L421.3 287.4M425.3 284.3L421.3 287.4L420.6 282.4 M427.4 258.8L419.3 272.3M423.7 269.9L419.3 272.3L419.4 267.3 M427.5 244.7L418.6 257.8M423.1 255.6L418.6 257.8L419.0 252.8 M427.5 230.5L418.4 243.5M422.9 241.3L418.4 243.5L418.8 238.5 M427.5 216.3L417.5 228.5M422.1 226.7L417.5 228.5L418.3 223.5 M427.6 202.0L417.3 214.0M422.0 212.3L417.3 214.0L418.2 209.1 M427.5 187.5L417.6 199.8M422.3 198.0L417.6 199.8L418.4 194.9 M427.5 173.0L418.2 185.7M422.7 183.7L418.2 185.7L418.7 180.8 M427.5 158.4L418.4 171.3M422.9 169.2L418.4 171.3L418.8 166.3 M427.4 143.6L419.0 156.9M423.4 154.6L419.0 156.9L419.2 152.0 M427.4 128.8L419.1 142.2M423.5 139.8L419.1 142.2L419.2 137.2 M427.4 113.8L419.0 127.2M423.5 124.9L419.0 127.2L419.2 122.2 M441.2 465.3L429.7 476.1M434.6 475.0L429.7 476.1L431.2 471.3 M441.3 451.8L428.9 461.6M433.8 460.9L428.9 461.6L430.7 456.9 M441.3 438.2L428.2 447.0M433.2 446.7L428.2 447.0L430.4 442.5 M441.4 424.7L427.7 432.6M432.7 432.6L427.7 432.6L430.2 428.3 M441.4 411.1L427.3 418.3M432.3 418.5L427.3 418.3L430.0 414.1 M441.4 397.4L427.8 405.4M432.8 405.4L427.8 405.4L430.2 401.1 M441.3 383.7L428.4 392.7M433.4 392.3L428.4 392.7L430.5 388.2 M441.3 369.9L428.8 379.7M433.8 379.0L428.8 379.7L430.7 375.0 M441.2 356.2L429.6 366.9M434.5 365.8L429.6 366.9L431.1 362.1 M441.2 342.4L429.8 353.3M434.6 352.1L429.8 353.3L431.2 348.5 M441.2 328.6L429.5 339.2M434.4 338.2L429.5 339.2L431.0 334.5 M441.2 314.7L430.6 326.5M435.3 324.9L430.6 326.5L431.6 321.6 M441.1 300.8L431.9 313.6M436.4 311.6L431.9 313.6L432.4 308.6 M441.0 286.8L433.3 300.6M437.6 298.0L433.3 300.6L433.3 295.6 M441.0 272.8L432.9 286.4M437.3 284.0L432.9 286.4L433.0 281.4 M441.1 258.8L431.7 271.6M436.3 269.6L431.7 271.6L432.3 266.6 M441.2 230.6L430.4 242.2M435.2 240.7L430.4 242.2L431.5 237.3 M441.2 216.4L430.0 227.5M434.8 226.2L430.0 227.5L431.3 222.7 M441.2 202.0L430.1 213.3M434.9 211.9L430.1 213.3L431.4 208.4 M441.1 187.5L430.9 199.6M435.6 197.9L430.9 199.6L431.8 194.6 M441.1 173.0L432.0 185.9M436.5 183.8L432.0 185.9L432.4 180.9 M441.0 158.3L432.8 171.8M437.2 169.4L432.8 171.8L432.9 166.8 M441.0 143.6L433.3 157.4M437.6 154.8L433.3 157.4L433.2 152.4 M441.0 128.7L433.4 142.6M437.7 140.0L433.4 142.6L433.3 137.6 M441.0 113.8L433.3 127.6M437.6 125.0L433.3 127.6L433.2 122.6 M441.0 98.7L433.0 112.4M437.4 109.9L433.0 112.4L433.1 107.4 M454.8 465.3L443.3 476.1M448.2 475.0L443.3 476.1L444.7 471.3 M454.9 438.2L441.8 447.0M446.8 446.7L441.8 447.0L444.0 442.5 M455.0 424.7L441.2 432.5M446.2 432.5L441.2 432.5L443.8 428.2 M455.0 411.1L440.9 418.3M445.9 418.5L440.9 418.3L443.6 414.1 M455.0 397.4L441.1 405.0M446.1 405.1L441.1 405.0L443.7 400.7 M454.9 383.7L441.6 392.2M446.6 392.0L441.6 392.2L443.9 387.8 M454.9 370.0L442.4 379.6M447.4 379.0L442.4 379.6L444.3 375.0 M454.7 356.1L444.6 368.2M449.3 366.5L444.6 368.2L445.5 363.3 M454.8 342.4L443.6 353.6M448.5 352.3L443.6 353.6L444.9 348.7 M454.8 328.6L443.1 339.2M447.9 338.1L443.1 339.2L444.6 334.4 M454.8 314.8L443.1 325.4M448.0 324.3L443.1 325.4L444.6 320.6 M454.8 300.9L443.9 312.3M448.7 310.9L443.9 312.3L445.1 307.5 M454.9 202.1L442.3 211.7M447.3 211.1L442.3 211.7L444.3 207.1 M454.8 187.6L443.7 198.8M448.5 197.5L443.7 198.8L445.0 194.0 M454.6 173.0L446.0 186.2M450.4 183.9L446.0 186.2L446.3 181.2 M454.6 158.3L447.2 172.3M451.4 169.6L447.2 172.3L447.0 167.3 M454.5 113.8L447.6 128.0M451.7 125.2L447.6 128.0L447.2 123.0 M454.6 98.7L447.1 112.7M451.4 110.0L447.1 112.7L446.9 107.7 M454.6 83.5L446.8 97.3M451.1 94.8L446.8 97.3L446.8 92.3 M454.6 68.2L446.7 81.9M451.1 79.4L446.7 81.9L446.7 76.9 M468.4 465.3L457.1 476.3M461.9 475.1L457.1 476.3L458.4 471.5 M468.5 438.2L455.5 447.1M460.5 446.8L455.5 447.1L457.6 442.6 M468.6 424.7L454.9 432.6M459.9 432.6L454.9 432.6L457.4 428.3 M468.6 411.1L454.4 418.1M459.4 418.4L454.4 418.1L457.2 414.0 M468.6 397.5L454.4 404.5M459.4 404.8L454.4 404.5L457.2 400.3 M468.6 383.8L454.9 391.6M459.9 391.6L454.9 391.6L457.4 387.3 M468.1 369.7L461.4 384.0M465.5 381.1L461.4 384.0L461.0 379.0 M468.0 355.9L463.9 371.1M467.4 367.6L463.9 371.1L462.6 366.3 M468.5 342.5L456.4 352.7M461.3 351.8L456.4 352.7L458.1 348.0 M468.5 328.7L456.2 338.7M461.2 337.9L456.2 338.7L458.0 334.0 M468.5 314.8L456.2 324.8M461.1 324.0L456.2 324.8L458.0 320.1 M468.5 301.0L456.4 311.1M461.3 310.3L456.4 311.1L458.1 306.4 M468.5 287.0L456.5 297.3M461.4 296.4L456.5 297.3L458.1 292.6 M468.5 273.1L456.2 283.0M461.1 282.2L456.2 283.0L458.0 278.3 M468.5 259.1L455.6 268.1M460.6 267.7L455.6 268.1L457.7 263.6 M468.6 245.0L454.9 253.0M459.9 253.0L454.9 253.0L457.4 248.6 M468.6 202.3L454.4 209.2M459.4 209.6L454.4 209.2L457.2 205.1 M468.5 187.7L455.8 197.1M460.8 196.6L455.8 197.1L457.8 192.5 M468.3 173.0L459.1 185.8M463.6 183.8L459.1 185.8L459.6 180.8 M468.1 158.3L461.4 172.6M465.5 169.7L461.4 172.6L461.0 167.6 M468.0 143.5L462.6 158.4M466.5 155.1L462.6 158.4L461.8 153.4 M468.0 128.7L462.7 143.5M466.5 140.3L462.7 143.5L461.8 138.6 M468.1 113.8L462.0 128.3M466.0 125.3L462.0 128.3L461.4 123.4 M468.1 98.7L461.2 112.9M465.4 110.1L461.2 112.9L460.9 107.9 M468.2 83.5L460.8 97.5M465.0 94.8L460.8 97.5L460.6 92.5 M468.2 68.2L460.6 82.1M464.9 79.5L460.6 82.1L460.5 77.1 M468.2 52.7L460.8 66.7M465.0 64.0L460.8 66.7L460.6 61.7 M468.2 37.1L460.6 51.0M464.9 48.4L460.6 51.0L460.5 46.0 M482.0 465.3L471.0 476.7M475.8 475.3L471.0 476.7L472.2 471.8 M482.1 451.7L470.1 462.1M475.0 461.2L470.1 462.1L471.8 457.4 M482.1 438.2L469.3 447.5M474.3 447.0L469.3 447.5L471.4 442.9 M482.2 424.7L468.6 432.8M473.6 432.7L468.6 432.8L471.0 428.4 M482.2 411.1L467.9 417.9M472.9 418.3L467.9 417.9L470.8 413.8 M482.2 397.5L467.8 404.0M472.8 404.5L467.8 404.0L470.7 399.9 M482.1 384.9L469.8 374.9M471.6 379.6L469.8 374.9L474.7 375.7 M481.7 371.5L475.0 357.2M474.6 362.1L475.0 357.2L479.1 360.0 M482.1 342.5L469.2 351.7M474.2 351.2L469.2 351.7L471.3 347.1 M482.1 314.9L469.2 324.0M474.2 323.6L469.2 324.0L471.3 319.5 M482.1 301.0L469.2 310.1M474.2 309.7L469.2 310.1L471.3 305.6 M482.1 287.1L469.0 295.9M474.0 295.6L469.0 295.9L471.2 291.5 M482.2 259.2L468.1 266.3M473.1 266.6L468.1 266.3L470.8 262.1 M482.2 245.2L467.5 250.9M472.5 251.7L467.5 250.9L470.6 247.0 M482.3 231.0L467.2 235.8M472.1 236.9L467.2 235.8L470.6 232.1 M482.3 216.8L466.9 220.7M471.7 222.0L466.9 220.7L470.5 217.2 M482.3 202.4L467.2 207.3M472.1 208.4L467.2 207.3L470.6 203.6 M482.2 187.9L467.9 194.6M472.9 195.0L467.9 194.6L470.8 190.5 M481.9 173.0L472.0 185.3M476.7 183.5L472.0 185.3L472.8 180.4 M481.7 158.3L475.6 172.8M479.6 169.8L475.6 172.8L474.9 167.9 M481.6 143.5L477.2 158.7M480.8 155.2L477.2 158.7L476.0 153.8 M481.5 128.7L477.6 144.0M481.1 140.4L477.6 144.0L476.3 139.2 M481.6 113.7L476.9 128.8M480.6 125.4L476.9 128.8L475.8 123.9 M481.7 98.7L475.8 113.3M479.7 110.3L475.8 113.3L475.1 108.4 M481.7 83.5L474.8 97.7M478.9 94.9L474.8 97.7L474.4 92.7 M481.8 68.2L474.4 82.2M478.6 79.5L474.4 82.2L474.2 77.2 M481.8 52.7L474.3 66.7M478.6 64.0L474.3 66.7L474.2 61.7 M481.8 37.1L474.4 51.1M478.7 48.4L474.4 51.1L474.2 46.1 M495.6 465.2L485.2 477.2M490.0 475.6L485.2 477.2L486.2 472.3 M495.6 451.7L484.3 462.7M489.1 461.5L484.3 462.7L485.6 457.9 M495.7 438.2L483.4 448.1M488.3 447.3L483.4 448.1L485.2 443.4 M495.7 424.6L482.6 433.5M487.6 433.1L482.6 433.5L484.8 429.0 M495.8 411.1L481.9 418.6M486.9 418.7L481.9 418.6L484.5 414.3 M495.8 397.5L481.5 404.3M486.5 404.7L481.5 404.3L484.4 400.2 M495.7 384.8L482.9 375.6M485.0 380.1L482.9 375.6L487.9 376.1 M495.8 370.1L481.9 377.6M486.9 377.7L481.9 377.6L484.5 373.3 M495.8 342.6L482.3 350.8M487.3 350.7L482.3 350.8L484.7 346.4 M495.8 315.0L482.3 323.3M487.3 323.1L482.3 323.3L484.7 318.9 M495.8 301.1L482.2 309.2M487.2 309.1L482.2 309.2L484.6 304.9 M495.8 287.2L482.0 294.9M487.0 295.0L482.0 294.9L484.6 290.6 M495.8 273.2L481.6 280.2M486.6 280.6L481.6 280.2L484.4 276.1 M495.8 259.3L481.1 265.0M486.1 265.8L481.1 265.0L484.2 261.1 M495.9 245.3L480.6 249.4M485.4 250.6L480.6 249.4L484.1 245.8 M495.9 231.1L480.5 234.8M485.3 236.2L480.5 234.8L484.1 231.4 M495.9 216.8L480.5 220.7M485.3 222.0L480.5 220.7L484.1 217.2 M495.8 202.4L481.2 208.3M486.2 209.0L481.2 208.3L484.3 204.4 M495.6 187.6L484.4 198.8M489.3 197.5L484.4 198.8L485.7 193.9 M495.5 173.0L486.1 185.7M490.7 183.7L486.1 185.7L486.7 180.7 M495.2 158.2L490.3 173.2M494.0 169.9L490.3 173.2L489.3 168.4 M495.1 143.5L492.2 159.0M495.5 155.2L492.2 159.0L490.5 154.3 M495.0 128.6L492.7 144.3M495.9 140.3L492.7 144.3L490.9 139.6 M495.1 113.7L492.1 129.2M495.4 125.4L492.1 129.2L490.5 124.5 M495.2 98.7L490.6 113.8M494.2 110.4L490.6 113.8L489.4 108.9 M495.3 83.5L488.6 97.8M492.7 95.0L488.6 97.8L488.2 92.8 M495.3 68.2L488.4 82.4M492.6 79.6L488.4 82.4L488.1 77.4 M495.4 52.7L488.0 66.7M492.2 64.0L488.0 66.7L487.8 61.7 M495.3 37.1L488.4 51.3M492.5 48.5L488.4 51.3L488.1 46.3 M509.1 465.2L499.7 477.9M504.3 475.9L499.7 477.9L500.2 472.9 M509.1 451.6L499.0 463.7M503.7 462.0L499.0 463.7L499.9 458.8 M509.2 438.1L497.9 449.1M502.8 447.9L497.9 449.1L499.3 444.3 M509.3 424.6L496.9 434.4M501.8 433.6L496.9 434.4L498.7 429.7 M509.4 411.0L495.8 419.2M500.8 419.1L495.8 419.2L498.2 414.8 M509.4 397.5L495.3 404.5M500.2 404.8L495.3 404.5L498.0 400.3 M509.4 383.8L495.2 390.6M500.1 391.0L495.2 390.6L498.0 386.5 M509.4 342.6L495.5 350.2M500.5 350.3L495.5 350.2L498.1 345.9 M509.4 328.8L495.6 336.5M500.6 336.6L495.6 336.5L498.1 332.2 M509.4 315.0L495.5 322.6M500.5 322.7L495.5 322.6L498.1 318.3 M509.4 287.2L495.3 294.3M500.2 294.6L495.3 294.3L498.0 290.1 M509.4 273.3L495.0 279.7M500.0 280.2L495.0 279.7L497.9 275.7 M509.4 259.3L494.5 264.5M499.4 265.4L494.5 264.5L497.8 260.7 M509.5 245.3L494.2 249.3M499.0 250.6L494.2 249.3L497.7 245.8 M509.5 231.1L494.1 234.6M498.8 236.1L494.1 234.6L497.7 231.2 M509.5 216.8L494.1 220.7M498.9 222.0L494.1 220.7L497.7 217.2 M509.4 202.4L494.6 207.9M499.5 208.7L494.6 207.9L497.8 204.0 M509.3 187.8L495.9 196.1M500.9 196.0L495.9 196.1L498.3 191.7 M509.2 173.1L498.0 184.3M502.9 183.0L498.0 184.3L499.3 179.4 M508.9 158.3L502.8 172.8M506.7 169.8L502.8 172.8L502.1 167.9 M508.6 143.5L506.4 159.1M509.5 155.2L506.4 159.1L504.6 154.5 M508.6 128.6L507.3 144.4M510.2 140.3L507.3 144.4L505.2 139.9 M508.6 113.7L507.2 129.4M510.1 125.3L507.2 129.4L505.1 124.9 M508.7 98.6L505.5 114.1M508.8 110.4L505.5 114.1L504.0 109.4 M508.8 83.5L503.8 98.4M507.5 95.1L503.8 98.4L502.8 93.5 M508.9 68.2L503.1 82.9M507.0 79.7L503.1 82.9L502.3 77.9 M508.9 52.7L502.9 67.3M506.8 64.2L502.9 67.3L502.2 62.3 M508.9 37.1L502.7 51.6M506.7 48.6L502.7 51.6L502.1 46.7 M522.6 465.2L514.1 478.5M518.6 476.2L514.1 478.5L514.4 473.5 M522.7 451.6L513.5 464.4M518.0 462.4L513.5 464.4L514.0 459.5 M522.8 438.0L512.4 450.0M517.1 448.3L512.4 450.0L513.4 445.1 M522.8 424.5L511.5 435.5M516.3 434.3L511.5 435.5L512.8 430.7 M522.9 411.0L509.7 419.6M514.7 419.3L509.7 419.6L512.0 415.1 M523.0 397.5L508.9 404.5M513.9 404.8L508.9 404.5L511.6 400.4 M523.0 383.8L508.7 390.5M513.7 391.0L508.7 390.5L511.6 386.4 M523.0 370.1L508.7 376.8M513.7 377.3L508.7 376.8L511.6 372.7 M523.0 328.9L508.9 336.0M513.9 336.3L508.9 336.0L511.6 331.8 M523.0 315.0L508.9 322.1M513.9 322.4L508.9 322.1L511.6 318.0 M523.0 301.2L508.8 308.1M513.8 308.4L508.8 308.1L511.6 304.0 M523.0 287.3L508.6 293.8M513.6 294.3L508.6 293.8L511.5 289.7 M523.0 273.3L508.4 279.2M513.3 279.9L508.4 279.2L511.5 275.3 M523.0 259.3L508.0 264.3M512.9 265.3L508.0 264.3L511.4 260.5 M523.1 245.3L507.8 249.3M512.6 250.6L507.8 249.3L511.3 245.8 M523.1 231.1L507.6 234.5M512.4 236.0L507.6 234.5L511.3 231.1 M523.1 216.9L507.6 220.2M512.4 221.7L507.6 220.2L511.3 216.8 M523.1 202.5L507.7 206.2M512.5 207.6L507.7 206.2L511.3 202.8 M523.1 188.0L507.9 192.4M512.7 193.6L507.9 192.4L511.3 188.8 M523.0 173.3L509.3 181.2M514.3 181.2L509.3 181.2L511.8 176.9 M522.6 158.3L514.7 172.0M519.0 169.5L514.7 172.0L514.7 167.0 M522.6 143.6L514.9 157.4M519.2 154.8L514.9 157.4L514.8 152.4 M522.2 128.6L520.8 144.4M523.7 140.3L520.8 144.4L518.7 139.8 M522.1 113.7L521.5 129.5M524.1 125.2L521.5 129.5L519.1 125.0 M522.2 98.6L520.1 114.3M523.2 110.3L520.1 114.3L518.2 109.6 M522.4 83.4L518.3 98.7M521.8 95.2L518.3 98.7L517.0 93.9 M522.4 68.1L517.7 83.2M521.4 79.8L517.7 83.2L516.6 78.3 M522.4 52.7L517.8 67.8M521.4 64.3L517.8 67.8L516.6 62.9 M522.4 37.0L517.1 51.9M520.9 48.7L517.1 51.9L516.2 47.0 M536.2 465.1L528.4 478.9M532.7 476.3L528.4 478.9L528.3 473.9 M536.2 451.5L528.1 465.1M532.5 462.7L528.1 465.1L528.2 460.1 M536.3 438.0L526.4 450.3M531.1 448.5L526.4 450.3L527.2 445.4 M536.4 424.5L525.0 435.4M529.9 434.2L525.0 435.4L526.4 430.6 M536.5 411.0L523.5 420.0M528.5 419.6L523.5 420.0L525.7 415.4 M536.6 397.4L522.6 404.8M527.6 405.0L522.6 404.8L525.3 400.6 M536.6 383.8L522.3 390.5M527.3 390.9L522.3 390.5L525.2 386.4 M536.6 370.2L522.2 376.7M527.2 377.2L522.2 376.7L525.1 372.6 M536.6 356.4L522.2 363.0M527.2 363.5L522.2 363.0L525.1 358.9 M536.6 342.7L522.3 349.4M527.3 349.8L522.3 349.4L525.2 345.3 M536.6 328.9L522.3 335.7M527.3 336.1L522.3 335.7L525.2 331.5 M536.6 315.0L522.3 321.8M527.3 322.2L522.3 321.8L525.2 317.7 M536.6 301.2L522.3 307.9M527.3 308.3L522.3 307.9L525.2 303.8 M536.6 287.3L522.1 293.6M527.1 294.1L522.1 293.6L525.1 289.5 M536.6 273.3L521.9 279.0M526.8 279.8L521.9 279.0L525.0 275.1 M536.7 259.3L521.6 264.2M526.5 265.3L521.6 264.2L525.0 260.5 M536.7 245.3L521.4 249.3M526.2 250.6L521.4 249.3L524.9 245.8 M536.7 231.1L521.2 234.5M526.0 236.0L521.2 234.5L524.9 231.1 M536.7 216.9L521.1 219.7M525.9 221.4L521.1 219.7L525.0 216.5 M536.7 202.6L521.1 205.0M525.7 206.8L521.1 205.0L525.0 201.9 M536.7 188.2L521.0 190.2M525.6 192.1L521.0 190.2L525.0 187.1 M536.7 173.7L520.9 174.8M525.4 177.0L520.9 174.8L525.1 172.0 M536.7 159.1L520.9 160.2M525.4 162.4L520.9 160.2L525.1 157.4 M536.7 144.3L521.0 146.5M525.7 148.4L521.0 146.5L525.0 143.4 M535.9 128.6L533.1 144.2M536.3 140.4L533.1 144.2L531.4 139.5 M535.8 113.7L534.4 129.4M537.3 125.3L534.4 129.4L532.3 124.9 M535.8 98.6L533.8 114.3M536.9 110.3L533.8 114.3L531.9 109.7 M535.9 83.4L532.5 98.9M535.9 95.2L532.5 98.9L531.0 94.1 M536.0 68.1L531.8 83.4M535.4 79.8L531.8 83.4L530.5 78.5 M536.0 52.6L531.5 67.8M535.1 64.4L531.5 67.8L530.3 62.9 M536.0 37.0L531.1 52.0M534.8 48.7L531.1 52.0L530.0 47.1 M549.8 465.1L542.2 479.0M546.5 476.4L542.2 479.0L542.1 474.0 M549.9 438.0L540.3 450.5M544.9 448.6L540.3 450.5L540.9 445.6 M550.0 424.5L538.8 435.6M543.6 434.3L538.8 435.6L540.1 430.8 M550.1 411.0L537.2 420.0M542.1 419.6L537.2 420.0L539.3 415.5 M550.2 397.5L536.2 404.8M541.2 405.0L536.2 404.8L538.9 400.6 M550.2 383.8L535.9 390.5M540.9 390.9L535.9 390.5L538.7 386.4 M550.2 370.2L535.8 376.6M540.8 377.1L535.8 376.6L538.7 372.6 M550.2 356.4L535.8 362.9M540.8 363.4L535.8 362.9L538.7 358.8 M550.2 342.7L535.8 349.2M540.8 349.7L535.8 349.2L538.7 345.2 M550.2 328.9L535.9 335.5M540.8 336.0L535.9 335.5L538.7 331.4 M550.2 315.1L535.9 321.7M540.8 322.1L535.9 321.7L538.7 317.6 M550.2 301.2L535.8 307.7M540.8 308.2L535.8 307.7L538.7 303.6 M550.2 287.3L535.7 293.5M540.7 294.1L535.7 293.5L538.7 289.5 M550.2 273.3L535.5 279.1M540.5 279.8L535.5 279.1L538.6 275.2 M550.2 259.3L535.3 264.3M540.2 265.3L535.3 264.3L538.6 260.6 M550.3 245.3L535.0 249.5M539.9 250.7L535.0 249.5L538.5 245.9 M550.3 231.1L534.9 234.6M539.6 236.1L534.9 234.6L538.5 231.2 M550.3 216.9L534.7 219.7M539.4 221.4L534.7 219.7L538.6 216.5 M550.3 202.6L534.6 204.8M539.3 206.7L534.6 204.8L538.6 201.7 M550.3 188.2L534.5 189.5M539.1 191.6L534.5 189.5L538.7 186.6 M550.3 173.8L534.5 173.8M538.8 176.3L534.5 173.8L538.8 171.3 M550.3 159.2L534.5 159.1M538.8 161.6L534.5 159.1L538.8 156.6 M550.3 144.3L534.8 147.4M539.5 149.0L534.8 147.4L538.5 144.1 M549.9 128.8L540.2 141.3M544.8 139.4L540.2 141.3L540.9 136.3 M549.7 113.8L543.2 128.2M547.3 125.3L543.2 128.2L542.7 123.2 M549.5 98.6L546.7 114.2M549.9 110.4L546.7 114.2L545.0 109.5 M549.6 83.4L545.5 98.7M549.0 95.2L545.5 98.7L544.2 93.9 M549.6 68.1L545.3 83.3M548.9 79.8L545.3 83.3L544.1 78.5 M549.6 52.7L545.0 67.8M548.6 64.3L545.0 67.8L543.8 62.9 M549.6 37.0L544.7 52.1M548.5 48.7L544.7 52.1L543.7 47.2 M563.4 465.1L555.8 479.0M560.1 476.4L555.8 479.0L555.7 474.0 M563.4 451.5L555.1 465.0M559.5 462.6L555.1 465.0L555.3 460.0 M563.5 438.0L554.0 450.6M558.6 448.7L554.0 450.6L554.6 445.6 M563.6 424.5L552.8 436.0M557.6 434.5L552.8 436.0L553.9 431.1 M563.7 411.0L550.6 419.9M555.6 419.5L550.6 419.9L552.8 415.4 M563.8 397.5L549.7 404.5M554.6 404.8L549.7 404.5L552.4 400.4 M563.8 383.8L549.5 390.5M554.5 390.9L549.5 390.5L552.3 386.4 M563.8 370.2L549.4 376.7M554.4 377.2L549.4 376.7L552.3 372.6 M563.8 356.4L549.4 362.9M554.4 363.4L549.4 362.9L552.3 358.9 M563.8 342.7L549.4 349.2M554.4 349.7L549.4 349.2L552.3 345.2 M563.8 328.9L549.4 335.5M554.4 335.9L549.4 335.5L552.3 331.4 M563.8 315.1L549.5 321.7M554.4 322.1L549.5 321.7L552.3 317.6 M563.8 301.2L549.4 307.7M554.4 308.2L549.4 307.7L552.3 303.7 M563.8 287.3L549.4 293.6M554.3 294.2L549.4 293.6L552.3 289.6 M563.8 273.3L549.2 279.3M554.2 280.0L549.2 279.3L552.3 275.3 M563.8 259.3L549.0 264.6M553.9 265.5L549.0 264.6L552.2 260.8 M563.9 245.2L548.7 249.7M553.6 250.9L548.7 249.7L552.2 246.1 M563.9 231.1L548.5 234.8M553.3 236.2L548.5 234.8L552.1 231.3 M563.9 216.9L548.4 219.9M553.1 221.5L548.4 219.9L552.1 216.6 M563.9 202.6L548.3 205.3M553.0 207.0L548.3 205.3L552.2 202.1 M563.9 188.2L548.2 190.3M552.9 192.2L548.2 190.3L552.2 187.2 M563.9 173.8L548.1 174.3M552.5 176.7L548.1 174.3L552.3 171.7 M563.9 159.2L548.1 159.4M552.5 161.9L548.1 159.4L552.4 156.9 M563.9 144.3L548.2 146.0M552.7 148.0L548.2 146.0L552.2 143.1 M563.9 129.5L548.2 131.7M552.9 133.6L548.2 131.7L552.2 128.6 M563.7 114.0L551.6 124.2M556.5 123.3L551.6 124.2L553.3 119.5 M563.3 98.7L556.3 112.8M560.4 110.1L556.3 112.8L556.0 107.8 M563.2 83.5L558.4 98.5M562.1 95.1L558.4 98.5L557.3 93.6 M563.2 68.1L558.7 83.3M562.3 79.8L558.7 83.3L557.5 78.4 M563.2 52.7L558.6 67.8M562.2 64.3L558.6 67.8L557.4 62.9 M563.2 37.0L558.3 52.0M562.0 48.7L558.3 52.0L557.3 47.2 M577.0 465.1L569.3 478.9M573.6 476.4L569.3 478.9L569.2 473.9 M577.0 451.5L568.9 465.1M573.3 462.7L568.9 465.1L569.0 460.1 M577.1 438.0L567.2 450.3M571.9 448.5L567.2 450.3L568.0 445.4 M577.2 424.5L565.9 435.5M570.8 434.3L565.9 435.5L567.3 430.7 M577.3 411.0L564.4 420.1M569.4 419.7L564.4 420.1L566.5 415.6 M577.4 397.4L563.4 404.9M568.4 405.0L563.4 404.9L566.1 400.6 M577.4 383.8L563.2 390.8M568.2 391.1L563.2 390.8L566.0 386.6 M577.4 370.1L563.1 376.9M568.1 377.3L563.1 376.9L566.0 372.8 M577.4 356.4L563.1 363.1M568.1 363.5L563.1 363.1L566.0 359.0 M577.4 342.7L563.1 349.3M568.1 349.8L563.1 349.3L566.0 345.2 M577.4 328.9L563.1 335.6M568.1 336.0L563.1 335.6L566.0 331.5 M577.4 315.1L563.1 321.7M568.1 322.2L563.1 321.7L566.0 317.6 M577.4 301.2L563.1 307.8M568.0 308.2L563.1 307.8L565.9 303.7 M577.4 287.3L563.0 293.8M568.0 294.3L563.0 293.8L565.9 289.7 M577.4 273.3L563.0 279.7M568.0 280.2L563.0 279.7L565.9 275.7 M577.4 259.3L562.7 264.9M567.6 265.7L562.7 264.9L565.8 261.0 M577.5 245.2L562.4 250.1M567.3 251.1L562.4 250.1L565.8 246.4 M577.5 231.1L562.2 235.1M567.0 236.4L562.2 235.1L565.7 231.6 M577.5 216.9L562.0 220.2M566.8 221.7L562.0 220.2L565.7 216.8 M577.5 202.5L562.1 206.2M566.9 207.6L562.1 206.2L565.7 202.7 M577.5 188.0L562.3 192.4M567.1 193.6L562.3 192.4L565.7 188.8 M577.5 173.7L561.7 174.8M566.2 177.0L561.7 174.8L565.9 172.0 M577.5 159.1L561.7 160.2M566.2 162.4L561.7 160.2L565.9 157.4 M577.5 144.3L561.8 146.5M566.5 148.4L561.8 146.5L565.8 143.4 M577.4 130.1L563.3 122.9M566.0 127.1L563.3 122.9L568.3 122.6 M577.1 115.5L567.2 103.2M568.0 108.1L567.2 103.2L571.9 105.0 M577.1 98.8L567.9 111.6M572.4 109.6L567.9 111.6L568.4 106.7 M576.8 83.5L571.4 98.3M575.3 95.1L571.4 98.3L570.6 93.4 M576.8 68.1L571.8 83.1M575.5 79.8L571.8 83.1L570.8 78.2 M576.8 52.7L571.9 67.7M575.6 64.3L571.9 67.7L570.9 62.8 M576.8 37.0L571.7 52.0M575.4 48.7L571.7 52.0L570.7 47.1" fill="none" stroke="#000080" stroke-width="0.9" stroke-linecap="butt"/>
<path d="M165.1 476.7L164.5 474.5L162.9 476.1Z M165.2 463.0L164.7 460.8L163.0 462.4Z M164.2 423.1L163.8 420.8L162.0 422.3Z M163.4 410.0L163.2 407.7L161.3 409.1Z M159.7 398.3L160.1 396.0L157.9 396.7Z M156.1 385.3L157.1 383.2L154.8 383.4Z M152.4 371.4L153.9 369.7L151.6 369.3Z M178.3 436.3L177.8 434.0L176.1 435.5Z M177.0 423.7L176.8 421.4L174.9 422.7Z M174.7 411.4L174.9 409.1L172.8 410.0Z M170.4 398.9L171.3 396.8L169.0 397.1Z M154.6 324.2L156.1 326.0L156.9 323.8Z M155.6 308.2L156.8 310.2L157.9 308.2Z M156.9 292.4L157.7 294.6L159.2 292.8Z M191.6 436.5L191.2 434.3L189.5 435.7Z M171.3 380.7L173.5 380.2L172.0 378.5Z M167.8 360.7L170.0 361.3L169.4 359.1Z M167.5 340.5L169.3 342.0L169.7 339.7Z M168.6 323.2L170.0 325.1L170.9 323.0Z M170.0 307.0L170.9 309.1L172.3 307.2Z M171.0 291.8L171.7 294.0L173.3 292.3Z M206.2 449.3L205.6 447.0L203.9 448.7Z M181.4 374.4L183.6 375.0L183.0 372.7Z M180.9 356.3L182.9 357.6L182.9 355.3Z M181.2 340.0L182.9 341.5L183.4 339.3Z M182.3 323.1L183.6 324.9L184.6 322.9Z M183.1 307.7L184.2 309.8L185.4 307.8Z M183.8 292.9L184.7 295.0L186.0 293.1Z M215.6 465.8L215.8 463.5L213.7 464.5Z M196.3 391.3L198.6 391.4L197.5 389.4Z M194.5 371.6L196.6 372.6L196.4 370.3Z M194.5 356.3L196.5 357.5L196.5 355.2Z M194.6 341.6L196.4 342.9L196.7 340.6Z M195.1 325.1L196.7 326.8L197.3 324.6Z M195.7 309.6L197.1 311.4L198.0 309.3Z M225.2 480.6L226.0 478.5L223.8 478.8Z M224.2 467.1L225.2 465.1L222.9 465.3Z M219.6 439.6L221.1 437.9L218.9 437.4Z M216.3 424.8L218.3 423.5L216.2 422.5Z M213.3 409.1L215.4 408.4L213.7 406.9Z M210.4 392.1L212.7 392.0L211.4 390.1Z M208.6 374.4L210.8 375.0L210.2 372.8Z M208.1 357.9L210.2 358.9L210.0 356.6Z M208.1 342.4L210.1 343.7L210.2 341.4Z M208.2 327.4L210.0 328.8L210.3 326.6Z M235.0 480.7L236.4 478.9L234.1 478.6Z M233.3 466.8L234.8 465.1L232.6 464.6Z M231.9 452.8L233.6 451.3L231.4 450.6Z M229.9 438.4L231.8 437.1L229.7 436.1Z M228.2 423.8L230.3 422.8L228.4 421.5Z M226.9 409.2L229.1 408.4L227.3 406.9Z M225.5 394.2L227.8 393.7L226.2 392.0Z M223.4 377.5L225.7 377.6L224.6 375.5Z M222.6 361.9L224.9 362.3L224.1 360.1Z M246.2 480.3L247.8 478.7L245.6 478.0Z M243.8 465.8L245.7 464.5L243.6 463.5Z M243.9 452.2L245.8 450.9L243.7 449.9Z M243.0 438.2L245.0 437.0L242.9 435.9Z M242.0 423.9L244.0 422.9L242.1 421.6Z M241.0 409.6L243.1 408.7L241.3 407.3Z M239.3 394.4L241.6 393.9L240.0 392.2Z M237.9 379.0L240.2 378.8L238.9 376.9Z M237.5 364.7L239.8 364.6L238.6 362.7Z M236.6 349.2L238.9 349.4L238.0 347.4Z M235.5 205.4L237.7 206.1L237.3 203.9Z M235.7 191.7L237.9 192.4L237.4 190.2Z M259.1 480.1L260.8 478.5L258.6 477.8Z M258.1 466.1L259.9 464.7L257.8 463.8Z M257.9 452.4L259.8 451.0L257.6 450.1Z M257.0 438.4L258.9 437.1L256.9 436.1Z M256.2 424.3L258.2 423.2L256.2 422.0Z M255.1 410.0L257.2 409.0L255.3 407.7Z M253.4 394.9L255.6 394.3L254.0 392.7Z M251.6 379.1L253.9 378.9L252.5 377.0Z M251.8 365.7L254.1 365.4L252.7 363.6Z M251.6 351.6L253.9 351.4L252.5 349.5Z M251.0 336.9L253.3 336.8L252.1 334.9Z M249.2 220.0L251.4 220.8L250.9 218.5Z M249.3 206.2L251.5 206.9L251.0 204.7Z M249.6 192.9L251.9 193.4L251.2 191.2Z M249.6 178.4L251.9 178.9L251.2 176.7Z M272.7 480.1L274.4 478.5L272.2 477.8Z M272.0 466.2L273.8 464.8L271.7 464.0Z M271.6 452.5L273.4 451.1L271.3 450.2Z M271.1 438.6L273.0 437.3L270.9 436.3Z M270.5 424.7L272.4 423.5L270.4 422.4Z M269.9 410.7L271.9 409.6L269.9 408.4Z M268.2 395.9L270.3 395.1L268.5 393.6Z M267.0 381.2L269.2 380.6L267.6 379.0Z M266.8 367.2L269.0 366.7L267.4 365.0Z M266.8 353.6L269.1 353.0L267.4 351.3Z M266.1 339.0L268.4 338.6L266.9 336.8Z M263.3 236.0L265.5 236.5L264.8 234.3Z M263.0 220.9L265.2 221.5L264.6 219.3Z M263.1 207.0L265.4 207.5L264.7 205.3Z M263.3 193.0L265.5 193.5L264.8 191.3Z M263.4 178.9L265.7 179.3L264.9 177.1Z M286.2 480.0L288.0 478.5L285.8 477.8Z M285.8 466.3L287.6 464.8L285.4 464.0Z M285.4 452.5L287.2 451.1L285.1 450.3Z M285.1 438.8L286.9 437.4L284.8 436.5Z M284.7 425.0L286.5 423.7L284.5 422.7Z M284.0 411.0L285.9 409.8L283.9 408.7Z M283.0 396.8L285.0 395.7L283.1 394.5Z M282.2 382.5L284.3 381.6L282.4 380.2Z M281.8 368.5L283.9 367.7L282.1 366.2Z M281.5 354.5L283.7 353.7L281.9 352.3Z M281.1 340.4L283.2 339.6L281.5 338.1Z M280.5 326.0L282.7 325.4L281.1 323.8Z M278.5 267.7L280.8 267.6L279.5 265.6Z M278.1 252.9L280.4 252.9L279.2 250.9Z M277.5 237.6L279.8 237.8L278.8 235.7Z M277.1 222.4L279.3 222.7L278.5 220.6Z M277.0 193.3L279.2 193.7L278.5 191.6Z M277.0 179.0L279.3 179.4L278.5 177.2Z M299.1 452.6L300.9 451.1L298.8 450.3Z M298.9 438.9L300.7 437.5L298.6 436.6Z M298.7 425.2L300.6 423.8L298.4 422.9Z M298.1 411.3L300.0 410.0L298.0 409.0Z M297.5 397.3L299.4 396.1L297.4 395.0Z M296.9 383.3L298.9 382.2L297.0 381.0Z M296.7 369.4L298.7 368.3L296.7 367.1Z M296.1 355.3L298.2 354.3L296.3 353.0Z M295.7 341.2L297.8 340.3L295.9 338.9Z M295.4 327.1L297.5 326.3L295.7 324.9Z M294.6 312.6L296.8 311.9L295.1 310.3Z M294.0 298.1L296.3 297.5L294.6 295.9Z M293.4 283.5L295.6 283.0L294.1 281.3Z M293.0 268.9L295.3 268.6L293.8 266.8Z M292.8 254.6L295.1 254.3L293.7 252.5Z M291.7 238.8L294.0 238.8L292.9 236.8Z M291.1 223.3L293.4 223.5L292.4 221.4Z M290.7 193.8L293.0 194.1L292.2 192.0Z M312.6 452.5L314.4 451.1L312.3 450.3Z M312.6 438.9L314.4 437.5L312.3 436.6Z M312.5 425.2L314.3 423.8L312.2 423.0Z M312.1 411.5L314.0 410.1L311.9 409.2Z M311.7 397.6L313.6 396.3L311.5 395.3Z M311.2 383.7L313.2 382.4L311.1 381.4Z M310.8 369.7L312.8 368.6L310.8 367.4Z M310.3 355.7L312.3 354.6L310.4 353.4Z M309.8 341.6L311.9 340.6L310.0 339.3Z M309.3 327.4L311.4 326.5L309.6 325.1Z M308.7 313.0L310.9 312.2L309.1 310.8Z M308.1 298.6L310.3 297.9L308.6 296.4Z M307.5 284.0L309.8 283.5L308.2 281.8Z M307.0 269.4L309.2 268.9L307.7 267.2Z M306.3 254.5L308.6 254.2L307.2 252.4Z M305.6 239.2L307.9 239.1L306.6 237.2Z M305.1 224.1L307.4 224.2L306.3 222.1Z M304.8 209.2L307.1 209.4L306.1 207.3Z M304.5 194.2L306.8 194.5L305.9 192.4Z M304.5 179.6L306.7 179.8L305.9 177.7Z M326.0 438.8L327.8 437.4L325.7 436.6Z M326.2 425.3L328.0 423.9L325.8 423.0Z M325.9 411.5L327.7 410.1L325.6 409.2Z M325.6 397.7L327.5 396.4L325.4 395.4Z M325.2 383.9L327.1 382.6L325.1 381.6Z M324.8 369.9L326.7 368.7L324.7 367.6Z M324.3 355.9L326.3 354.8L324.3 353.6Z M323.7 341.8L325.7 340.7L323.8 339.5Z M323.1 327.5L325.2 326.6L323.3 325.2Z M322.6 313.3L324.7 312.4L322.9 311.0Z M322.1 299.0L324.3 298.2L322.5 296.7Z M321.5 284.4L323.7 283.8L322.0 282.2Z M320.7 269.5L323.0 269.1L321.4 267.4Z M319.9 254.4L322.1 254.1L320.8 252.3Z M319.1 239.1L321.4 239.1L320.2 237.1Z M318.9 224.4L321.2 224.4L320.0 222.4Z M318.9 210.1L321.2 210.1L320.0 208.1Z M318.4 194.8L320.7 195.0L319.7 192.9Z M318.3 180.0L320.6 180.2L319.6 178.2Z M339.2 425.1L341.1 423.7L339.0 422.8Z M339.3 411.5L341.2 410.1L339.1 409.2Z M339.3 397.8L341.2 396.4L339.1 395.5Z M339.0 384.0L340.9 382.7L338.8 381.7Z M338.7 370.1L340.6 368.8L338.5 367.8Z M338.2 356.1L340.2 354.9L338.2 353.8Z M337.6 342.0L339.6 340.8L337.7 339.7Z M336.8 327.6L338.9 326.6L337.0 325.3Z M336.7 313.6L338.8 312.7L336.9 311.3Z M336.3 299.4L338.4 298.5L336.6 297.1Z M335.6 284.9L337.8 284.1L336.1 282.6Z M334.7 269.9L336.9 269.4L335.3 267.7Z M333.6 254.6L335.9 254.3L334.5 252.4Z M332.5 238.7L334.8 238.7L333.6 236.7Z M332.6 224.6L334.9 224.6L333.7 222.6Z M332.5 210.2L334.8 210.2L333.7 208.2Z M332.3 195.4L334.6 195.4L333.5 193.4Z M332.2 180.7L334.5 180.8L333.4 178.7Z M332.5 166.6L334.8 166.6L333.7 164.6Z M352.4 411.2L354.3 409.9L352.2 408.9Z M352.9 397.8L354.7 396.4L352.6 395.5Z M352.5 383.9L354.4 382.6L352.4 381.6Z M352.3 370.1L354.3 368.8L352.2 367.8Z M352.1 356.3L354.1 355.0L352.0 354.0Z M351.8 342.3L353.8 341.1L351.7 340.0Z M351.4 328.2L353.4 327.1L351.4 325.9Z M351.1 314.2L353.1 313.1L351.2 311.9Z M350.8 300.0L352.8 299.0L350.9 297.7Z M350.1 285.6L352.2 284.7L350.4 283.3Z M349.0 270.6L351.2 269.9L349.5 268.4Z M347.8 255.4L350.1 254.9L348.6 253.2Z M346.9 239.9L349.1 239.7L347.8 237.9Z M346.5 225.2L348.8 225.1L347.6 223.2Z M346.5 210.7L348.8 210.6L347.5 208.7Z M346.3 196.1L348.6 196.0L347.4 194.1Z M346.1 181.2L348.4 181.2L347.2 179.2Z M346.8 167.7L349.1 167.5L347.8 165.6Z M365.3 397.2L367.2 396.0L365.2 394.9Z M365.5 383.6L367.5 382.4L365.4 381.3Z M365.8 370.0L367.7 368.8L365.7 367.7Z M366.0 356.4L367.9 355.1L365.9 354.1Z M366.0 342.6L367.9 341.3L365.9 340.3Z M365.9 328.7L367.8 327.4L365.7 326.4Z M365.7 314.7L367.6 313.5L365.6 312.4Z M365.5 300.7L367.4 299.5L365.4 298.4Z M365.1 286.5L367.1 285.3L365.1 284.2Z M364.2 271.9L366.2 270.9L364.3 269.6Z M362.5 256.4L364.7 255.7L363.0 254.2Z M361.2 240.8L363.4 240.4L361.9 238.7Z M360.7 226.0L363.0 225.7L361.6 223.9Z M360.7 211.7L363.0 211.4L361.6 209.5Z M360.8 197.3L363.1 197.0L361.7 195.2Z M361.1 183.2L363.4 182.9L361.9 181.1Z M361.6 169.2L363.9 168.7L362.3 167.0Z M377.5 396.3L379.6 395.3L377.7 394.0Z M378.1 383.0L380.1 382.0L378.2 380.7Z M378.9 369.8L380.9 368.6L378.9 367.5Z M379.8 356.5L381.7 355.2L379.6 354.2Z M380.2 342.9L382.0 341.5L379.9 340.6Z M380.3 329.1L382.1 327.7L380.0 326.8Z M380.1 315.1L381.9 313.8L379.8 312.8Z M380.2 301.2L382.1 299.9L379.9 299.0Z M380.1 287.2L381.9 285.9L379.8 284.9Z M379.8 273.0L381.7 271.7L379.6 270.8Z M377.2 257.3L379.3 256.4L377.5 255.1Z M375.1 241.2L377.4 240.8L375.8 239.1Z M375.0 226.9L377.3 226.4L375.8 224.7Z M375.1 212.6L377.4 212.2L375.8 210.5Z M375.4 198.5L377.6 198.0L376.0 196.3Z M375.9 184.5L378.1 183.9L376.5 182.3Z M376.5 170.4L378.6 169.6L376.9 168.2Z M390.3 382.0L392.5 381.2L390.7 379.7Z M391.6 369.2L393.7 368.2L391.7 367.0Z M393.4 356.5L395.3 355.2L393.2 354.2Z M393.9 342.9L395.7 341.5L393.6 340.6Z M394.5 329.3L396.2 327.9L394.1 327.1Z M394.6 315.5L396.4 314.0L394.2 313.2Z M394.7 301.6L396.5 300.1L394.3 299.3Z M394.4 287.5L396.2 286.0L394.0 285.2Z M393.3 273.0L395.2 271.7L393.2 270.7Z M391.6 257.9L393.6 256.9L391.7 255.6Z M390.1 242.6L392.3 241.8L390.5 240.3Z M389.6 227.9L391.8 227.2L390.1 225.6Z M389.6 213.5L391.8 212.9L390.1 211.3Z M389.9 199.4L392.0 198.6L390.3 197.1Z M390.5 185.4L392.6 184.5L390.8 183.1Z M391.4 171.4L393.5 170.4L391.6 169.1Z M391.0 156.4L393.1 155.5L391.2 154.1Z M403.3 476.9L405.5 476.2L403.8 474.6Z M402.1 448.5L404.4 448.0L402.9 446.3Z M402.0 434.7L404.2 434.3L402.7 432.5Z M401.8 420.9L404.1 420.5L402.6 418.7Z M401.9 393.7L404.2 393.3L402.7 391.6Z M402.5 380.7L404.8 380.2L403.2 378.5Z M403.7 368.1L405.9 367.4L404.1 365.9Z M404.9 355.3L407.0 354.3L405.1 353.0Z M406.3 342.3L408.2 341.1L406.2 340.0Z M408.2 329.4L410.0 327.9L407.8 327.1Z M408.1 315.5L409.9 314.0L407.7 313.2Z M408.9 301.8L410.6 300.2L408.4 299.6Z M408.2 287.6L410.0 286.1L407.8 285.3Z M406.7 272.9L408.6 271.6L406.6 270.6Z M405.4 258.1L407.5 257.0L405.5 255.8Z M404.5 243.3L406.6 242.3L404.8 241.0Z M403.9 228.5L406.1 227.7L404.3 226.2Z M403.8 214.1L405.9 213.3L404.2 211.8Z M404.0 199.8L406.1 199.0L404.3 197.5Z M404.4 185.6L406.6 184.7L404.7 183.4Z M404.9 171.4L407.0 170.4L405.1 169.1Z M405.0 156.7L407.1 155.7L405.1 154.4Z M404.8 141.7L406.9 140.8L405.0 139.5Z M416.4 476.4L418.6 475.8L417.0 474.2Z M415.5 461.9L417.8 461.5L416.3 459.7Z M414.8 447.3L417.1 447.1L415.7 445.2Z M414.6 433.4L416.9 433.3L415.6 431.3Z M414.5 419.6L416.8 419.5L415.5 417.5Z M414.6 406.2L416.9 406.0L415.6 404.1Z M415.0 393.1L417.3 392.8L415.9 390.9Z M415.6 380.1L417.8 379.7L416.3 377.9Z M416.2 367.1L418.5 366.6L416.9 364.9Z M416.4 353.6L418.7 353.0L417.0 351.3Z M417.7 340.9L419.8 340.0L418.0 338.6Z M418.9 327.9L420.9 326.9L419.0 325.6Z M419.3 314.3L421.3 313.2L419.3 312.0Z M423.6 302.1L425.1 300.4L422.9 299.9Z M421.3 287.4L423.1 286.0L421.0 285.1Z M419.3 272.3L421.3 271.2L419.3 270.0Z M418.6 257.8L420.7 256.8L418.8 255.5Z M418.4 243.5L420.5 242.5L418.6 241.2Z M417.5 228.5L419.6 227.7L417.8 226.2Z M417.3 214.0L419.4 213.2L417.7 211.7Z M417.6 199.8L419.8 199.0L418.0 197.6Z M418.2 185.7L420.3 184.8L418.4 183.4Z M418.4 171.3L420.5 170.3L418.6 169.0Z M419.0 156.9L421.0 155.9L419.1 154.7Z M419.1 142.2L421.1 141.1L419.2 139.9Z M419.0 127.2L421.1 126.1L419.1 124.9Z M429.7 476.1L431.9 475.6L430.4 473.9Z M428.9 461.6L431.2 461.2L429.7 459.4Z M428.2 447.0L430.5 446.9L429.2 444.9Z M427.7 432.6L430.0 432.6L428.8 430.6Z M427.3 418.3L429.6 418.4L428.6 416.3Z M427.8 405.4L430.1 405.4L428.9 403.4Z M428.4 392.7L430.7 392.5L429.3 390.7Z M428.8 379.7L431.1 379.4L429.7 377.5Z M429.6 366.9L431.9 366.4L430.3 364.7Z M429.8 353.3L432.0 352.8L430.4 351.1Z M429.5 339.2L431.8 338.7L430.2 337.0Z M430.6 326.5L432.8 325.8L431.1 324.2Z M431.9 313.6L434.0 312.7L432.1 311.3Z M433.3 300.6L435.3 299.4L433.3 298.3Z M432.9 286.4L435.0 285.3L433.0 284.1Z M431.7 271.6L433.9 270.6L432.0 269.3Z M430.4 242.2L432.6 241.5L430.9 239.9Z M430.0 227.5L432.2 226.9L430.6 225.3Z M430.1 213.3L432.3 212.6L430.7 211.0Z M430.9 199.6L433.1 198.8L431.3 197.3Z M432.0 185.9L434.1 184.9L432.2 183.6Z M432.8 171.8L434.8 170.7L432.9 169.5Z M433.3 157.4L435.3 156.2L433.3 155.1Z M433.4 142.6L435.4 141.4L433.4 140.3Z M433.3 127.6L435.3 126.4L433.2 125.3Z M433.0 112.4L435.0 111.3L433.0 110.1Z M443.3 476.1L445.5 475.6L444.0 473.9Z M441.8 447.0L444.1 446.8L442.8 444.9Z M441.2 432.5L443.5 432.5L442.4 430.5Z M440.9 418.3L443.2 418.4L442.2 416.4Z M441.1 405.0L443.4 405.0L442.3 403.0Z M441.6 392.2L443.9 392.1L442.7 390.2Z M442.4 379.6L444.7 379.3L443.3 377.5Z M444.6 368.2L446.7 367.4L445.0 365.9Z M443.6 353.6L445.9 353.0L444.2 351.3Z M443.1 339.2L445.3 338.7L443.8 337.0Z M443.1 325.4L445.4 324.9L443.8 323.2Z M443.9 312.3L446.1 311.7L444.4 310.1Z M442.3 211.7L444.6 211.4L443.2 209.6Z M443.7 198.8L445.9 198.2L444.3 196.6Z M446.0 186.2L448.0 185.1L446.1 183.9Z M447.2 172.3L449.2 171.0L447.1 170.0Z M447.6 128.0L449.5 126.7L447.4 125.7Z M447.1 112.7L449.1 111.4L447.0 110.4Z M446.8 97.3L448.8 96.1L446.8 95.0Z M446.7 81.9L448.7 80.8L446.7 79.6Z M457.1 476.3L459.3 475.7L457.7 474.1Z M455.5 447.1L457.8 447.0L456.5 445.1Z M454.9 432.6L457.2 432.6L456.0 430.6Z M454.4 418.1L456.7 418.3L455.7 416.2Z M454.4 404.5L456.7 404.6L455.7 402.6Z M454.9 391.6L457.2 391.6L456.0 389.6Z M461.4 384.0L463.3 382.7L461.2 381.7Z M463.9 371.1L465.5 369.5L463.3 368.9Z M456.4 352.7L458.7 352.3L457.2 350.5Z M456.2 338.7L458.5 338.3L457.1 336.5Z M456.2 324.8L458.5 324.4L457.0 322.6Z M456.4 311.1L458.6 310.7L457.2 309.0Z M456.5 297.3L458.7 296.9L457.2 295.1Z M456.2 283.0L458.4 282.6L457.0 280.8Z M455.6 268.1L457.9 267.9L456.5 266.0Z M454.9 253.0L457.2 253.0L456.1 251.0Z M454.4 209.2L456.7 209.4L455.7 207.3Z M455.8 197.1L458.1 196.9L456.7 195.0Z M459.1 185.8L461.2 184.9L459.3 183.5Z M461.4 172.6L463.3 171.2L461.2 170.3Z M462.6 158.4L464.4 156.9L462.2 156.1Z M462.7 143.5L464.4 142.1L462.3 141.3Z M462.0 128.3L463.8 126.9L461.7 126.1Z M461.2 112.9L463.1 111.6L461.1 110.6Z M460.8 97.5L462.7 96.3L460.7 95.2Z M460.6 82.1L462.6 80.9L460.6 79.8Z M460.8 66.7L462.7 65.5L460.7 64.4Z M460.6 51.0L462.6 49.8L460.6 48.7Z M471.0 476.7L473.2 476.0L471.6 474.4Z M470.1 462.1L472.4 461.7L470.9 459.9Z M469.3 447.5L471.6 447.2L470.3 445.4Z M468.6 432.8L470.9 432.7L469.7 430.8Z M467.9 417.9L470.2 418.1L469.2 416.0Z M467.8 404.0L470.1 404.2L469.2 402.1Z M469.8 374.9L470.6 377.1L472.1 375.3Z M475.0 357.2L474.8 359.4L476.9 358.5Z M469.2 351.7L471.5 351.5L470.2 349.6Z M469.2 324.0L471.5 323.8L470.2 321.9Z M469.2 310.1L471.5 309.9L470.2 308.0Z M469.0 295.9L471.3 295.8L470.0 293.9Z M468.1 266.3L470.4 266.4L469.3 264.4Z M467.5 250.9L469.8 251.3L469.0 249.1Z M467.2 235.8L469.4 236.3L468.7 234.1Z M466.9 220.7L469.1 221.3L468.6 219.1Z M467.2 207.3L469.5 207.8L468.8 205.6Z M467.9 194.6L470.2 194.8L469.2 192.7Z M472.0 185.3L474.2 184.5L472.4 183.1Z M475.6 172.8L477.4 171.4L475.3 170.5Z M477.2 158.7L478.9 157.1L476.7 156.4Z M477.6 144.0L479.2 142.3L477.0 141.8Z M476.9 128.8L478.6 127.3L476.4 126.6Z M475.8 113.3L477.6 111.9L475.5 111.1Z M474.8 97.7L476.7 96.4L474.6 95.4Z M474.4 82.2L476.3 80.9L474.3 79.9Z M474.3 66.7L476.3 65.4L474.2 64.4Z M474.4 51.1L476.4 49.9L474.3 48.8Z M485.2 477.2L487.4 476.4L485.7 474.9Z M484.3 462.7L486.5 462.2L484.9 460.5Z M483.4 448.1L485.7 447.7L484.2 446.0Z M482.6 433.5L484.9 433.3L483.6 431.4Z M481.9 418.6L484.2 418.6L483.1 416.6Z M481.5 404.3L483.8 404.5L482.8 402.4Z M482.9 375.6L483.9 377.7L485.2 375.8Z M481.9 377.6L484.2 377.6L483.1 375.6Z M482.3 350.8L484.6 350.8L483.4 348.8Z M482.3 323.3L484.6 323.2L483.4 321.2Z M482.2 309.2L484.5 309.2L483.3 307.2Z M482.0 294.9L484.3 295.0L483.2 293.0Z M481.6 280.2L483.9 280.4L482.9 278.3Z M481.1 265.0L483.4 265.4L482.5 263.2Z M480.6 249.4L482.8 249.9L482.2 247.7Z M480.5 234.8L482.7 235.5L482.2 233.2Z M480.5 220.7L482.8 221.3L482.2 219.1Z M481.2 208.3L483.5 208.6L482.6 206.5Z M484.4 198.8L486.7 198.2L485.0 196.6Z M486.1 185.7L488.2 184.8L486.4 183.4Z M490.3 173.2L492.0 171.7L489.8 171.0Z M492.2 159.0L493.7 157.3L491.4 156.8Z M492.7 144.3L494.2 142.5L491.9 142.1Z M492.1 129.2L493.6 127.5L491.4 127.0Z M490.6 113.8L492.2 112.2L490.0 111.5Z M488.6 97.8L490.5 96.5L488.4 95.5Z M488.4 82.4L490.3 81.1L488.3 80.1Z M488.0 66.7L489.9 65.5L487.9 64.4Z M488.4 51.3L490.3 50.0L488.2 49.0Z M499.7 477.9L501.8 477.0L499.9 475.6Z M499.0 463.7L501.1 463.0L499.4 461.5Z M497.9 449.1L500.1 448.6L498.5 446.9Z M496.9 434.4L499.2 434.0L497.7 432.2Z M495.8 419.2L498.1 419.2L496.9 417.2Z M495.3 404.5L497.6 404.7L496.5 402.6Z M495.2 390.6L497.4 390.8L496.5 388.7Z M495.5 350.2L497.8 350.2L496.7 348.2Z M495.6 336.5L497.9 336.5L496.7 334.5Z M495.5 322.6L497.8 322.7L496.7 320.7Z M495.3 294.3L497.5 294.4L496.5 292.3Z M495.0 279.7L497.3 279.9L496.3 277.8Z M494.5 264.5L496.8 264.9L496.0 262.7Z M494.2 249.3L496.4 249.9L495.8 247.7Z M494.1 234.6L496.3 235.3L495.8 233.1Z M494.1 220.7L496.3 221.3L495.8 219.1Z M494.6 207.9L496.9 208.3L496.1 206.1Z M495.9 196.1L498.2 196.1L497.0 194.1Z M498.0 184.3L500.3 183.7L498.6 182.0Z M502.8 172.8L504.6 171.4L502.5 170.5Z M506.4 159.1L507.9 157.3L505.6 157.0Z M507.3 144.4L508.6 142.5L506.3 142.3Z M507.2 129.4L508.5 127.5L506.2 127.3Z M505.5 114.1L507.1 112.4L504.8 111.9Z M503.8 98.4L505.5 96.9L503.3 96.2Z M503.1 82.9L504.9 81.4L502.7 80.6Z M502.9 67.3L504.7 65.9L502.5 65.0Z M502.7 51.6L504.6 50.2L502.5 49.3Z M514.1 478.5L516.2 477.4L514.2 476.2Z M513.5 464.4L515.6 463.5L513.7 462.1Z M512.4 450.0L514.6 449.2L512.8 447.7Z M511.5 435.5L513.7 434.9L512.1 433.3Z M509.7 419.6L512.0 419.5L510.7 417.6Z M508.9 404.5L511.2 404.7L510.1 402.6Z M508.7 390.5L511.0 390.7L510.0 388.7Z M508.7 376.8L511.0 377.0L510.0 375.0Z M508.9 336.0L511.2 336.1L510.1 334.1Z M508.9 322.1L511.2 322.3L510.1 320.2Z M508.8 308.1L511.1 308.3L510.1 306.2Z M508.6 293.8L510.9 294.0L510.0 291.9Z M508.4 279.2L510.6 279.5L509.8 277.4Z M508.0 264.3L510.3 264.7L509.6 262.5Z M507.8 249.3L510.0 249.9L509.4 247.7Z M507.6 234.5L509.8 235.2L509.3 233.0Z M507.6 220.2L509.8 220.9L509.3 218.6Z M507.7 206.2L509.9 206.9L509.4 204.6Z M507.9 192.4L510.1 192.9L509.5 190.7Z M509.3 181.2L511.6 181.2L510.4 179.2Z M514.7 172.0L516.7 170.8L514.7 169.7Z M514.9 157.4L516.8 156.2L514.8 155.1Z M520.8 144.4L522.1 142.5L519.8 142.3Z M521.5 129.5L522.7 127.5L520.4 127.4Z M520.1 114.3L521.5 112.5L519.2 112.1Z M518.3 98.7L519.9 97.1L517.7 96.5Z M517.7 83.2L519.4 81.7L517.2 81.0Z M517.8 67.8L519.5 66.2L517.3 65.5Z M517.1 51.9L518.9 50.4L516.7 49.6Z M528.4 478.9L530.4 477.7L528.4 476.6Z M528.1 465.1L530.1 464.0L528.1 462.8Z M526.4 450.3L528.5 449.5L526.7 448.0Z M525.0 435.4L527.3 434.9L525.7 433.2Z M523.5 420.0L525.8 419.8L524.5 417.9Z M522.6 404.8L524.9 404.9L523.8 402.9Z M522.3 390.5L524.6 390.7L523.6 388.6Z M522.2 376.7L524.5 376.9L523.6 374.8Z M522.2 363.0L524.5 363.2L523.6 361.1Z M522.3 349.4L524.6 349.6L523.6 347.5Z M522.3 335.7L524.6 335.8L523.6 333.8Z M522.3 321.8L524.6 322.0L523.6 319.9Z M522.3 307.9L524.6 308.1L523.6 306.0Z M522.1 293.6L524.4 293.8L523.5 291.7Z M521.9 279.0L524.2 279.4L523.3 277.2Z M521.6 264.2L523.9 264.7L523.2 262.5Z M521.4 249.3L523.6 249.9L523.0 247.7Z M521.2 234.5L523.4 235.2L522.9 232.9Z M521.1 219.7L523.3 220.5L522.9 218.3Z M521.1 205.0L523.2 205.9L522.9 203.6Z M521.0 190.2L523.1 191.1L522.8 188.8Z M520.9 174.8L523.0 175.8L522.8 173.5Z M520.9 160.2L523.0 161.2L522.8 158.9Z M521.0 146.5L523.2 147.4L522.9 145.1Z M533.1 144.2L534.6 142.4L532.3 142.0Z M534.4 129.4L535.7 127.5L533.4 127.3Z M533.8 114.3L535.2 112.5L532.9 112.2Z M532.5 98.9L534.1 97.2L531.8 96.7Z M531.8 83.4L533.4 81.7L531.2 81.1Z M531.5 67.8L533.2 66.2L530.9 65.6Z M531.1 52.0L532.8 50.5L530.6 49.8Z M542.2 479.0L544.2 477.8L542.1 476.7Z M540.3 450.5L542.4 449.7L540.6 448.3Z M538.8 435.6L541.0 435.0L539.4 433.4Z M537.2 420.0L539.5 419.8L538.1 417.9Z M536.2 404.8L538.5 404.9L537.4 402.8Z M535.9 390.5L538.2 390.7L537.2 388.6Z M535.8 376.6L538.1 376.8L537.1 374.7Z M535.8 362.9L538.1 363.1L537.1 361.0Z M535.8 349.2L538.1 349.4L537.2 347.4Z M535.9 335.5L538.1 335.7L537.2 333.6Z M535.9 321.7L538.2 321.9L537.2 319.8Z M535.8 307.7L538.1 307.9L537.2 305.8Z M535.7 293.5L538.0 293.8L537.1 291.7Z M535.5 279.1L537.8 279.4L536.9 277.3Z M535.3 264.3L537.5 264.8L536.8 262.6Z M535.0 249.5L537.3 250.0L536.6 247.8Z M534.9 234.6L537.0 235.2L536.5 233.0Z M534.7 219.7L536.9 220.5L536.5 218.2Z M534.6 204.8L536.8 205.6L536.5 203.4Z M534.5 189.5L536.6 190.5L536.4 188.2Z M534.5 173.8L536.5 175.0L536.5 172.7Z M534.5 159.1L536.5 160.2L536.5 157.9Z M534.8 147.4L537.0 148.2L536.5 145.9Z M540.2 141.3L542.3 140.4L540.5 139.0Z M543.2 128.2L545.1 126.8L543.0 125.9Z M546.7 114.2L548.2 112.4L545.9 112.0Z M545.5 98.7L547.1 97.1L544.9 96.5Z M545.3 83.3L547.0 81.7L544.8 81.1Z M545.0 67.8L546.7 66.2L544.5 65.5Z M544.7 52.1L546.4 50.5L544.3 49.8Z M555.8 479.0L557.8 477.8L555.8 476.7Z M555.1 465.0L557.2 463.9L555.2 462.7Z M554.0 450.6L556.1 449.7L554.3 448.3Z M552.8 436.0L555.0 435.3L553.3 433.8Z M550.6 419.9L552.9 419.7L551.7 417.8Z M549.7 404.5L552.0 404.7L550.9 402.6Z M549.5 390.5L551.8 390.7L550.8 388.6Z M549.4 376.7L551.7 376.9L550.8 374.8Z M549.4 362.9L551.7 363.2L550.8 361.1Z M549.4 349.2L551.7 349.4L550.8 347.4Z M549.4 335.5L551.7 335.7L550.8 333.6Z M549.5 321.7L551.7 321.9L550.8 319.8Z M549.4 307.7L551.7 307.9L550.8 305.8Z M549.4 293.6L551.6 293.9L550.7 291.8Z M549.2 279.3L551.5 279.6L550.6 277.5Z M549.0 264.6L551.2 265.0L550.5 262.9Z M548.7 249.7L551.0 250.3L550.3 248.1Z M548.5 234.8L550.7 235.4L550.2 233.2Z M548.4 219.9L550.6 220.7L550.1 218.4Z M548.3 205.3L550.5 206.1L550.1 203.8Z M548.2 190.3L550.4 191.2L550.1 188.9Z M548.1 174.3L550.1 175.4L550.1 173.1Z M548.1 159.4L550.1 160.6L550.1 158.3Z M548.2 146.0L550.3 146.9L550.0 144.6Z M548.2 131.7L550.4 132.5L550.1 130.3Z M551.6 124.2L553.8 123.8L552.3 122.0Z M556.3 112.8L558.2 111.6L556.1 110.5Z M558.4 98.5L560.1 97.0L557.9 96.3Z M558.7 83.3L560.4 81.7L558.2 81.0Z M558.6 67.8L560.3 66.2L558.1 65.5Z M558.3 52.0L560.0 50.5L557.8 49.8Z M569.3 478.9L571.3 477.8L569.3 476.6Z M568.9 465.1L570.9 464.0L568.9 462.8Z M567.2 450.3L569.3 449.5L567.5 448.0Z M565.9 435.5L568.1 435.0L566.5 433.3Z M564.4 420.1L566.7 419.9L565.4 418.0Z M563.4 404.9L565.7 404.9L564.7 402.9Z M563.2 390.8L565.5 390.9L564.5 388.8Z M563.1 376.9L565.4 377.1L564.4 375.0Z M563.1 363.1L565.4 363.3L564.4 361.2Z M563.1 349.3L565.4 349.5L564.4 347.4Z M563.1 335.6L565.4 335.8L564.4 333.7Z M563.1 321.7L565.4 321.9L564.4 319.8Z M563.1 307.8L565.3 308.0L564.4 305.9Z M563.0 293.8L565.3 294.0L564.4 291.9Z M563.0 279.7L565.3 279.9L564.3 277.8Z M562.7 264.9L564.9 265.3L564.1 263.1Z M562.4 250.1L564.7 250.6L564.0 248.4Z M562.2 235.1L564.4 235.7L563.8 233.5Z M562.0 220.2L564.2 220.9L563.7 218.6Z M562.1 206.2L564.3 206.8L563.8 204.6Z M562.3 192.4L564.5 192.9L563.9 190.7Z M561.7 174.8L563.8 175.8L563.6 173.5Z M561.7 160.2L563.8 161.2L563.6 158.9Z M561.8 146.5L564.0 147.4L563.7 145.1Z M563.3 122.9L564.6 124.8L565.6 122.8Z M567.2 103.2L567.5 105.4L569.3 104.0Z M567.9 111.6L570.0 110.7L568.1 109.4Z M571.4 98.3L573.2 96.8L571.0 96.1Z M571.8 83.1L573.5 81.6L571.3 80.9Z M571.9 67.7L573.6 66.1L571.4 65.4Z M571.7 52.0L573.4 50.5L571.2 49.7Z" fill="#000080"/>
<rect x="168" y="38" width="1" height="427" fill="#000"/>
<rect x="236" y="38" width="1" height="427" fill="#000"/>
<rect x="304" y="38" width="1" height="427" fill="#000"/>
<rect x="372" y="38" width="1" height="427" fill="#000"/>
<rect x="440" y="38" width="1" height="427" fill="#000"/>
<rect x="508" y="38" width="1" height="427" fill="#000"/>
<rect x="155" y="115" width="420" height="1" fill="#000"/>
<rect x="155" y="188" width="420" height="1" fill="#000"/>
<rect x="155" y="259" width="420" height="1" fill="#000"/>
<rect x="155" y="329" width="420" height="1" fill="#000"/>
<rect x="155" y="397" width="420" height="1" fill="#000"/>
<path d="M150.0 30.0 L465.6 30.0 L465.6 38.0 L464.3 42.7 L460.2 45.4 L458.9 49.4 L459.6 53.4 L461.6 56.1 L458.9 58.8 L457.6 61.4 L454.9 63.4 L452.9 66.8 L449.5 68.1 L448.9 70.1 L447.5 74.8 L446.2 78.8 L443.5 82.2 L442.2 85.5 L434.8 86.9 L433.5 89.5 L434.5 93.6 L435.5 97.6 L434.1 101.6 L432.1 104.9 L428.8 108.3 L426.8 111.0 L425.7 111.4 L423.0 114.1 L420.3 116.7 L417.0 118.7 L414.3 120.1 L409.6 121.4 L410.3 123.4 L412.3 124.8 L409.6 127.4 L406.3 130.1 L402.9 132.8 L398.9 134.1 L396.2 136.1 L392.9 138.2 L392.2 141.5 L390.9 143.5 L386.9 144.8 L381.5 146.2 L377.5 146.9 L372.1 147.1 L367.4 147.5 L364.8 148.9 L360.1 150.2 L356.7 150.9 L354.1 150.2 L353.4 146.9 L352.7 144.2 L350.0 144.2 L350.0 146.9 L348.0 149.5 L345.4 150.2 L344.0 152.2 L344.7 154.9 L346.7 157.6 L344.0 159.6 L340.0 160.9 L338.4 162.4 L334.3 163.8 L330.3 164.5 L325.0 165.8 L319.6 167.1 L315.6 167.8 L311.6 169.1 L309.6 170.5 L307.6 173.2 L306.9 175.8 L308.9 177.8 L310.9 180.5 L311.8 183.9 L310.9 186.5 L308.9 187.6 L306.2 186.5 L304.2 184.5 L302.9 180.5 L301.5 176.5 L300.9 173.2 L302.9 170.5 L303.5 167.8 L301.5 166.5 L299.5 165.1 L298.2 163.8 L296.2 166.5 L293.5 167.1 L290.8 165.1 L288.2 163.8 L285.5 161.8 L283.5 163.1 L280.1 165.1 L276.1 167.1 L272.1 169.1 L269.4 170.5 L268.7 173.2 L262.0 173.8 L258.7 174.5 L259.4 177.2 L258.0 180.5 L256.0 183.9 L254.0 186.5 L252.0 187.9 L250.0 188.5 L251.1 187.7 L248.8 190.4 L247.8 194.4 L247.1 198.4 L245.1 202.4 L247.1 206.4 L249.1 209.8 L251.8 212.4 L255.1 215.1 L257.1 218.5 L258.5 221.8 L261.1 225.2 L263.8 228.5 L266.5 231.9 L269.8 234.5 L273.2 237.9 L276.5 241.2 L279.9 243.9 L283.2 247.2 L285.2 250.6 L287.2 254.6 L289.3 257.3 L289.9 260.0 L290.2 259.0 L291.5 263.0 L292.9 267.0 L293.8 272.4 L294.2 277.8 L294.9 283.1 L296.2 287.8 L296.9 290.5 L294.9 293.2 L294.2 296.5 L294.9 300.5 L293.5 304.5 L291.5 307.9 L289.5 311.2 L286.2 313.2 L282.8 315.2 L279.5 317.2 L276.1 319.3 L272.1 321.3 L268.1 321.9 L264.8 322.6 L262.1 323.9 L260.7 327.3 L260.1 330.0 L261.3 327.1 L259.3 329.8 L257.9 333.2 L255.9 335.2 L253.9 336.5 L251.2 337.8 L247.9 339.8 L244.5 341.9 L241.2 343.9 L238.5 345.9 L235.8 347.2 L233.8 345.9 L234.5 341.9 L234.9 337.8 L235.2 333.8 L235.8 329.8 L233.8 327.1 L231.1 324.5 L230.5 322.4 L227.8 321.8 L224.5 321.1 L221.8 321.8 L219.1 320.4 L217.1 319.1 L215.1 320.4 L213.7 317.8 L215.7 315.1 L217.1 312.4 L215.1 313.1 L213.1 315.1 L211.1 312.4 L209.7 308.4 L208.4 304.4 L207.0 300.4 L205.7 296.3 L206.9 303.8 L204.2 301.1 L201.5 298.5 L198.9 295.8 L196.2 293.1 L192.8 291.1 L188.8 292.4 L184.8 292.4 L181.5 291.8 L180.1 288.4 L181.5 285.1 L182.1 281.1 L178.8 280.4 L175.4 279.7 L171.4 280.4 L168.7 281.7 L168.1 283.7 L169.4 287.1 L169.4 291.8 L168.7 297.1 L168.1 300.5 L166.7 303.8 L165.4 306.5 L164.1 309.8 L162.7 313.2 L162.0 316.5 L160.7 319.9 L158.7 322.6 L158.0 325.9 L158.0 329.3 L158.0 333.3 L158.7 337.3 L160.0 340.0 L158.3 334.0 L159.1 338.0 L161.4 339.6 L164.1 338.7 L167.4 338.0 L168.7 340.7 L169.4 344.7 L170.7 348.7 L172.1 352.1 L173.4 356.1 L174.1 360.1 L174.8 364.1 L176.1 367.5 L178.8 369.5 L182.1 370.8 L185.5 372.2 L188.8 372.2 L191.5 373.5 L192.8 376.2 L194.8 378.9 L197.5 380.9 L200.2 382.2 L202.9 384.9 L205.6 387.6 L208.2 390.2 L210.9 392.9 L212.9 396.3 L214.3 399.6 L215.3 405.0 L214.9 399.0 L215.6 403.0 L214.9 408.4 L214.3 413.7 L215.6 419.1 L216.3 423.1 L218.3 428.5 L221.0 432.5 L223.0 436.5 L224.3 440.5 L225.0 443.9 L222.3 445.2 L218.3 445.9 L215.6 446.5 L212.9 445.9 L210.2 443.2 L207.6 441.2 L204.9 439.2 L202.2 437.2 L198.9 435.2 L195.5 433.2 L192.2 431.1 L189.5 429.1 L187.5 427.1 L186.1 423.8 L184.8 420.4 L182.8 417.1 L180.8 413.7 L178.8 409.7 L177.4 405.7 L177.4 401.7 L176.1 398.3 L174.1 395.0 L174.8 396.9 L174.1 392.9 L173.4 388.9 L172.8 384.9 L172.1 380.9 L171.4 376.9 L170.1 374.8 L167.4 372.8 L165.4 370.2 L163.4 367.5 L162.0 364.1 L159.4 361.5 L158.0 358.1 L155.4 356.8 L150.0 356.8 L150.0 30.0Z M287.9 197.0 L291.9 193.7 L296.0 191.7 L300.0 190.4 L305.3 188.7 L310.7 187.0 L314.7 187.0 L317.4 189.7 L317.4 192.4 L315.4 195.7 L314.0 199.1 L312.0 202.4 L310.0 205.1 L306.7 207.8 L304.0 209.8 L300.6 211.8 L298.0 213.1 L294.6 212.4 L291.3 211.1 L287.9 209.1 L286.6 206.4 L285.9 203.1 L285.9 199.7Z M460.9 110.7 L463.5 112.0 L466.0 114.1 L465.2 117.4 L465.6 121.4 L464.9 125.4 L463.5 129.5 L462.2 133.5 L460.6 137.5 L458.9 141.5 L456.9 144.8 L454.8 148.2 L453.1 151.5 L452.6 154.9 L452.2 158.9 L450.2 158.9 L449.5 155.6 L447.5 152.9 L444.8 150.2 L442.8 146.9 L441.9 142.8 L441.9 138.8 L442.4 134.8 L443.5 131.5 L445.5 128.1 L447.5 124.8 L449.5 121.4 L451.5 118.1 L453.5 115.4 L456.2 113.4 L458.9 112.3Z M449.1 209.7 L451.8 208.4 L455.8 209.1 L459.8 211.1 L463.2 213.1 L466.5 213.1 L468.5 211.1 L469.8 209.1 L471.2 211.1 L471.2 214.4 L469.8 217.1 L470.5 220.4 L471.2 223.8 L471.9 227.1 L473.9 229.8 L473.5 233.2 L472.5 235.8 L471.2 238.5 L469.2 240.5 L466.5 242.5 L464.5 244.5 L462.5 246.5 L461.1 249.9 L460.7 250.0 L459.1 253.2 L458.3 254.8 L459.9 257.2 L461.1 260.4 L461.5 263.7 L461.9 266.9 L462.7 269.3 L463.9 271.0 L464.0 272.9 L468.0 274.5 L472.0 276.9 L475.3 280.9 L476.1 284.9 L474.9 284.9 L473.7 281.7 L471.2 278.9 L468.0 276.9 L464.0 275.3 L462.3 274.1 L460.7 274.9 L459.1 276.5 L457.5 278.1 L455.9 276.5 L453.5 274.9 L453.1 273.3 L450.3 273.3 L449.1 271.7 L449.5 270.1 L451.1 268.9 L453.1 267.3 L453.9 265.3 L452.7 264.1 L451.1 262.9 L449.9 263.7 L449.1 266.1 L447.4 266.9 L446.6 264.9 L446.2 262.9 L444.6 262.0 L443.0 261.2 L441.4 259.6 L440.6 257.2 L440.2 254.0 L440.2 250.0 L439.7 248.5 L437.7 245.9 L438.4 243.9 L441.1 244.5 L443.7 243.9 L445.1 241.2 L445.1 237.2 L445.7 233.2 L446.2 229.1 L445.1 225.1 L445.7 221.8 L447.1 217.8 L447.8 213.7Z M471.6 272.0 L474.5 269.6 L478.9 270.0 L481.5 272.7 L482.9 275.3 L484.5 277.8 L485.7 275.7 L488.1 275.3 L492.5 275.7 L492.1 277.7 L488.5 278.1 L488.3 279.7 L489.9 282.3 L491.5 284.7 L492.8 287.7 L491.5 289.4 L488.5 288.1 L485.9 285.9 L484.1 283.1 L482.5 280.5 L479.7 279.0 L477.5 276.1 L475.7 274.1 L472.9 273.7Z M493.3 289.7 L495.7 289.3 L495.3 292.1 L493.7 292.5Z M447.0 281.7 L449.5 280.9 L452.7 281.3 L455.9 282.1 L458.3 284.5 L459.5 287.8 L459.9 291.8 L459.9 295.0 L460.3 290.0 L459.9 292.4 L458.3 295.6 L456.7 297.6 L455.1 296.4 L453.5 293.2 L451.1 290.0 L452.3 292.6 L451.1 289.4 L450.3 286.1 L448.7 283.7Z M464.8 281.3 L467.6 280.9 L468.0 282.9 L466.0 283.7Z M496.5 273.3 L498.2 272.9 L499.4 275.3 L499.0 278.1 L496.9 279.7 L496.1 278.1 L496.3 275.3Z M466.3 303.3 L468.7 304.5 L471.9 306.1 L475.2 307.3 L478.4 308.1 L481.6 309.3 L482.4 310.9 L480.8 312.9 L478.8 314.9 L476.4 316.9 L474.4 318.5 L471.9 320.1 L469.5 321.3 L467.9 321.7 L467.1 319.7 L467.1 317.3 L467.5 314.9 L467.9 312.5 L467.9 310.1 L468.3 307.7 L467.1 305.3Z M484.9 295.3 L487.7 294.9 L490.5 296.9 L492.9 299.0 L494.9 301.0 L493.7 301.8 L491.3 300.2 L488.5 298.6 L485.7 297.3Z M499.1 295.7 L502.3 294.9 L505.5 294.1 L508.7 294.1 L511.1 294.9 L512.8 296.9 L514.4 299.3 L514.8 301.7 L514.0 304.1 L514.8 306.5 L515.6 308.9 L516.0 311.7 L514.4 312.9 L511.9 312.5 L510.3 310.9 L508.7 309.7 L507.9 307.3 L508.3 304.9 L507.1 303.3 L505.5 301.7 L503.9 300.1 L501.9 298.5 L499.9 297.3Z M500.7 311.7 L503.1 310.9 L505.9 310.5 L507.1 312.1 L507.5 314.5 L507.1 316.9 L507.9 319.4 L508.7 321.8 L509.5 325.0 L508.5 318.2 L510.1 321.4 L510.7 324.1 L508.5 325.2 L506.4 323.6 L505.3 320.4 L504.8 317.1 L505.5 322.6 L505.1 320.2 L504.7 317.8 L503.1 316.1 L501.1 315.7 L500.3 313.7Z M481.2 316.6 L486.0 316.1 L487.1 319.3 L486.6 323.6 L485.5 327.8 L484.4 332.1 L483.9 336.4 L484.4 339.6 L482.3 341.2 L480.2 340.2 L478.6 337.5 L476.4 335.3 L474.3 333.7 L473.2 331.6 L475.3 330.0 L478.0 328.9 L479.6 325.7 L480.2 321.4 L480.7 318.2Z M492.5 317.1 L494.1 318.7 L493.5 322.5 L491.4 325.7 L489.3 328.9 L487.7 332.1 L486.6 335.9 L485.5 336.4 L486.0 333.2 L487.1 330.0 L488.7 326.2 L490.3 322.5 L491.4 319.3Z M492.5 330.5 L495.1 328.4 L497.8 327.3 L500.5 328.9 L501.0 331.6 L498.9 333.2 L495.7 333.7 L493.0 332.7Z M466.2 370.2 L467.3 367.5 L468.9 364.3 L470.5 361.1 L472.1 358.4 L474.8 356.2 L478.0 355.2 L480.7 354.1 L481.2 350.9 L483.4 349.3 L486.6 348.2 L489.8 348.2 L491.9 350.4 L491.9 354.1 L490.9 356.8 L492.5 356.2 L495.7 354.6 L498.4 353.0 L498.9 350.4 L501.6 348.7 L504.3 348.2 L505.3 346.1 L506.9 343.4 L510.1 343.4 L512.8 342.3 L515.0 340.2 L515.5 336.4 L514.4 333.7 L516.6 334.3 L518.7 336.4 L520.8 339.1 L523.0 341.8 L524.6 345.0 L525.7 345.0 L524.6 348.2 L526.2 351.4 L527.3 354.6 L526.7 357.8 L528.3 361.1 L528.9 364.3 L528.3 367.5 L526.7 369.6 L524.6 371.2 L523.5 373.9 L524.1 376.6 L523.0 376.0 L522.5 372.8 L521.9 370.2 L520.3 368.0 L518.7 365.9 L517.6 366.4 L516.6 368.6 L515.5 371.2 L514.4 373.9 L515.0 376.6 L516.6 379.3 L516.6 382.5 L515.5 385.1 L513.9 387.3 L512.3 387.8 L510.7 385.7 L510.1 383.5 L507.5 384.6 L504.8 384.1 L502.1 383.0 L499.4 381.9 L497.3 380.3 L495.7 378.2 L495.1 375.5 L495.7 372.3 L494.6 370.7 L496.2 368.6 L497.8 366.4 L497.8 363.7 L496.2 361.6 L494.1 360.0 L491.4 358.9 L489.8 358.4 L487.7 360.0 L486.0 362.7 L484.4 361.1 L482.8 360.0 L481.8 362.7 L479.6 362.1 L478.6 364.3 L476.9 362.1 L475.3 360.5 L473.7 362.1 L472.1 364.8 L470.5 367.5 L468.9 370.2 L467.3 371.2Z M466.2 375.0 L468.4 373.9 L470.0 375.5 L468.9 377.7 L466.8 377.7Z M433.7 318.2 L435.3 320.3 L434.3 323.0 L432.1 324.6 L430.0 326.2 L427.8 327.8 L425.7 328.9 L423.0 330.0 L421.9 332.1 L420.9 334.8 L419.3 337.5 L417.1 339.6 L414.4 340.7 L412.3 342.3 L410.2 344.4 L408.0 346.6 L405.9 348.2 L403.7 349.8 L403.2 348.7 L404.8 346.6 L406.9 343.9 L409.1 341.8 L411.8 340.1 L414.4 338.0 L416.6 335.9 L418.2 333.7 L420.3 331.6 L421.9 328.9 L424.1 326.8 L426.2 324.6 L428.4 323.0 L430.5 320.9 L432.1 318.7Z M293.4 480.3 L291.4 461.6 L290.1 457.6 L290.1 453.5 L291.4 449.5 L292.1 445.5 L294.1 442.2 L296.8 439.5 L298.8 440.2 L300.1 442.2 L302.8 442.8 L306.1 442.2 L309.5 441.5 L312.2 442.8 L314.8 443.5 L317.5 442.2 L319.5 440.2 L320.9 436.8 L322.2 433.5 L321.5 430.1 L322.9 428.1 L326.2 426.8 L330.2 425.4 L334.3 424.1 L338.3 423.4 L342.3 422.8 L345.6 421.4 L348.3 419.4 L350.3 416.7 L353.0 414.1 L355.7 411.4 L357.7 408.7 L359.0 405.4 L361.0 403.3 L363.7 401.3 L370.1 397.9 L373.4 396.5 L376.1 393.9 L378.1 391.2 L380.8 389.2 L383.5 386.5 L386.1 383.8 L388.8 380.5 L391.5 377.8 L394.2 375.1 L396.9 372.4 L399.5 371.1 L401.5 370.4 L402.9 373.1 L404.9 375.1 L407.6 377.1 L408.9 379.8 L407.6 382.5 L408.9 384.5 L411.6 385.2 L414.3 386.5 L418.3 387.8 L422.3 389.8 L426.3 391.2 L430.3 392.5 L430.3 395.2 L427.0 396.5 L423.0 397.2 L418.9 397.9 L415.6 398.5 L414.9 400.6 L418.3 401.9 L421.6 403.9 L419.6 405.9 L415.6 405.2 L412.9 406.6 L410.2 409.4 L411.6 413.4 L408.9 416.1 L403.5 416.7 L404.9 420.1 L406.2 423.4 L408.9 426.8 L410.9 429.5 L412.9 432.1 L414.9 434.1 L412.9 435.5 L409.6 436.1 L410.2 439.5 L413.6 441.5 L416.9 444.2 L419.6 446.9 L422.3 448.9 L425.0 450.9 L426.3 452.2 L422.3 452.9 L418.3 452.9 L414.3 453.5 L410.9 454.2 L408.9 456.2 L407.6 458.9 L406.2 461.6 L405.6 480.3Z M150.0 417.1 L155.4 417.1 L158.7 419.1 L162.0 421.8 L166.1 424.5 L168.7 427.8 L171.4 430.5 L174.8 433.2 L178.1 435.2 L182.1 437.2 L186.1 439.8 L190.2 441.9 L194.2 443.9 L197.5 445.9 L200.9 449.9 L203.5 452.6 L206.2 455.2 L209.6 457.9 L212.9 459.3 L216.9 461.3 L219.6 463.9 L219.6 475.3 L163.4 475.3 L162.0 463.9 L159.4 461.9 L156.7 457.9 L155.4 452.6 L150.0 452.6Z M438.0 466.0 L440.0 460.0 L443.0 456.0 L448.0 454.0 L452.0 449.5 L456.0 448.5 L460.0 450.0 L466.0 451.0 L472.0 452.0 L478.0 452.5 L480.0 452.6 L486.7 453.9 L493.4 453.2 L497.4 451.2 L501.4 447.9 L505.4 444.3 L509.2 441.6 L511.3 444.0 L510.0 447.9 L506.1 451.5 L502.1 455.2 L498.7 458.6 L493.4 460.6 L486.7 460.6 L480.0 459.3 L474.0 459.0 L468.0 458.5 L462.0 459.0 L456.0 460.0 L450.0 461.0 L446.0 463.0 L442.0 466.0Z M551.6 433.8 L553.6 431.1 L556.3 430.1 L557.9 431.8 L557.4 434.5 L555.0 436.8 L552.3 436.8Z M542.9 439.8 L546.3 438.5 L548.3 441.2 L548.5 445.2 L547.6 448.5 L545.6 451.0 L542.2 451.2 L540.9 447.9 L541.3 443.9Z M549.6 446.5 L553.0 445.2 L557.0 444.5 L559.0 446.5 L557.6 449.9 L555.6 452.6 L553.0 454.6 L555.0 457.2 L558.3 459.3 L560.3 461.9 L556.3 460.6 L553.0 459.3 L549.6 457.9 L546.9 459.3 L546.3 464.6 L544.3 463.9 L544.0 459.3 L544.9 455.9 L546.9 453.9 L548.5 450.6Z" fill="#c0c0c0" stroke="#000" stroke-width="1.3" stroke-linejoin="miter"/>
<path d="M465.6 38.0 L464.3 42.7 L460.2 45.4 L458.9 49.4 L459.6 53.4 L461.6 56.1 L458.9 58.8 L457.6 61.4 L454.9 63.4 L452.9 66.8 L449.5 68.1 L448.9 70.1 L447.5 74.8 L446.2 78.8 L443.5 82.2 L442.2 85.5 L434.8 86.9 L433.5 89.5 L434.5 93.6 L435.5 97.6 L434.1 101.6 L432.1 104.9 L428.8 108.3 L426.8 111.0 L425.7 111.4 L423.0 114.1 L420.3 116.7 L417.0 118.7 L414.3 120.1 L409.6 121.4 L410.3 123.4 L412.3 124.8 L409.6 127.4 L406.3 130.1 L402.9 132.8 L398.9 134.1 L396.2 136.1 L392.9 138.2 L392.2 141.5 L390.9 143.5 L386.9 144.8 L381.5 146.2 L377.5 146.9 L372.1 147.1 L367.4 147.5 L364.8 148.9 L360.1 150.2 L356.7 150.9 L354.1 150.2 L353.4 146.9 L352.7 144.2 L350.0 144.2 L350.0 146.9 L348.0 149.5 L345.4 150.2 L344.0 152.2 L344.7 154.9 L346.7 157.6 L344.0 159.6 L340.0 160.9 L338.4 162.4 L334.3 163.8 L330.3 164.5 L325.0 165.8 L319.6 167.1 L315.6 167.8 L311.6 169.1 L309.6 170.5 L307.6 173.2 L306.9 175.8 L308.9 177.8 L310.9 180.5 L311.8 183.9 L310.9 186.5 L308.9 187.6 L306.2 186.5 L304.2 184.5 L302.9 180.5 L301.5 176.5 L300.9 173.2 L302.9 170.5 L303.5 167.8 L301.5 166.5 L299.5 165.1 L298.2 163.8 L296.2 166.5 L293.5 167.1 L290.8 165.1 L288.2 163.8 L285.5 161.8 L283.5 163.1 L280.1 165.1 L276.1 167.1 L272.1 169.1 L269.4 170.5 L268.7 173.2 L262.0 173.8 L258.7 174.5 L259.4 177.2 L258.0 180.5 L256.0 183.9 L254.0 186.5 L252.0 187.9" fill="none" stroke="#000" stroke-width="2.4" stroke-linejoin="round" transform="translate(0.6,0.6)"/>
<path d="M449.1 209.7 L451.8 208.4 L455.8 209.1 L459.8 211.1 L463.2 213.1 L466.5 213.1 L468.5 211.1 L469.8 209.1 L471.2 211.1 L471.2 214.4 L469.8 217.1 L470.5 220.4 L471.2 223.8 L471.9 227.1 L473.9 229.8 L473.5 233.2 L472.5 235.8 L471.2 238.5 L469.2 240.5 L466.5 242.5 L464.5 244.5 L462.5 246.5 L461.1 249.9 L460.7 250.0 L459.1 253.2 L458.3 254.8 L459.9 257.2 L461.1 260.4 L461.5 263.7 L461.9 266.9 L462.7 269.3 L463.9 271.0 L464.0 272.9 L468.0 274.5 L472.0 276.9 L475.3 280.9 L476.1 284.9 L474.9 284.9 L473.7 281.7 L471.2 278.9 L468.0 276.9 L464.0 275.3 L462.3 274.1 L460.7 274.9 L459.1 276.5 L457.5 278.1 L455.9 276.5 L453.5 274.9 L453.1 273.3 L450.3 273.3 L449.1 271.7 L449.5 270.1 L451.1 268.9 L453.1 267.3 L453.9 265.3 L452.7 264.1 L451.1 262.9 L449.9 263.7 L449.1 266.1 L447.4 266.9 L446.6 264.9 L446.2 262.9 L444.6 262.0 L443.0 261.2 L441.4 259.6 L440.6 257.2 L440.2 254.0 L440.2 250.0 L439.7 248.5 L437.7 245.9 L438.4 243.9 L441.1 244.5 L443.7 243.9 L445.1 241.2 L445.1 237.2 L445.7 233.2 L446.2 229.1 L445.1 225.1 L445.7 221.8 L447.1 217.8 L447.8 213.7Z M447.0 281.7 L449.5 280.9 L452.7 281.3 L455.9 282.1 L458.3 284.5 L459.5 287.8 L459.9 291.8 L459.9 295.0 L460.3 290.0 L459.9 292.4 L458.3 295.6 L456.7 297.6 L455.1 296.4 L453.5 293.2 L451.1 290.0 L452.3 292.6 L451.1 289.4 L450.3 286.1 L448.7 283.7Z M466.3 303.3 L468.7 304.5 L471.9 306.1 L475.2 307.3 L478.4 308.1 L481.6 309.3 L482.4 310.9 L480.8 312.9 L478.8 314.9 L476.4 316.9 L474.4 318.5 L471.9 320.1 L469.5 321.3 L467.9 321.7 L467.1 319.7 L467.1 317.3 L467.5 314.9 L467.9 312.5 L467.9 310.1 L468.3 307.7 L467.1 305.3Z M481.2 316.6 L486.0 316.1 L487.1 319.3 L486.6 323.6 L485.5 327.8 L484.4 332.1 L483.9 336.4 L484.4 339.6 L482.3 341.2 L480.2 340.2 L478.6 337.5 L476.4 335.3 L474.3 333.7 L473.2 331.6 L475.3 330.0 L478.0 328.9 L479.6 325.7 L480.2 321.4 L480.7 318.2Z M499.1 295.7 L502.3 294.9 L505.5 294.1 L508.7 294.1 L511.1 294.9 L512.8 296.9 L514.4 299.3 L514.8 301.7 L514.0 304.1 L514.8 306.5 L515.6 308.9 L516.0 311.7 L514.4 312.9 L511.9 312.5 L510.3 310.9 L508.7 309.7 L507.9 307.3 L508.3 304.9 L507.1 303.3 L505.5 301.7 L503.9 300.1 L501.9 298.5 L499.9 297.3Z M500.7 311.7 L503.1 310.9 L505.9 310.5 L507.1 312.1 L507.5 314.5 L507.1 316.9 L507.9 319.4 L508.7 321.8 L509.5 325.0 L508.5 318.2 L510.1 321.4 L510.7 324.1 L508.5 325.2 L506.4 323.6 L505.3 320.4 L504.8 317.1 L505.5 322.6 L505.1 320.2 L504.7 317.8 L503.1 316.1 L501.1 315.7 L500.3 313.7Z M466.2 370.2 L467.3 367.5 L468.9 364.3 L470.5 361.1 L472.1 358.4 L474.8 356.2 L478.0 355.2 L480.7 354.1 L481.2 350.9 L483.4 349.3 L486.6 348.2 L489.8 348.2 L491.9 350.4 L491.9 354.1 L490.9 356.8 L492.5 356.2 L495.7 354.6 L498.4 353.0 L498.9 350.4 L501.6 348.7 L504.3 348.2 L505.3 346.1 L506.9 343.4 L510.1 343.4 L512.8 342.3 L515.0 340.2 L515.5 336.4 L514.4 333.7 L516.6 334.3 L518.7 336.4 L520.8 339.1 L523.0 341.8 L524.6 345.0 L525.7 345.0 L524.6 348.2 L526.2 351.4 L527.3 354.6 L526.7 357.8 L528.3 361.1 L528.9 364.3 L528.3 367.5 L526.7 369.6 L524.6 371.2 L523.5 373.9 L524.1 376.6 L523.0 376.0 L522.5 372.8 L521.9 370.2 L520.3 368.0 L518.7 365.9 L517.6 366.4 L516.6 368.6 L515.5 371.2 L514.4 373.9 L515.0 376.6 L516.6 379.3 L516.6 382.5 L515.5 385.1 L513.9 387.3 L512.3 387.8 L510.7 385.7 L510.1 383.5 L507.5 384.6 L504.8 384.1 L502.1 383.0 L499.4 381.9 L497.3 380.3 L495.7 378.2 L495.1 375.5 L495.7 372.3 L494.6 370.7 L496.2 368.6 L497.8 366.4 L497.8 363.7 L496.2 361.6 L494.1 360.0 L491.4 358.9 L489.8 358.4 L487.7 360.0 L486.0 362.7 L484.4 361.1 L482.8 360.0 L481.8 362.7 L479.6 362.1 L478.6 364.3 L476.9 362.1 L475.3 360.5 L473.7 362.1 L472.1 364.8 L470.5 367.5 L468.9 370.2 L467.3 371.2Z" fill="none" stroke="#000" stroke-width="1.7" stroke-linejoin="round"/>
<path d="M155.0 143.0 L162.0 143.6 L161.0 149.0 L158.0 152.0 L159.0 157.0 L164.0 158.0 L169.0 160.0 L171.0 166.0 L177.0 167.0 L183.0 164.0 L185.0 168.0 L193.0 171.0 L192.0 164.0 L190.0 156.0 L193.0 153.0 L198.0 152.4 L202.0 149.0 L207.0 150.0 L210.0 152.0 L214.0 148.0 L219.0 149.0 L222.0 150.0 L228.0 147.0 L234.0 145.0 L238.0 140.0 L242.0 139.6 L246.0 143.0 L252.0 145.0 L259.0 147.0 L260.0 150.0 L258.0 154.0 L261.0 159.0 L266.0 162.0 L272.0 164.0 L276.0 167.0 M185.0 168.0 L180.0 172.0 L176.0 177.0 L171.0 180.0 L170.0 183.0 L164.0 183.0 L158.0 186.0 L155.0 188.0 M171.0 182.0 L175.0 186.0 L175.0 193.0 L180.0 195.0 L186.0 195.0 L187.0 202.0 L186.0 210.0 L183.0 216.0 L182.0 223.0 L185.0 224.0 L190.0 219.0 L197.0 215.0 L203.0 218.0 L208.0 216.0 L214.0 211.0 L220.0 212.0 L225.0 214.0 L229.0 221.0 L233.0 227.0 L235.0 234.0 L236.0 242.0 L240.0 244.0 L243.0 250.0 L244.0 256.0 L243.0 264.0 L240.0 268.0 M198.0 152.4 L203.0 158.0 L208.0 162.0 L209.0 169.0 L212.0 175.0 L218.0 178.0 L225.0 175.0 L230.0 178.0 L232.0 184.0 L236.0 188.0 L233.0 192.0 L226.0 194.0 L223.0 199.0 L229.0 203.0 L236.0 206.0 L240.0 210.0 L243.0 216.0 L248.0 222.0 L252.0 228.0 L256.0 234.0 L259.0 240.0 L265.0 240.0 L268.0 246.0 L271.0 251.0 L273.0 256.0 L270.0 260.0 L268.0 266.0 M240.0 268.0 L234.0 268.0 L226.0 268.0 L218.0 268.0 L210.0 270.0 L206.0 274.0 L202.0 279.0 L201.0 284.0 L203.0 290.0 L206.0 296.0 L208.0 300.0 L210.0 304.0 M240.0 268.0 L244.0 272.0 L249.0 271.0 L252.0 267.0 L258.0 266.0 L264.0 268.0 L268.0 266.0 L270.0 272.0 L271.0 280.0 L272.0 288.0 L271.0 296.0 L266.0 299.0 L261.0 301.0 L256.0 304.0 L250.0 305.0 L248.0 310.0 L249.0 315.0 L244.0 317.0 L238.0 316.0 L237.0 310.0 L236.0 320.0 M155.0 274.0 L158.0 275.0 L157.0 282.0 L159.0 290.0 L163.0 298.0 L164.0 302.0 L160.0 308.0 L158.0 314.0 L156.0 317.0 M172.1 374.8 L174.1 376.9 L178.8 378.2 L182.1 380.9 L183.5 386.2 L185.5 387.6 L188.8 385.6 L192.8 386.2 L196.2 383.5 L197.5 381.5 M298.8 440.2 L302.1 445.5 L306.1 449.5 L310.2 452.2 L315.5 452.9 L320.9 450.9 L326.2 451.5 L331.6 450.2 L334.3 446.2 L338.3 444.8 L343.6 444.2 L347.6 446.2 L353.0 447.5 L358.4 446.2 L363.7 445.5 L367.7 442.8 L370.0 438.8 L367.4 444.2 L370.1 434.8 L374.8 430.8 L374.1 426.8 L378.8 424.1 L380.1 416.1 L381.5 409.4 L384.1 406.7 L392.8 406.0 L403.5 406.7 L407.6 406.7 M361.4 403.2 L367.4 411.3 L370.1 407.9 L370.1 399.9 L372.1 399.2 L372.8 405.2 L376.8 405.9 L376.1 398.5 M306.0 136.0 L309.0 137.5 L313.0 137.0 L317.0 138.5 L321.0 138.0 L324.0 137.0 M386.0 43.0 L389.0 44.0 L392.0 43.0 L396.0 42.0" fill="none" stroke="#000" stroke-width="1.15"/>
<ellipse cx="462" cy="47" rx="2.5" ry="2" fill="#000"/>
<ellipse cx="465" cy="51" rx="2" ry="2.5" fill="#000"/>
<ellipse cx="463" cy="57" rx="2" ry="2" fill="#000"/>
<ellipse cx="466" cy="60" rx="1.5" ry="1.5" fill="#000"/>
<ellipse cx="458" cy="62" rx="1.5" ry="1.5" fill="#000"/>
<ellipse cx="451" cy="67" rx="2" ry="1.5" fill="#000"/>
<ellipse cx="453" cy="71" rx="1.5" ry="1.5" fill="#000"/>
<ellipse cx="447" cy="76" rx="1.5" ry="1.5" fill="#000"/>
<ellipse cx="437" cy="88" rx="3" ry="2" fill="#000"/>
<ellipse cx="436" cy="94" rx="2" ry="2" fill="#000"/>
<ellipse cx="432" cy="104" rx="2" ry="1.5" fill="#000"/>
<ellipse cx="429" cy="108" rx="2" ry="2" fill="#000"/>
<ellipse cx="569" cy="65.5" rx="5" ry="2.2" fill="#000" transform="rotate(-40 569 65.5)"/>
<ellipse cx="561" cy="73" rx="1.5" ry="1.5" fill="#000"/>
<ellipse cx="557" cy="79" rx="2" ry="1" fill="#000"/>
<ellipse cx="549" cy="92" rx="6" ry="2" fill="#000" transform="rotate(-50 549 92)"/>
<ellipse cx="537" cy="95" rx="4" ry="1" fill="#000"/>
<ellipse cx="533" cy="96" rx="1.5" ry="1" fill="#000"/>
<ellipse cx="495" cy="123" rx="5" ry="2" fill="#000" transform="rotate(-25 495 123)"/>
<ellipse cx="511" cy="118" rx="3" ry="1.5" fill="#000" transform="rotate(20 511 118)"/>
<ellipse cx="504" cy="119" rx="1.2" ry="1.2" fill="#000"/>
<ellipse cx="488" cy="103" rx="1.5" ry="0.8" fill="#000"/>
<ellipse cx="484" cy="95" rx="1.5" ry="0.8" fill="#000"/>
<ellipse cx="434" cy="137" rx="2" ry="3.5" fill="#000" transform="rotate(10 434 137)"/>
<ellipse cx="460" cy="148" rx="1.2" ry="1.2" fill="#000"/>
<ellipse cx="460" cy="158" rx="1" ry="1" fill="#000"/>
<ellipse cx="465" cy="178" rx="1.5" ry="5" fill="#000" transform="rotate(15 465 178)"/>
<ellipse cx="458" cy="200" rx="2.5" ry="2" fill="#000"/>
<ellipse cx="466" cy="204" rx="2" ry="2" fill="#000"/>
<ellipse cx="461" cy="196" rx="1.2" ry="1.2" fill="#000"/>
<ellipse cx="352" cy="146" rx="2" ry="3" fill="#000"/>
<ellipse cx="357" cy="150" rx="3" ry="2" fill="#000"/>
<ellipse cx="346" cy="152" rx="1.5" ry="2" fill="#000"/>
<ellipse cx="343" cy="157" rx="2" ry="2" fill="#000"/>
<ellipse cx="361" cy="147" rx="2" ry="1.5" fill="#000"/>
<ellipse cx="384" cy="144" rx="1.5" ry="1.5" fill="#000"/>
<ellipse cx="397" cy="139" rx="2" ry="1.5" fill="#000"/>
<ellipse cx="407" cy="131" rx="2" ry="1.5" fill="#000"/>
<ellipse cx="414" cy="125" rx="2" ry="1.5" fill="#000"/>
<ellipse cx="421" cy="120" rx="2" ry="1.5" fill="#000"/>
<ellipse cx="427" cy="114" rx="1.5" ry="1.5" fill="#000"/>
<ellipse cx="301" cy="166" rx="2" ry="1.5" fill="#000"/>
<ellipse cx="290" cy="167" rx="2" ry="1.5" fill="#000"/>
<ellipse cx="283" cy="165" rx="1.5" ry="1.5" fill="#000"/>
<ellipse cx="270" cy="171" rx="3" ry="1.5" fill="#000"/>
<ellipse cx="262" cy="175" rx="3" ry="1.5" fill="#000"/>
<ellipse cx="280" cy="412" rx="3" ry="4" fill="#000"/>
<ellipse cx="288" cy="428" rx="2" ry="2.5" fill="#000"/>
<ellipse cx="291" cy="431" rx="2" ry="1.5" fill="#000"/>
<ellipse cx="252" cy="423" rx="4" ry="2.5" fill="#000"/>
<ellipse cx="247" cy="425" rx="2" ry="2" fill="#000"/>
<ellipse cx="225" cy="427" rx="1.2" ry="1.2" fill="#000"/>
<ellipse cx="230" cy="432" rx="1.2" ry="1.2" fill="#000"/>
<ellipse cx="260" cy="347" rx="1.2" ry="0.8" fill="#000"/>
<ellipse cx="218" cy="447" rx="4" ry="2.5" fill="#000"/>
<ellipse cx="225" cy="451" rx="5" ry="3" fill="#000"/>
<ellipse cx="231" cy="454" rx="4" ry="3" fill="#000"/>
<ellipse cx="222" cy="456" rx="3" ry="2.5" fill="#000"/>
<ellipse cx="228" cy="460" rx="3" ry="3" fill="#000"/>
<ellipse cx="234" cy="449" rx="2.5" ry="2" fill="#000"/>
<ellipse cx="215" cy="452" rx="2" ry="2" fill="#000"/>
<ellipse cx="229" cy="446" rx="2" ry="1.5" fill="#000"/>
<ellipse cx="181.5" cy="437.5" rx="2" ry="3" fill="#000" transform="rotate(-20 181.5 437.5)"/>
<ellipse cx="190" cy="440" rx="2.2" ry="2.8" fill="#000"/>
<ellipse cx="200.5" cy="448" rx="2" ry="3" fill="#000"/>
<ellipse cx="206" cy="452.5" rx="4" ry="2.5" fill="#000" transform="rotate(20 206 452.5)"/>
<ellipse cx="212" cy="456" rx="3" ry="1.5" fill="#000"/>
<ellipse cx="440.5" cy="301" rx="3.5" ry="2.5" fill="#000"/>
<ellipse cx="437" cy="303" rx="2" ry="2" fill="#000"/>
<ellipse cx="432" cy="313" rx="2" ry="4" fill="#000" transform="rotate(-35 432 313)"/>
<ellipse cx="441" cy="303" rx="2" ry="2" fill="#000"/>
<ellipse cx="451" cy="311" rx="1" ry="1" fill="#000"/>
<ellipse cx="452" cy="315" rx="1.2" ry="1.2" fill="#000"/>
<ellipse cx="450" cy="318" rx="1" ry="1" fill="#000"/>
<ellipse cx="454" cy="317" rx="1" ry="1" fill="#000"/>
<ellipse cx="463" cy="284" rx="1" ry="1" fill="#000"/>
<ellipse cx="466" cy="288" rx="1" ry="1" fill="#000"/>
<ellipse cx="470" cy="291" rx="1" ry="1" fill="#000"/>
<ellipse cx="484" cy="290" rx="1.2" ry="1.2" fill="#000"/>
<ellipse cx="481" cy="297" rx="1.2" ry="1.2" fill="#000"/>
<ellipse cx="476" cy="294" rx="1.5" ry="1.5" fill="#000"/>
<ellipse cx="489" cy="340" rx="1.5" ry="1.2" fill="#000"/>
<ellipse cx="504" cy="341" rx="1.5" ry="2.5" fill="#000"/>
<ellipse cx="517" cy="330" rx="1.5" ry="3" fill="#000"/>
<ellipse cx="522" cy="331" rx="1" ry="1" fill="#000"/>
<ellipse cx="463" cy="376" rx="3.5" ry="2" fill="#000" transform="rotate(35 463 376)"/>
<ellipse cx="456" cy="384" rx="2.5" ry="1.5" fill="#000"/>
<ellipse cx="451" cy="381" rx="2" ry="1.5" fill="#000"/>
<ellipse cx="443" cy="394" rx="3" ry="1.5" fill="#000" transform="rotate(15 443 394)"/>
<ellipse cx="436" cy="397" rx="3" ry="1.5" fill="#000" transform="rotate(10 436 397)"/>
<ellipse cx="431" cy="399" rx="2" ry="1.5" fill="#000"/>
<ellipse cx="447" cy="392" rx="1.5" ry="1.2" fill="#000"/>
<ellipse cx="419.5" cy="370" rx="1.5" ry="1" fill="#000"/>
<ellipse cx="402" cy="366" rx="2" ry="1.5" fill="#000"/>
<ellipse cx="403" cy="361" rx="1.5" ry="1.5" fill="#000"/>
<ellipse cx="532" cy="406" rx="2" ry="3.2" fill="#000"/>
<ellipse cx="532" cy="412.5" rx="1.6" ry="2" fill="#000"/>
<ellipse cx="515.5" cy="417" rx="1.7" ry="2.8" fill="#000" transform="rotate(10 515.5 417)"/>
<ellipse cx="513" cy="430" rx="1.5" ry="2" fill="#000"/>
<ellipse cx="513" cy="436" rx="1.5" ry="2" fill="#000"/>
<ellipse cx="536.5" cy="401" rx="1.5" ry="1.2" fill="#000"/>
<ellipse cx="546" cy="429" rx="2" ry="1.2" fill="#000" transform="rotate(20 546 429)"/>
<ellipse cx="412" cy="412" rx="2.5" ry="2" fill="#000"/>
<ellipse cx="409" cy="417" rx="2" ry="2" fill="#000"/>
<ellipse cx="413" cy="423" rx="2" ry="1.5" fill="#000"/>
<ellipse cx="420" cy="435" rx="2" ry="1.5" fill="#000"/>
<ellipse cx="432" cy="406" rx="2" ry="1.5" fill="#000"/>
<ellipse cx="437" cy="400" rx="1.5" ry="1" fill="#000"/>
<ellipse cx="546" cy="450" rx="1" ry="2" fill="#000"/>
<ellipse cx="563" cy="451" rx="2" ry="1.5" fill="#000"/>
<ellipse cx="556" cy="444" rx="1" ry="1" fill="#000"/>
<ellipse cx="395" cy="43" rx="3" ry="0.8" fill="#000" transform="rotate(-10 395 43)"/>
<ellipse cx="391" cy="45" rx="1" ry="0.8" fill="#000"/>
<ellipse cx="427" cy="45" rx="1.5" ry="1" fill="#000"/>
<ellipse cx="280" cy="412" rx="1.8" ry="2.8" fill="#c0c0c0"/>
<ellipse cx="218" cy="447" rx="2.8" ry="1.3" fill="#c0c0c0"/>
<ellipse cx="181.5" cy="437.5" rx="0.8" ry="1.8" fill="#c0c0c0" transform="rotate(-20 181.5 437.5)"/>
<ellipse cx="190" cy="440" rx="1.0" ry="1.6" fill="#c0c0c0"/>
<ellipse cx="200.5" cy="448" rx="0.8" ry="1.8" fill="#c0c0c0"/>
<ellipse cx="206" cy="452.5" rx="2.8" ry="1.3" fill="#c0c0c0" transform="rotate(20 206 452.5)"/>
<ellipse cx="440.5" cy="301" rx="2.3" ry="1.3" fill="#c0c0c0"/>
<ellipse cx="532" cy="406" rx="0.8" ry="2.0" fill="#c0c0c0"/>
<ellipse cx="515.5" cy="417" rx="0.5" ry="1.6" fill="#c0c0c0" transform="rotate(10 515.5 417)"/>
<rect x="155" y="38" width="5" height="1.5" fill="#000"/>
</g>
<g shape-rendering="crispEdges">
<path d="M153 36H577V467H153Z M155 38V465H575V38Z" fill="#000" fill-rule="evenodd"/>
<rect x="168" y="38" width="1" height="5" fill="#000"/>
<rect x="168" y="460" width="1" height="5" fill="#000"/>
<rect x="195" y="38" width="1" height="5" fill="#000"/>
<rect x="195" y="460" width="1" height="5" fill="#000"/>
<rect x="222" y="38" width="1" height="5" fill="#000"/>
<rect x="222" y="460" width="1" height="5" fill="#000"/>
<rect x="250" y="38" width="1" height="5" fill="#000"/>
<rect x="250" y="460" width="1" height="5" fill="#000"/>
<rect x="277" y="38" width="1" height="5" fill="#000"/>
<rect x="277" y="460" width="1" height="5" fill="#000"/>
<rect x="304" y="38" width="1" height="5" fill="#000"/>
<rect x="304" y="460" width="1" height="5" fill="#000"/>
<rect x="331" y="38" width="1" height="5" fill="#000"/>
<rect x="331" y="460" width="1" height="5" fill="#000"/>
<rect x="358" y="38" width="1" height="5" fill="#000"/>
<rect x="358" y="460" width="1" height="5" fill="#000"/>
<rect x="386" y="38" width="1" height="5" fill="#000"/>
<rect x="386" y="460" width="1" height="5" fill="#000"/>
<rect x="413" y="38" width="1" height="5" fill="#000"/>
<rect x="413" y="460" width="1" height="5" fill="#000"/>
<rect x="440" y="38" width="1" height="5" fill="#000"/>
<rect x="440" y="460" width="1" height="5" fill="#000"/>
<rect x="467" y="38" width="1" height="5" fill="#000"/>
<rect x="467" y="460" width="1" height="5" fill="#000"/>
<rect x="494" y="38" width="1" height="5" fill="#000"/>
<rect x="494" y="460" width="1" height="5" fill="#000"/>
<rect x="522" y="38" width="1" height="5" fill="#000"/>
<rect x="522" y="460" width="1" height="5" fill="#000"/>
<rect x="549" y="38" width="1" height="5" fill="#000"/>
<rect x="549" y="460" width="1" height="5" fill="#000"/>
<rect x="155" y="438" width="5" height="1" fill="#000"/>
<rect x="570" y="438" width="5" height="1" fill="#000"/>
<rect x="155" y="411" width="5" height="1" fill="#000"/>
<rect x="570" y="411" width="5" height="1" fill="#000"/>
<rect x="155" y="384" width="5" height="1" fill="#000"/>
<rect x="570" y="384" width="5" height="1" fill="#000"/>
<rect x="155" y="356" width="5" height="1" fill="#000"/>
<rect x="570" y="356" width="5" height="1" fill="#000"/>
<rect x="155" y="329" width="5" height="1" fill="#000"/>
<rect x="570" y="329" width="5" height="1" fill="#000"/>
<rect x="155" y="301" width="5" height="1" fill="#000"/>
<rect x="570" y="301" width="5" height="1" fill="#000"/>
<rect x="155" y="273" width="5" height="1" fill="#000"/>
<rect x="570" y="273" width="5" height="1" fill="#000"/>
<rect x="155" y="245" width="5" height="1" fill="#000"/>
<rect x="570" y="245" width="5" height="1" fill="#000"/>
<rect x="155" y="217" width="5" height="1" fill="#000"/>
<rect x="570" y="217" width="5" height="1" fill="#000"/>
<rect x="155" y="188" width="5" height="1" fill="#000"/>
<rect x="570" y="188" width="5" height="1" fill="#000"/>
<rect x="155" y="159" width="5" height="1" fill="#000"/>
<rect x="570" y="159" width="5" height="1" fill="#000"/>
<rect x="155" y="129" width="5" height="1" fill="#000"/>
<rect x="570" y="129" width="5" height="1" fill="#000"/>
<rect x="155" y="99" width="5" height="1" fill="#000"/>
<rect x="570" y="99" width="5" height="1" fill="#000"/>
<rect x="155" y="69" width="5" height="1" fill="#000"/>
<rect x="570" y="69" width="5" height="1" fill="#000"/>
<rect x="245.00" y="524" width="5.52" height="13" fill="rgb(0, 0, 255)"/>
<rect x="250.02" y="524" width="5.52" height="13" fill="rgb(0, 21, 255)"/>
<rect x="255.04" y="524" width="5.52" height="13" fill="rgb(0, 42, 255)"/>
<rect x="260.06" y="524" width="5.52" height="13" fill="rgb(0, 64, 255)"/>
<rect x="265.08" y="524" width="5.52" height="13" fill="rgb(0, 85, 255)"/>
<rect x="270.10" y="524" width="5.52" height="13" fill="rgb(0, 106, 255)"/>
<rect x="275.12" y="524" width="5.52" height="13" fill="rgb(0, 128, 255)"/>
<rect x="280.15" y="524" width="5.52" height="13" fill="rgb(0, 149, 255)"/>
<rect x="285.17" y="524" width="5.52" height="13" fill="rgb(0, 170, 255)"/>
<rect x="290.19" y="524" width="5.52" height="13" fill="rgb(0, 191, 255)"/>
<rect x="295.21" y="524" width="5.52" height="13" fill="rgb(0, 212, 255)"/>
<rect x="300.23" y="524" width="5.52" height="13" fill="rgb(0, 234, 255)"/>
<rect x="305.25" y="524" width="5.52" height="13" fill="rgb(0, 255, 255)"/>
<rect x="310.27" y="524" width="5.52" height="13" fill="rgb(0, 255, 234)"/>
<rect x="315.29" y="524" width="5.52" height="13" fill="rgb(0, 255, 212)"/>
<rect x="320.31" y="524" width="5.52" height="13" fill="rgb(0, 255, 191)"/>
<rect x="325.33" y="524" width="5.52" height="13" fill="rgb(0, 255, 170)"/>
<rect x="330.35" y="524" width="5.52" height="13" fill="rgb(0, 255, 149)"/>
<rect x="335.38" y="524" width="5.52" height="13" fill="rgb(0, 255, 128)"/>
<rect x="340.40" y="524" width="5.52" height="13" fill="rgb(0, 255, 106)"/>
<rect x="345.42" y="524" width="5.52" height="13" fill="rgb(0, 255, 85)"/>
<rect x="350.44" y="524" width="5.52" height="13" fill="rgb(0, 255, 64)"/>
<rect x="355.46" y="524" width="5.52" height="13" fill="rgb(0, 255, 42)"/>
<rect x="360.48" y="524" width="5.52" height="13" fill="rgb(0, 255, 21)"/>
<rect x="365.50" y="524" width="5.52" height="13" fill="rgb(0, 255, 0)"/>
<rect x="370.52" y="524" width="5.52" height="13" fill="rgb(21, 255, 0)"/>
<rect x="375.54" y="524" width="5.52" height="13" fill="rgb(42, 255, 0)"/>
<rect x="380.56" y="524" width="5.52" height="13" fill="rgb(64, 255, 0)"/>
<rect x="385.58" y="524" width="5.52" height="13" fill="rgb(85, 255, 0)"/>
<rect x="390.60" y="524" width="5.52" height="13" fill="rgb(106, 255, 0)"/>
<rect x="395.62" y="524" width="5.52" height="13" fill="rgb(128, 255, 0)"/>
<rect x="400.65" y="524" width="5.52" height="13" fill="rgb(149, 255, 0)"/>
<rect x="405.67" y="524" width="5.52" height="13" fill="rgb(170, 255, 0)"/>
<rect x="410.69" y="524" width="5.52" height="13" fill="rgb(191, 255, 0)"/>
<rect x="415.71" y="524" width="5.52" height="13" fill="rgb(212, 255, 0)"/>
<rect x="420.73" y="524" width="5.52" height="13" fill="rgb(234, 255, 0)"/>
<rect x="425.75" y="524" width="5.52" height="13" fill="rgb(255, 255, 0)"/>
<rect x="430.77" y="524" width="5.52" height="13" fill="rgb(255, 234, 0)"/>
<rect x="435.79" y="524" width="5.52" height="13" fill="rgb(255, 212, 0)"/>
<rect x="440.81" y="524" width="5.52" height="13" fill="rgb(255, 191, 0)"/>
<rect x="445.83" y="524" width="5.52" height="13" fill="rgb(255, 170, 0)"/>
<rect x="450.85" y="524" width="5.52" height="13" fill="rgb(255, 149, 0)"/>
<rect x="455.88" y="524" width="5.52" height="13" fill="rgb(255, 128, 0)"/>
<rect x="460.90" y="524" width="5.52" height="13" fill="rgb(255, 106, 0)"/>
<rect x="465.92" y="524" width="5.52" height="13" fill="rgb(255, 85, 0)"/>
<rect x="470.94" y="524" width="5.52" height="13" fill="rgb(255, 64, 0)"/>
<rect x="475.96" y="524" width="5.52" height="13" fill="rgb(255, 42, 0)"/>
<rect x="480.98" y="524" width="5.02" height="13" fill="rgb(255, 21, 0)"/>
<rect x="245" y="524" width="2" height="13" fill="#000"/>
</g>
<text x="238.5" y="19.7" font-size="13.4" fill="#000045" textLength="253" lengthAdjust="spacingAndGlyphs">Significant Wave Height with Wave Direction</text>
<text x="273" y="31.7" font-size="12" font-style="italic" fill="#000045" textLength="184" lengthAdjust="spacingAndGlyphs">Valid For Feb-07-2020 18:00 GMT</text>
<text x="158" y="483" font-size="11" font-style="italic" fill="#000" textLength="27.5" lengthAdjust="spacingAndGlyphs">100 E</text>
<text x="226" y="483" font-size="11" font-style="italic" fill="#000" textLength="27.5" lengthAdjust="spacingAndGlyphs">105 E</text>
<text x="294" y="483" font-size="11" font-style="italic" fill="#000" textLength="27.5" lengthAdjust="spacingAndGlyphs">110 E</text>
<text x="362" y="483" font-size="11" font-style="italic" fill="#000" textLength="27.5" lengthAdjust="spacingAndGlyphs">115 E</text>
<text x="430" y="483" font-size="11" font-style="italic" fill="#000" textLength="27.5" lengthAdjust="spacingAndGlyphs">120 E</text>
<text x="498" y="483" font-size="11" font-style="italic" fill="#000" textLength="27.5" lengthAdjust="spacingAndGlyphs">125 E</text>
<text x="566" y="483" font-size="11" font-style="italic" fill="#000" textLength="27.5" lengthAdjust="spacingAndGlyphs">130 E</text>
<text x="584" y="42" font-size="11" font-style="italic" fill="#000" textLength="23" lengthAdjust="spacingAndGlyphs">30 N</text>
<text x="584" y="119" font-size="11" font-style="italic" fill="#000" textLength="23" lengthAdjust="spacingAndGlyphs">25 N</text>
<text x="584" y="192" font-size="11" font-style="italic" fill="#000" textLength="23" lengthAdjust="spacingAndGlyphs">20 N</text>
<text x="584" y="263" font-size="11" font-style="italic" fill="#000" textLength="23" lengthAdjust="spacingAndGlyphs">15 N</text>
<text x="584" y="333" font-size="11" font-style="italic" fill="#000" textLength="23" lengthAdjust="spacingAndGlyphs">10 N</text>
<text x="584" y="401" font-size="11" font-style="italic" fill="#000" textLength="17" lengthAdjust="spacingAndGlyphs">5 N</text>
<text x="584" y="469" font-size="11" font-style="italic" fill="#000">0</text>
<text x="154.5" y="497.5" font-size="12.5" fill="#000045" textLength="91" lengthAdjust="spacingAndGlyphs">oceanweather inc.</text>
<text x="459" y="494" font-size="8.3" font-style="italic" fill="#000045" textLength="116" lengthAdjust="spacingAndGlyphs">Plotted at Feb 07, 2020 14:30 GMT</text>
<text x="296" y="509" font-size="10" fill="#000045" textLength="139" lengthAdjust="spacingAndGlyphs">Significant Wave Height (Meters)</text>
<text x="301" y="557" font-size="10" fill="#000045" textLength="129" lengthAdjust="spacingAndGlyphs">Significant Wave Height (Feet)</text>
<text x="246.0" y="521" font-size="10" fill="#000045" text-anchor="middle">0</text>
<text x="266.1" y="521" font-size="10" fill="#000045" text-anchor="middle">1</text>
<text x="286.2" y="521" font-size="10" fill="#000045" text-anchor="middle">2</text>
<text x="306.2" y="521" font-size="10" fill="#000045" text-anchor="middle">3</text>
<text x="326.3" y="521" font-size="10" fill="#000045" text-anchor="middle">4</text>
<text x="346.4" y="521" font-size="10" fill="#000045" text-anchor="middle">5</text>
<text x="366.5" y="521" font-size="10" fill="#000045" text-anchor="middle">6</text>
<text x="386.6" y="521" font-size="10" fill="#000045" text-anchor="middle">7</text>
<text x="406.6" y="521" font-size="10" fill="#000045" text-anchor="middle">8</text>
<text x="426.7" y="521" font-size="10" fill="#000045" text-anchor="middle">9</text>
<text x="446.8" y="521" font-size="10" fill="#000045" text-anchor="middle">10</text>
<text x="466.9" y="521" font-size="10" fill="#000045" text-anchor="middle">11</text>
<text x="487.0" y="521" font-size="10" fill="#000045" text-anchor="middle">12</text>
<text x="246.0" y="545" font-size="10" fill="#000045" text-anchor="middle">0</text>
<text x="276.1" y="545" font-size="10" fill="#000045" text-anchor="middle">5</text>
<text x="306.2" y="545" font-size="10" fill="#000045" text-anchor="middle">10</text>
<text x="336.3" y="545" font-size="10" fill="#000045" text-anchor="middle">15</text>
<text x="366.4" y="545" font-size="10" fill="#000045" text-anchor="middle">20</text>
<text x="396.5" y="545" font-size="10" fill="#000045" text-anchor="middle">25</text>
<text x="426.6" y="545" font-size="10" fill="#000045" text-anchor="middle">30</text>
<text x="456.7" y="545" font-size="10" fill="#000045" text-anchor="middle">35</text>
<text x="486.8" y="545" font-size="10" fill="#000045" text-anchor="middle">40</text>
</svg>
</body></html>
